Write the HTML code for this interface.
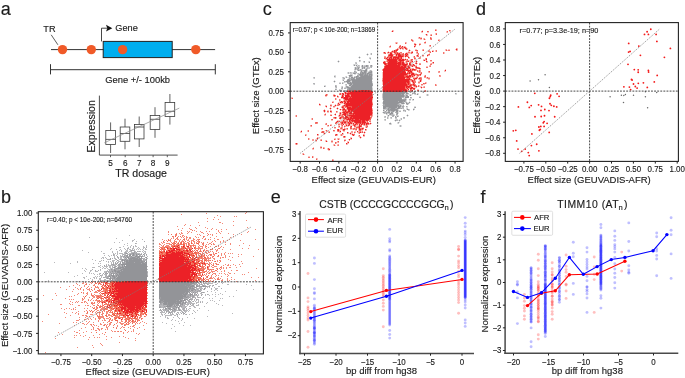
<!DOCTYPE html>
<html><head><meta charset="utf-8"><style>
html,body{margin:0;padding:0;background:#fff;}
body{width:685px;height:378px;overflow:hidden;}
svg{display:block;font-family:"Liberation Sans", sans-serif;will-change:transform;}
text{stroke:#1a1a1a;stroke-width:0.14px;paint-order:stroke;}
</style></head><body>
<svg width="685" height="378" viewBox="0 0 685 378">
<text x="0.70" y="14.60" font-size="18" text-anchor="start" fill="#1a1a1a" >a</text><text x="1.00" y="202.70" font-size="18" text-anchor="start" fill="#1a1a1a" >b</text><text x="262.70" y="14.60" font-size="18" text-anchor="start" fill="#1a1a1a" >c</text><text x="476.00" y="14.60" font-size="18" text-anchor="start" fill="#1a1a1a" >d</text><text x="270.80" y="203.00" font-size="18" text-anchor="start" fill="#1a1a1a" >e</text><text x="480.60" y="203.00" font-size="18" text-anchor="start" fill="#1a1a1a" >f</text><line x1="51.20" y1="34.80" x2="57.90" y2="44.80" stroke="#333" stroke-width="0.8" /><text x="43.30" y="32.30" font-size="9.2" text-anchor="start" fill="#1a1a1a" >TR</text><line x1="51.00" y1="49.60" x2="215.10" y2="49.60" stroke="#333" stroke-width="1" /><rect x="103.2" y="41.4" width="69" height="16.2" fill="#00aeef" stroke="#222" stroke-width="1"/><circle cx="62.5" cy="49.6" r="4.7" fill="#f05a28"/><circle cx="91.3" cy="49.6" r="4.7" fill="#f05a28"/><circle cx="122.6" cy="49.6" r="4.7" fill="#f05a28"/><circle cx="195.8" cy="49.6" r="4.7" fill="#f05a28"/><polyline points="101.5,41.4 101.5,28.2 107.5,28.2" fill="none" stroke="#333" stroke-width="0.9"/><polygon points="106,24.8 112.3,28.2 106,31.6 107.3,28.2" fill="#111"/><text x="115.30" y="31.20" font-size="9.2" text-anchor="start" fill="#1a1a1a" >Gene</text><line x1="50.50" y1="69.70" x2="215.30" y2="69.70" stroke="#333" stroke-width="1" /><line x1="50.50" y1="64.20" x2="50.50" y2="74.40" stroke="#333" stroke-width="1" /><line x1="215.30" y1="64.20" x2="215.30" y2="74.40" stroke="#333" stroke-width="1" /><text x="105.20" y="82.70" font-size="9.4" text-anchor="start" fill="#1a1a1a" >Gene +/- 100kb</text><line x1="99.40" y1="95.60" x2="99.40" y2="155.10" stroke="#3a3a3a" stroke-width="0.9" /><line x1="99.40" y1="155.10" x2="177.60" y2="155.10" stroke="#3a3a3a" stroke-width="0.9" /><line x1="110.60" y1="122.40" x2="110.60" y2="130.40" stroke="#3a3a3a" stroke-width="0.8" /><line x1="110.60" y1="144.60" x2="110.60" y2="153.00" stroke="#3a3a3a" stroke-width="0.8" /><rect x="105.80" y="130.4" width="9.6" height="14.20" fill="none" stroke="#3a3a3a" stroke-width="0.8"/><line x1="105.80" y1="139.40" x2="115.40" y2="139.40" stroke="#3a3a3a" stroke-width="0.8" /><line x1="110.50" y1="155.10" x2="110.50" y2="157.20" stroke="#3a3a3a" stroke-width="0.8" /><line x1="125.00" y1="118.70" x2="125.00" y2="127.00" stroke="#3a3a3a" stroke-width="0.8" /><line x1="125.00" y1="141.30" x2="125.00" y2="149.30" stroke="#3a3a3a" stroke-width="0.8" /><rect x="120.20" y="127.0" width="9.6" height="14.30" fill="none" stroke="#3a3a3a" stroke-width="0.8"/><line x1="120.20" y1="133.50" x2="129.80" y2="133.50" stroke="#3a3a3a" stroke-width="0.8" /><line x1="125.20" y1="155.10" x2="125.20" y2="157.20" stroke="#3a3a3a" stroke-width="0.8" /><line x1="139.20" y1="116.50" x2="139.20" y2="124.40" stroke="#3a3a3a" stroke-width="0.8" /><line x1="139.20" y1="138.90" x2="139.20" y2="147.00" stroke="#3a3a3a" stroke-width="0.8" /><rect x="134.40" y="124.4" width="9.6" height="14.50" fill="none" stroke="#3a3a3a" stroke-width="0.8"/><line x1="134.40" y1="127.00" x2="144.00" y2="127.00" stroke="#3a3a3a" stroke-width="0.8" /><line x1="139.20" y1="155.10" x2="139.20" y2="157.20" stroke="#3a3a3a" stroke-width="0.8" /><line x1="155.00" y1="107.20" x2="155.00" y2="115.50" stroke="#3a3a3a" stroke-width="0.8" /><line x1="155.00" y1="129.40" x2="155.00" y2="137.80" stroke="#3a3a3a" stroke-width="0.8" /><rect x="150.20" y="115.5" width="9.6" height="13.90" fill="none" stroke="#3a3a3a" stroke-width="0.8"/><line x1="150.20" y1="119.30" x2="159.80" y2="119.30" stroke="#3a3a3a" stroke-width="0.8" /><line x1="153.10" y1="155.10" x2="153.10" y2="157.20" stroke="#3a3a3a" stroke-width="0.8" /><line x1="169.90" y1="94.00" x2="169.90" y2="102.40" stroke="#3a3a3a" stroke-width="0.8" /><line x1="169.90" y1="116.50" x2="169.90" y2="124.60" stroke="#3a3a3a" stroke-width="0.8" /><rect x="165.10" y="102.4" width="9.6" height="14.10" fill="none" stroke="#3a3a3a" stroke-width="0.8"/><line x1="165.10" y1="111.30" x2="174.70" y2="111.30" stroke="#3a3a3a" stroke-width="0.8" /><line x1="167.30" y1="155.10" x2="167.30" y2="157.20" stroke="#3a3a3a" stroke-width="0.8" /><text x="110.50" y="166.10" font-size="8.2" text-anchor="middle" fill="#1a1a1a" >5</text><text x="125.20" y="166.10" font-size="8.2" text-anchor="middle" fill="#1a1a1a" >6</text><text x="139.20" y="166.10" font-size="8.2" text-anchor="middle" fill="#1a1a1a" >7</text><text x="153.10" y="166.10" font-size="8.2" text-anchor="middle" fill="#1a1a1a" >8</text><text x="167.30" y="166.10" font-size="8.2" text-anchor="middle" fill="#1a1a1a" >9</text><line x1="104.30" y1="142.80" x2="179.30" y2="108.10" stroke="#8a8a8a" stroke-width="0.7" /><text x="115.20" y="177.40" font-size="10.6" text-anchor="start" fill="#1a1a1a" >TR dosage</text><text transform="translate(94.6,152.5) rotate(-90)" font-size="10.6" fill="#1a1a1a">Expression</text><path d="M0 0m129 235h1v1h-1zm-40 2h1v1h-1zm27 1h1v1h-1zm18 1h1v1h-1zm8 0h1v1h-1zm-20 1h1v1h-1zm10 0h2v1h-2zm0 1h1v1h-1zm4 0h1v1h-1zm-22 1h1v1h-1zm5 0h1v1h-1zm8 1h1v1h-1zm9 0h1v1h-1zm-12 1h1v1h-1zm3 1h1v1h-1zm4 0h1v1h-1zm4 0h1v1h-1zm11 0h1v1h-1zm-23 1h1v1h-1zm7 0h1v1h-1zm5 0h2v1h-2zm8 0h1v1h-1zm3 0h1v1h-1zm-27 1h2v1h-2zm9 0h1v1h-1zm2 0h1v1h-1zm3 0h1v1h-1zm5 0h1v1h-1zm5 0h2v1h-2zm-32 1h1v1h-1zm13 0h1v1h-1zm4 0h1v1h-1zm4 0h2v1h-2zm5 0h1v1h-1zm2 0h1v1h-1zm4 0h1v1h-1zm2 0h1v1h-1zm-35 1h1v1h-1zm10 0h1v1h-1zm5 0h1v1h-1zm2 0h1v1h-1zm2 0h2v1h-2zm3 0h1v1h-1zm2 0h1v1h-1zm2 0h1v1h-1zm2 0h1v1h-1zm2 0h1v1h-1zm2 0h1v1h-1zm3 0h2v1h-2zm-63 1h1v1h-1zm37 0h1v1h-1zm2 0h1v1h-1zm5 0h2v1h-2zm4 0h1v1h-1zm4 0h1v1h-1zm9 0h1v1h-1zm-42 1h1v1h-1zm11 0h1v1h-1zm5 0h1v1h-1zm4 0h1v1h-1zm4 0h3v1h-3zm4 0h3v1h-3zm6 0h1v1h-1zm3 0h1v1h-1zm2 0h1v1h-1zm2 0h1v1h-1zm2 0h2v1h-2zm-56 1h1v1h-1zm24 0h1v1h-1zm5 0h1v1h-1zm7 0h1v1h-1zm2 0h1v1h-1zm2 0h1v1h-1zm3 0h3v1h-3zm4 0h1v1h-1zm8 0h1v1h-1zm2 0h1v1h-1zm-42 1h2v1h-2zm10 0h1v1h-1zm2 0h1v1h-1zm2 0h1v1h-1zm2 0h4v1h-4zm5 0h1v1h-1zm5 0h2v1h-2zm8 0h3v1h-3zm4 0h1v1h-1zm4 0h1v1h-1zm-31 1h1v1h-1zm3 0h1v1h-1zm5 0h1v1h-1zm2 0h2v1h-2zm3 0h2v1h-2zm4 0h1v1h-1zm4 0h1v1h-1zm9 0h1v1h-1zm-40 1h1v1h-1zm4 0h1v1h-1zm3 0h1v1h-1zm3 0h1v1h-1zm2 0h1v1h-1zm4 0h1v1h-1zm2 0h1v1h-1zm13 0h1v1h-1zm5 0h1v1h-1zm2 0h1v1h-1zm4 0h1v1h-1zm-37 1h1v1h-1zm5 0h1v1h-1zm6 0h1v1h-1zm2 0h1v1h-1zm3 0h1v1h-1zm3 0h1v1h-1zm4 0h3v1h-3zm11 0h2v1h-2zm4 0h1v1h-1zm-45 1h2v1h-2zm3 0h1v1h-1zm9 0h1v1h-1zm3 0h1v1h-1zm3 0h2v1h-2zm4 0h1v1h-1zm2 0h1v1h-1zm3 0h1v1h-1zm-28 1h1v1h-1zm2 0h1v1h-1zm3 0h1v1h-1zm8 0h2v1h-2zm6 0h2v1h-2zm4 0h2v1h-2zm19 0h1v1h-1zm3 0h2v1h-2zm-54 1h1v1h-1zm15 0h3v1h-3zm8 0h1v1h-1zm4 0h1v1h-1zm9 0h1v1h-1zm16 0h1v1h-1zm-49 1h1v1h-1zm6 0h1v1h-1zm11 0h3v1h-3zm6 0h1v1h-1zm24 0h1v1h-1zm3 0h1v1h-1zm-68 1h1v1h-1zm22 0h2v1h-2zm7 0h1v1h-1zm2 0h1v1h-1zm2 0h1v1h-1zm2 0h2v1h-2zm4 0h1v1h-1zm2 0h5v1h-5zm-64 1h1v1h-1zm23 0h1v1h-1zm31 0h1v1h-1zm3 0h1v1h-1zm7 0h1v1h-1zm7 0h1v1h-1zm19 0h1v1h-1zm-74 1h1v1h-1zm23 0h1v1h-1zm5 0h1v1h-1zm2 0h1v1h-1zm11 0h1v1h-1zm5 0h1v1h-1zm3 0h1v1h-1zm-13 1h1v1h-1zm2 0h1v1h-1zm6 0h2v1h-2zm-14 1h1v1h-1zm8 0h5v1h-5zm7 0h1v1h-1zm2 0h1v1h-1zm3 0h2v1h-2zm3 0h1v1h-1zm-25 1h2v1h-2zm4 0h1v1h-1zm2 0h4v1h-4zm5 0h2v1h-2zm5 0h1v1h-1zm7 0h1v1h-1zm26 0h1v1h-1zm-55 1h3v1h-3zm8 0h1v1h-1zm3 0h1v1h-1zm3 0h1v1h-1zm3 0h2v1h-2zm3 0h1v1h-1zm3 0h1v1h-1zm2 0h1v1h-1zm-35 1h1v1h-1zm3 0h1v1h-1zm17 0h1v1h-1zm2 0h2v1h-2zm3 0h1v1h-1zm3 0h3v1h-3zm4 0h1v1h-1zm-28 1h1v1h-1zm22 0h3v1h-3zm5 0h1v1h-1zm6 0h1v1h-1zm28 0h1v1h-1zm-63 1h1v1h-1zm6 0h2v1h-2zm10 0h1v1h-1zm7 0h1v1h-1zm3 0h1v1h-1zm-25 1h1v1h-1zm5 0h1v1h-1zm5 0h3v1h-3zm9 0h2v1h-2zm3 0h1v1h-1zm2 0h1v1h-1zm38 0h1v1h-1zm-103 1h1v1h-1zm24 0h1v1h-1zm21 0h1v1h-1zm15 0h2v1h-2zm4 0h2v1h-2zm3 0h1v1h-1zm3 0h1v1h-1zm-32 1h1v1h-1zm7 0h1v1h-1zm2 0h1v1h-1zm2 0h1v1h-1zm6 0h1v1h-1zm11 0h1v1h-1zm37 0h1v1h-1zm-53 1h1v1h-1zm3 0h1v1h-1zm2 0h1v1h-1zm3 0h1v1h-1zm2 0h2v1h-2zm43 0h1v1h-1zm-70 1h1v1h-1zm24 0h2v1h-2zm4 0h1v1h-1zm3 0h1v1h-1zm-34 1h1v1h-1zm12 0h1v1h-1zm9 0h1v1h-1zm2 0h1v1h-1zm2 0h1v1h-1zm2 0h1v1h-1zm5 0h1v1h-1zm5 0h1v1h-1zm6 0h1v1h-1zm-34 1h2v1h-2zm10 0h2v1h-2zm3 0h1v1h-1zm5 0h1v1h-1zm4 0h1v1h-1zm3 0h1v1h-1zm3 0h1v1h-1zm5 0h1v1h-1zm-32 1h1v1h-1zm6 0h1v1h-1zm4 0h1v1h-1zm2 0h1v1h-1zm3 0h1v1h-1zm7 0h1v1h-1zm-18 1h1v1h-1zm4 0h1v1h-1zm7 0h2v1h-2zm5 0h2v1h-2zm5 0h1v1h-1zm4 0h1v1h-1zm-65 1h1v1h-1zm44 0h1v1h-1zm6 0h1v1h-1zm3 0h3v1h-3zm4 0h2v1h-2zm4 0h1v1h-1zm-63 1h1v1h-1zm31 0h1v1h-1zm2 0h1v1h-1zm4 0h1v1h-1zm10 0h1v1h-1zm2 0h1v1h-1zm3 0h2v1h-2zm5 0h1v1h-1zm2 0h2v1h-2zm4 0h1v1h-1zm38 0h1v1h-1zm36 0h2v1h-2zm6 0h1v1h-1zm3 0h1v1h-1zm8 0h2v1h-2zm5 0h1v1h-1zm10 0h1v1h-1zm12 0h1v1h-1zm-33 1h1v1h-1zm9 0h1v1h-1zm2 0h1v1h-1zm3 0h1v1h-1zm6 0h2v1h-2zm7 0h1v1h-1zm2 0h1v1h-1zm-25 1h1v1h-1zm3 0h1v1h-1zm4 0h1v1h-1zm2 0h6v1h-6zm10 0h1v1h-1zm5 0h1v1h-1zm-30 1h2v1h-2zm4 0h1v1h-1zm3 0h2v1h-2zm3 0h1v1h-1zm2 0h1v1h-1zm4 0h1v1h-1zm7 0h2v1h-2zm12 0h2v1h-2zm19 0h1v1h-1zm-52 1h1v1h-1zm4 0h1v1h-1zm6 0h2v1h-2zm5 0h2v1h-2zm3 0h1v1h-1zm39 0h1v1h-1zm-44 1h2v1h-2zm5 0h1v1h-1zm6 0h2v1h-2zm-25 1h1v1h-1zm6 0h3v1h-3zm6 0h1v1h-1zm2 0h1v1h-1zm2 0h1v1h-1zm5 0h1v1h-1zm-26 1h1v1h-1zm6 0h1v1h-1zm3 0h6v1h-6zm8 0h1v1h-1zm10 0h3v1h-3zm-19 1h1v1h-1zm2 0h1v1h-1zm3 0h1v1h-1zm2 0h1v1h-1zm8 0h1v1h-1zm4 0h2v1h-2zm38 0h1v1h-1zm-63 1h1v1h-1zm4 0h1v1h-1zm2 0h2v1h-2zm4 0h2v1h-2zm14 0h1v1h-1zm3 0h1v1h-1zm19 0h1v1h-1zm-45 1h1v1h-1zm2 0h1v1h-1zm2 0h2v1h-2zm3 0h1v1h-1zm13 0h1v1h-1zm14 0h1v1h-1zm-37 1h1v1h-1zm4 0h1v1h-1zm2 0h1v1h-1zm3 0h1v1h-1zm7 0h1v1h-1zm11 0h1v1h-1zm-26 1h1v1h-1zm6 0h1v1h-1zm5 0h2v1h-2zm20 0h1v1h-1zm-25 1h1v1h-1zm3 0h1v1h-1zm3 0h2v1h-2zm4 0h1v1h-1zm3 0h1v1h-1zm4 0h1v1h-1zm3 0h1v1h-1zm3 0h1v1h-1zm4 0h1v1h-1zm-31 1h1v1h-1zm4 0h4v1h-4zm10 0h1v1h-1zm4 0h1v1h-1zm-20 1h1v1h-1zm2 0h1v1h-1zm3 0h1v1h-1zm21 0h1v1h-1zm14 0h1v1h-1zm4 0h1v1h-1zm-43 1h1v1h-1zm4 0h2v1h-2zm3 0h1v1h-1zm2 0h2v1h-2zm4 0h1v1h-1zm-17 1h2v1h-2zm4 0h3v1h-3zm12 0h1v1h-1zm7 0h1v1h-1zm3 0h1v1h-1zm8 0h1v1h-1zm2 0h1v1h-1zm-63 1h1v1h-1zm35 0h1v1h-1zm3 0h2v1h-2zm-38 1h1v1h-1zm20 0h1v1h-1zm8 0h1v1h-1zm2 0h1v1h-1zm2 0h1v1h-1zm3 0h1v1h-1zm2 0h1v1h-1zm2 0h1v1h-1zm12 0h1v1h-1zm2 0h1v1h-1zm7 0h1v1h-1zm-34 1h2v1h-2zm7 0h1v1h-1zm3 0h1v1h-1zm3 0h1v1h-1zm2 0h1v1h-1zm2 0h1v1h-1zm12 0h1v1h-1zm-33 1h1v1h-1zm3 0h1v1h-1zm3 0h5v1h-5zm9 0h3v1h-3zm6 0h1v1h-1zm5 0h1v1h-1zm-45 1h1v1h-1zm25 0h8v1h-8zm9 0h1v1h-1zm10 0h1v1h-1zm10 0h1v1h-1zm-54 1h1v1h-1zm21 0h5v1h-5zm9 0h1v1h-1zm6 0h1v1h-1zm20 0h1v1h-1zm-58 1h3v1h-3zm4 0h3v1h-3zm9 0h1v1h-1zm2 0h1v1h-1zm4 0h1v1h-1zm2 0h1v1h-1zm2 0h1v1h-1zm4 0h1v1h-1zm4 0h3v1h-3zm6 0h2v1h-2zm25 0h1v1h-1zm-61 1h3v1h-3zm15 0h1v1h-1zm6 0h5v1h-5zm7 0h2v1h-2zm4 0h2v1h-2zm11 0h1v1h-1zm-43 1h2v1h-2zm3 0h2v1h-2zm7 0h1v1h-1zm8 0h1v1h-1zm2 0h4v1h-4zm13 0h2v1h-2zm-31 1h1v1h-1zm4 0h1v1h-1zm5 0h1v1h-1zm3 0h1v1h-1zm4 0h1v1h-1zm3 0h1v1h-1zm7 0h2v1h-2zm10 0h1v1h-1zm-37 1h3v1h-3zm5 0h2v1h-2zm6 0h1v1h-1zm3 0h1v1h-1zm4 0h1v1h-1zm2 0h1v1h-1zm2 0h1v1h-1zm2 0h1v1h-1zm2 0h1v1h-1zm-29 1h1v1h-1zm5 0h1v1h-1zm2 0h1v1h-1zm4 0h1v1h-1zm6 0h3v1h-3zm5 0h1v1h-1zm4 0h3v1h-3zm4 0h1v1h-1zm4 0h1v1h-1zm4 0h1v1h-1zm11 0h1v1h-1zm-47 1h2v1h-2zm3 0h1v1h-1zm3 0h1v1h-1zm2 0h1v1h-1zm2 0h1v1h-1zm2 0h1v1h-1zm2 0h1v1h-1zm6 0h2v1h-2zm3 0h3v1h-3zm4 0h1v1h-1zm6 0h1v1h-1zm-33 1h4v1h-4zm5 0h1v1h-1zm2 0h1v1h-1zm4 0h1v1h-1zm2 0h1v1h-1zm4 0h1v1h-1zm2 0h1v1h-1zm15 0h1v1h-1zm-34 1h1v1h-1zm15 0h1v1h-1zm2 0h1v1h-1zm54 0h1v1h-1zm-71 1h2v1h-2zm3 0h1v1h-1zm6 0h4v1h-4zm6 0h1v1h-1zm3 0h1v1h-1zm4 0h1v1h-1zm2 0h1v1h-1zm4 0h1v1h-1zm-27 1h1v1h-1zm3 0h7v1h-7zm9 0h2v1h-2zm3 0h1v1h-1zm-17 1h1v1h-1zm5 0h1v1h-1zm42 0h1v1h-1zm-42 1h1v1h-1zm2 0h1v1h-1zm6 0h1v1h-1zm5 0h1v1h-1zm9 0h1v1h-1zm-20 1h2v1h-2zm15 0h1v1h-1zm12 0h1v1h-1zm-22 1h1v1h-1zm10 0h1v1h-1zm-11 1h1v1h-1zm4 0h1v1h-1zm6 0h1v1h-1zm-3 1h1v1h-1zm-16 1h1v1h-1zm22 0h1v1h-1zm-18 1h1v1h-1zm13 0h1v1h-1zm-7 1h1v1h-1zm11 1h1v1h-1zm7 0h1v1h-1zm-16 1h1v1h-1zm-3 2h1v1h-1zm4 3h1v1h-1z" fill="#939498" fill-opacity="0.65"/><path d="M0 0m144 241h1v1h-1zm-9 2h1v1h-1zm-2 3h1v1h-1zm13 1h1v1h-1zm-19 1h1v1h-1zm-11 1h1v1h-1zm16 1h2v1h-2zm2 1h1v1h-1zm3 0h1v1h-1zm2 0h1v1h-1zm-14 1h1v1h-1zm11 0h1v1h-1zm-11 1h1v1h-1zm2 0h1v1h-1zm4 0h1v1h-1zm3 0h3v1h-3zm10 0h1v1h-1zm-31 1h1v1h-1zm10 0h1v1h-1zm6 0h1v1h-1zm3 0h1v1h-1zm2 0h1v1h-1zm3 0h1v1h-1zm2 0h2v1h-2zm-26 1h1v1h-1zm11 0h2v1h-2zm10 0h1v1h-1zm3 0h1v1h-1zm2 0h1v1h-1zm-18 1h1v1h-1zm2 0h1v1h-1zm7 0h1v1h-1zm10 0h1v1h-1zm-22 1h1v1h-1zm5 0h1v1h-1zm13 0h1v1h-1zm9 0h1v1h-1zm-33 1h1v1h-1zm6 0h1v1h-1zm20 0h1v1h-1zm4 0h1v1h-1zm2 0h1v1h-1zm-34 1h1v1h-1zm6 0h1v1h-1zm4 0h2v1h-2zm3 0h2v1h-2zm3 0h2v1h-2zm19 0h1v1h-1zm-42 1h1v1h-1zm18 0h1v1h-1zm4 0h1v1h-1zm18 0h2v1h-2zm3 0h1v1h-1zm-33 2h1v1h-1zm2 0h1v1h-1zm2 0h1v1h-1zm6 0h1v1h-1zm11 0h1v1h-1zm-21 1h1v1h-1zm4 0h1v1h-1zm5 0h1v1h-1zm19 0h1v1h-1zm-30 1h2v1h-2zm5 0h1v1h-1zm4 0h1v1h-1zm-14 1h1v1h-1zm7 0h2v1h-2zm5 0h1v1h-1zm-6 1h1v1h-1zm4 0h1v1h-1zm2 0h1v1h-1zm2 0h1v1h-1zm3 0h1v1h-1zm-10 1h1v1h-1zm11 0h1v1h-1zm-9 1h1v1h-1zm6 0h1v1h-1zm-29 1h1v1h-1zm8 0h1v1h-1zm12 0h1v1h-1zm3 0h4v1h-4zm5 0h1v1h-1zm-25 1h1v1h-1zm3 0h1v1h-1zm11 0h1v1h-1zm2 0h3v1h-3zm5 0h2v1h-2zm6 0h1v1h-1zm-16 1h1v1h-1zm2 0h1v1h-1zm2 0h2v1h-2zm3 0h1v1h-1zm7 0h1v1h-1zm-14 1h1v1h-1zm6 0h2v1h-2zm4 0h1v1h-1zm31 0h1v1h-1zm-47 1h1v1h-1zm6 0h1v1h-1zm3 0h1v1h-1zm3 0h1v1h-1zm3 0h1v1h-1zm2 0h2v1h-2zm-11 1h1v1h-1zm3 0h3v1h-3zm6 0h2v1h-2zm3 0h1v1h-1zm-12 1h1v1h-1zm4 0h1v1h-1zm4 0h2v1h-2zm33 0h1v1h-1zm-42 1h1v1h-1zm2 0h1v1h-1zm8 0h1v1h-1zm-12 1h2v1h-2zm3 0h2v1h-2zm6 0h1v1h-1zm-12 1h1v1h-1zm8 0h1v1h-1zm3 0h1v1h-1zm4 0h1v1h-1zm-1 1h1v1h-1zm-10 1h1v1h-1zm3 0h2v1h-2zm3 0h1v1h-1zm3 0h2v1h-2zm34 0h1v1h-1zm-45 1h1v1h-1zm8 0h1v1h-1zm49 0h1v1h-1zm22 0h1v1h-1zm4 0h1v1h-1zm3 0h1v1h-1zm5 0h1v1h-1zm8 1h1v1h-1zm-6 1h1v1h-1zm4 0h1v1h-1zm4 0h2v1h-2zm3 0h1v1h-1zm-11 1h1v1h-1zm2 1h1v1h-1zm5 0h1v1h-1zm-8 1h1v1h-1zm4 0h3v1h-3zm4 0h1v1h-1zm-11 1h1v1h-1zm5 0h1v1h-1zm0 1h1v1h-1zm15 0h1v1h-1zm10 0h1v1h-1zm-31 1h1v1h-1zm5 0h1v1h-1zm2 0h1v1h-1zm-4 1h1v1h-1zm5 0h2v1h-2zm-9 1h1v1h-1zm3 0h1v1h-1zm2 0h1v1h-1zm5 0h2v1h-2zm8 0h1v1h-1zm-16 1h1v1h-1zm5 0h1v1h-1zm5 0h2v1h-2zm-9 1h1v1h-1zm2 0h1v1h-1zm3 0h1v1h-1zm-10 1h3v1h-3zm20 0h1v1h-1zm-21 1h4v1h-4zm7 0h2v1h-2zm-7 1h1v1h-1zm4 0h1v1h-1zm2 0h1v1h-1zm5 0h1v1h-1zm-14 1h1v1h-1zm5 0h1v1h-1zm5 0h1v1h-1zm5 0h1v1h-1zm-14 1h2v1h-2zm4 0h1v1h-1zm7 0h1v1h-1zm-14 1h2v1h-2zm10 0h2v1h-2zm5 0h1v1h-1zm-8 1h1v1h-1zm-6 1h1v1h-1zm6 0h1v1h-1zm2 0h1v1h-1zm3 0h1v1h-1zm-30 1h1v1h-1zm23 0h1v1h-1zm14 0h1v1h-1zm-39 1h1v1h-1zm20 0h1v1h-1zm2 0h1v1h-1zm-24 1h3v1h-3zm16 0h1v1h-1zm13 0h1v1h-1zm5 0h1v1h-1zm-34 1h1v1h-1zm4 0h1v1h-1zm19 0h1v1h-1zm2 0h1v1h-1zm12 0h1v1h-1zm-37 1h2v1h-2zm6 0h1v1h-1zm7 0h1v1h-1zm5 0h1v1h-1zm3 0h1v1h-1zm-20 1h1v1h-1zm3 0h1v1h-1zm4 0h4v1h-4zm5 0h4v1h-4zm5 0h1v1h-1zm8 0h1v1h-1zm-9 1h1v1h-1zm7 0h2v1h-2zm3 0h1v1h-1zm-20 1h1v1h-1zm6 0h1v1h-1zm6 0h1v1h-1zm5 0h1v1h-1zm-23 1h2v1h-2zm3 0h1v1h-1zm2 0h1v1h-1zm2 0h1v1h-1zm6 0h3v1h-3zm7 0h1v1h-1zm3 0h2v1h-2zm-15 1h1v1h-1zm4 0h1v1h-1zm2 0h1v1h-1zm-14 1h1v1h-1zm10 0h2v1h-2zm7 0h1v1h-1zm5 0h2v1h-2zm3 0h1v1h-1zm-20 1h1v1h-1zm3 0h1v1h-1zm2 0h1v1h-1zm2 0h1v1h-1zm11 0h1v1h-1zm9 0h1v1h-1zm-6 1h1v1h-1zm-9 2h1v1h-1zm2 2h1v1h-1z" fill="#939498" fill-opacity="0.80"/><path d="M0 0m131 250h1v1h-1zm3 2h1v1h-1zm-2 1h1v1h-1zm9 1h1v1h-1zm2 0h1v1h-1zm3 0h1v1h-1zm-20 1h1v1h-1zm18 0h1v1h-1zm-27 1h1v1h-1zm7 0h1v1h-1zm2 0h2v1h-2zm3 0h1v1h-1zm8 0h1v1h-1zm5 0h1v1h-1zm-12 1h2v1h-2zm5 0h1v1h-1zm4 0h1v1h-1zm-29 1h1v1h-1zm16 0h1v1h-1zm3 0h1v1h-1zm12 0h1v1h-1zm-9 1h1v1h-1zm9 0h1v1h-1zm2 0h1v1h-1zm-26 1h1v1h-1zm6 0h1v1h-1zm5 0h1v1h-1zm-4 1h2v1h-2zm4 0h1v1h-1zm12 0h1v1h-1zm3 0h1v1h-1zm-23 1h1v1h-1zm4 0h1v1h-1zm19 0h1v1h-1zm-28 1h1v1h-1zm5 0h1v1h-1zm3 0h3v1h-3zm22 0h1v1h-1zm-32 1h1v1h-1zm5 0h2v1h-2zm-14 1h1v1h-1zm15 0h1v1h-1zm-4 1h1v1h-1zm4 0h1v1h-1zm0 1h1v1h-1zm-2 1h1v1h-1zm5 0h1v1h-1zm-4 2h2v1h-2zm-4 1h1v1h-1zm2 0h1v1h-1zm-6 1h1v1h-1zm5 0h1v1h-1zm-12 1h1v1h-1zm2 0h1v1h-1zm2 0h1v1h-1zm6 0h2v1h-2zm-13 2h1v1h-1zm9 0h1v1h-1zm3 0h1v1h-1zm5 0h1v1h-1zm2 0h1v1h-1zm-11 1h1v1h-1zm2 0h1v1h-1zm37 0h1v1h-1zm-34 1h1v1h-1zm2 0h1v1h-1zm-6 1h1v1h-1zm3 0h2v1h-2zm3 1h2v1h-2zm-15 1h1v1h-1zm16 0h1v1h-1zm-12 1h1v1h-1zm3 0h2v1h-2zm8 0h1v1h-1zm63 0h1v1h-1zm9 0h1v1h-1zm9 1h3v1h-3zm4 0h1v1h-1zm-11 1h1v1h-1zm5 0h1v1h-1zm2 0h1v1h-1zm-5 1h1v1h-1zm3 0h1v1h-1zm3 0h1v1h-1zm4 0h1v1h-1zm6 0h1v1h-1zm-22 1h1v1h-1zm5 0h2v1h-2zm9 0h1v1h-1zm4 0h1v1h-1zm10 0h1v1h-1zm-26 1h1v1h-1zm2 0h1v1h-1zm7 0h1v1h-1zm5 0h1v1h-1zm3 0h3v1h-3zm5 0h1v1h-1zm-21 1h1v1h-1zm4 0h1v1h-1zm2 0h2v1h-2zm-3 1h1v1h-1zm0 1h3v1h-3zm9 0h1v1h-1zm4 0h1v1h-1zm-16 1h1v1h-1zm7 0h1v1h-1zm-5 1h1v1h-1zm7 0h1v1h-1zm-12 1h1v1h-1zm10 0h1v1h-1zm8 0h1v1h-1zm-19 1h1v1h-1zm6 0h1v1h-1zm-8 1h1v1h-1zm10 0h1v1h-1zm2 0h1v1h-1zm-11 1h1v1h-1zm9 0h1v1h-1zm9 0h1v1h-1zm-14 1h2v1h-2zm6 0h1v1h-1zm-33 1h1v1h-1zm24 0h2v1h-2zm3 0h1v1h-1zm2 0h1v1h-1zm3 0h1v1h-1zm-32 1h1v1h-1zm23 0h1v1h-1zm2 1h1v1h-1zm2 0h1v1h-1zm3 0h1v1h-1zm-27 1h1v1h-1zm13 0h1v1h-1zm6 0h1v1h-1zm3 0h1v1h-1zm-24 1h2v1h-2zm22 0h1v1h-1zm6 0h1v1h-1zm-30 1h1v1h-1zm2 0h2v1h-2zm6 0h1v1h-1zm9 0h1v1h-1zm6 0h1v1h-1zm-22 1h1v1h-1zm7 0h1v1h-1zm7 0h1v1h-1zm10 0h2v1h-2zm-21 1h1v1h-1zm4 0h1v1h-1zm6 0h2v1h-2zm3 0h1v1h-1zm4 0h2v1h-2zm10 0h1v1h-1zm-22 1h1v1h-1zm4 0h1v1h-1zm5 0h2v1h-2zm3 0h1v1h-1zm-16 1h1v1h-1zm7 0h1v1h-1zm2 0h2v1h-2zm8 0h1v1h-1zm-15 2h1v1h-1zm4 0h1v1h-1zm4 0h1v1h-1zm-14 1h1v1h-1zm5 0h1v1h-1zm4 0h2v1h-2zm6 0h1v1h-1zm4 0h1v1h-1zm-11 1h1v1h-1zm4 0h1v1h-1zm7 0h1v1h-1zm-13 1h1v1h-1zm15 2h1v1h-1zm3 0h1v1h-1zm-7 1h1v1h-1z" fill="#939498" fill-opacity="0.90"/><path d="M0 0m126 253h1v1h-1zm7 0h1v1h-1zm-3 1h1v1h-1zm3 0h1v1h-1zm3 0h1v1h-1zm2 0h1v1h-1zm-11 1h1v1h-1zm2 0h2v1h-2zm3 0h2v1h-2zm4 0h1v1h-1zm-5 1h1v1h-1zm4 0h2v1h-2zm3 0h2v1h-2zm3 0h1v1h-1zm-16 1h1v1h-1zm2 0h2v1h-2zm5 0h3v1h-3zm5 0h2v1h-2zm4 0h1v1h-1zm5 0h1v1h-1zm-18 1h1v1h-1zm2 0h8v1h-8zm9 0h2v1h-2zm-17 1h1v1h-1zm3 0h1v1h-1zm4 0h3v1h-3zm4 0h8v1h-8zm13 0h1v1h-1zm-24 1h1v1h-1zm2 0h1v1h-1zm2 0h2v1h-2zm3 0h13v1h-13zm-3 1h2v1h-2zm3 0h11v1h-11zm12 0h2v1h-2zm3 0h1v1h-1zm2 0h1v1h-1zm-24 1h1v1h-1zm4 0h8v1h-8zm9 0h8v1h-8zm10 0h2v1h-2zm-19 1h15v1h-15zm16 0h3v1h-3zm4 0h1v1h-1zm-25 1h26v1h-26zm1 1h1v1h-1zm2 0h1v1h-1zm2 0h21v1h-21zm-4 1h1v1h-1zm2 0h23v1h-23zm-10 1h1v1h-1zm4 0h1v1h-1zm2 0h4v1h-4zm5 0h22v1h-22zm-9 1h1v1h-1zm2 0h3v1h-3zm5 0h24v1h-24zm-12 1h1v1h-1zm3 0h1v1h-1zm7 0h26v1h-26zm-7 1h2v1h-2zm6 0h2v1h-2zm3 0h24v1h-24zm-11 1h1v1h-1zm3 0h1v1h-1zm2 0h3v1h-3zm4 0h26v1h-26zm-4 1h30v1h-30zm-6 1h1v1h-1zm5 0h1v1h-1zm3 0h28v1h-28zm-6 1h1v1h-1zm4 0h1v1h-1zm2 0h28v1h-28zm-8 1h1v1h-1zm2 0h1v1h-1zm3 0h1v1h-1zm2 0h1v1h-1zm2 0h27v1h-27zm-11 1h1v1h-1zm3 0h3v1h-3zm4 0h1v1h-1zm2 0h29v1h-29zm-8 1h1v1h-1zm4 0h1v1h-1zm3 0h30v1h-30zm-10 1h1v1h-1zm3 0h1v1h-1zm4 0h1v1h-1zm2 0h31v1h-31zm-6 1h1v1h-1zm2 0h1v1h-1zm5 0h30v1h-30zm-6 1h2v1h-2zm4 0h1v1h-1zm2 0h30v1h-30zm-26 1h1v1h-1zm21 0h1v1h-1zm2 0h1v1h-1zm2 0h31v1h-31zm44 0h18v1h-18zm19 0h2v1h-2zm3 0h1v1h-1zm-23 1h35v1h-35zm36 0h1v1h-1zm-36 1h30v1h-30zm31 0h4v1h-4zm-31 1h32v1h-32zm0 1h26v1h-26zm27 0h4v1h-4zm6 0h2v1h-2zm4 0h1v1h-1zm-37 1h28v1h-28zm29 0h1v1h-1zm2 0h4v1h-4zm7 0h1v1h-1zm6 0h1v1h-1zm-44 1h29v1h-29zm30 0h2v1h-2zm-30 1h29v1h-29zm30 0h2v1h-2zm3 0h2v1h-2zm12 0h1v1h-1zm-45 1h31v1h-31zm35 0h1v1h-1zm-35 1h29v1h-29zm30 0h1v1h-1zm2 0h2v1h-2zm-32 1h30v1h-30zm0 1h26v1h-26zm27 0h2v1h-2zm3 0h1v1h-1zm4 0h1v1h-1zm-34 1h25v1h-25zm26 0h3v1h-3zm-26 1h23v1h-23zm24 0h4v1h-4zm7 0h2v1h-2zm6 0h1v1h-1zm-37 1h24v1h-24zm25 0h2v1h-2zm6 0h1v1h-1zm-31 1h27v1h-27zm0 1h1v1h-1zm2 0h22v1h-22zm25 0h1v1h-1zm-27 1h1v1h-1zm2 0h22v1h-22zm-1 1h21v1h-21zm24 0h1v1h-1zm2 0h1v1h-1zm3 0h1v1h-1zm-29 1h3v1h-3zm4 0h12v1h-12zm13 0h2v1h-2zm3 0h2v1h-2zm3 0h2v1h-2zm-24 1h2v1h-2zm4 0h19v1h-19zm-3 1h1v1h-1zm4 0h3v1h-3zm4 0h8v1h-8zm9 0h4v1h-4zm6 0h1v1h-1zm2 0h1v1h-1zm-22 1h4v1h-4zm5 0h6v1h-6zm7 0h6v1h-6zm7 0h1v1h-1zm-18 1h3v1h-3zm4 0h5v1h-5zm9 0h2v1h-2zm5 0h1v1h-1zm-15 1h1v1h-1zm2 0h3v1h-3zm5 0h1v1h-1zm2 0h1v1h-1zm-10 1h5v1h-5zm9 0h1v1h-1zm4 0h1v1h-1zm-20 1h1v1h-1zm17 0h1v1h-1zm2 0h1v1h-1zm-13 1h1v1h-1zm3 0h2v1h-2zm5 0h1v1h-1zm5 0h1v1h-1zm-7 1h1v1h-1zm3 0h1v1h-1zm-5 3h1v1h-1z" fill="#939498"/><path d="M0 0m246 212h1v1h-1zm-40 1h1v1h-1zm39 0h1v1h-1zm-64 1h1v1h-1zm36 1h1v1h-1zm3 1h1v1h-1zm14 0h1v1h-1zm2 0h1v1h-1zm-22 1h1v1h-1zm-7 1h1v1h-1zm6 1h1v1h-1zm5 0h1v1h-1zm28 1h1v1h-1zm-39 1h1v1h-1zm26 0h1v1h-1zm-35 1h1v1h-1zm21 0h2v1h-2zm3 1h1v1h-1zm-37 1h1v1h-1zm-1 1h1v1h-1zm6 0h1v1h-1zm9 0h1v1h-1zm34 0h1v1h-1zm-56 1h1v1h-1zm18 1h1v1h-1zm10 0h1v1h-1zm42 0h1v1h-1zm-65 1h1v1h-1zm7 0h1v1h-1zm7 0h1v1h-1zm11 0h1v1h-1zm5 0h1v1h-1zm-34 1h1v1h-1zm12 0h2v1h-2zm21 0h1v1h-1zm5 0h1v1h-1zm5 0h1v1h-1zm5 0h1v1h-1zm29 0h1v1h-1zm-74 1h1v1h-1zm13 0h1v1h-1zm24 0h1v1h-1zm-50 1h1v1h-1zm19 0h1v1h-1zm2 0h1v1h-1zm7 0h1v1h-1zm4 0h1v1h-1zm6 0h1v1h-1zm3 0h1v1h-1zm9 0h1v1h-1zm3 0h1v1h-1zm27 0h1v1h-1zm-80 1h1v1h-1zm13 0h1v1h-1zm7 0h1v1h-1zm3 0h1v1h-1zm10 0h2v1h-2zm18 0h1v1h-1zm28 0h1v1h-1zm-71 1h1v1h-1zm3 0h1v1h-1zm2 0h2v1h-2zm6 0h1v1h-1zm16 0h1v1h-1zm4 0h1v1h-1zm9 0h1v1h-1zm4 0h1v1h-1zm8 0h1v1h-1zm-60 1h1v1h-1zm7 0h1v1h-1zm5 0h1v1h-1zm17 0h1v1h-1zm2 0h1v1h-1zm11 0h1v1h-1zm2 0h1v1h-1zm21 0h1v1h-1zm8 0h1v1h-1zm-66 1h2v1h-2zm7 0h2v1h-2zm18 0h1v1h-1zm7 0h1v1h-1zm5 0h1v1h-1zm-39 1h1v1h-1zm5 0h1v1h-1zm4 0h1v1h-1zm2 0h1v1h-1zm2 0h1v1h-1zm9 0h1v1h-1zm9 0h1v1h-1zm12 0h1v1h-1zm17 0h1v1h-1zm-60 1h1v1h-1zm8 0h1v1h-1zm2 0h1v1h-1zm3 0h2v1h-2zm3 0h2v1h-2zm7 0h1v1h-1zm2 0h1v1h-1zm5 0h1v1h-1zm7 0h1v1h-1zm12 0h1v1h-1zm8 0h1v1h-1zm-59 1h1v1h-1zm2 0h1v1h-1zm3 0h2v1h-2zm8 0h1v1h-1zm2 0h1v1h-1zm3 0h2v1h-2zm4 0h1v1h-1zm9 0h1v1h-1zm3 0h1v1h-1zm9 0h1v1h-1zm-52 1h1v1h-1zm8 0h1v1h-1zm7 0h2v1h-2zm3 0h1v1h-1zm6 0h1v1h-1zm2 0h1v1h-1zm5 0h2v1h-2zm4 0h2v1h-2zm7 0h2v1h-2zm6 0h1v1h-1zm7 0h2v1h-2zm12 0h1v1h-1zm26 0h1v1h-1zm-91 1h1v1h-1zm2 0h1v1h-1zm3 0h2v1h-2zm5 0h1v1h-1zm5 0h1v1h-1zm3 0h1v1h-1zm2 0h1v1h-1zm3 0h2v1h-2zm4 0h3v1h-3zm5 0h1v1h-1zm2 0h1v1h-1zm16 0h1v1h-1zm9 0h1v1h-1zm4 0h1v1h-1zm13 0h1v1h-1zm-70 1h1v1h-1zm4 0h3v1h-3zm5 0h1v1h-1zm2 0h2v1h-2zm10 0h1v1h-1zm2 0h2v1h-2zm4 0h2v1h-2zm15 0h1v1h-1zm3 0h1v1h-1zm5 0h1v1h-1zm3 0h1v1h-1zm-62 1h1v1h-1zm2 0h2v1h-2zm8 0h1v1h-1zm2 0h1v1h-1zm3 0h1v1h-1zm2 0h1v1h-1zm2 0h1v1h-1zm3 0h2v1h-2zm4 0h2v1h-2zm7 0h1v1h-1zm2 0h1v1h-1zm2 0h2v1h-2zm3 0h1v1h-1zm2 0h1v1h-1zm4 0h1v1h-1zm4 0h1v1h-1zm9 0h1v1h-1zm5 0h1v1h-1zm-66 1h1v1h-1zm3 0h1v1h-1zm4 0h4v1h-4zm7 0h1v1h-1zm4 0h1v1h-1zm7 0h3v1h-3zm5 0h1v1h-1zm3 0h1v1h-1zm2 0h1v1h-1zm2 0h1v1h-1zm6 0h1v1h-1zm7 0h2v1h-2zm4 0h1v1h-1zm17 0h1v1h-1zm13 0h1v1h-1zm-84 1h2v1h-2zm5 0h1v1h-1zm5 0h2v1h-2zm5 0h1v1h-1zm2 0h4v1h-4zm6 0h1v1h-1zm4 0h1v1h-1zm3 0h1v1h-1zm4 0h1v1h-1zm5 0h1v1h-1zm4 0h2v1h-2zm4 0h1v1h-1zm2 0h1v1h-1zm5 0h2v1h-2zm12 0h1v1h-1zm5 0h1v1h-1zm-69 1h1v1h-1zm5 0h3v1h-3zm5 0h3v1h-3zm4 0h1v1h-1zm4 0h1v1h-1zm7 0h1v1h-1zm2 0h2v1h-2zm3 0h2v1h-2zm3 0h2v1h-2zm5 0h1v1h-1zm6 0h1v1h-1zm13 0h1v1h-1zm21 0h1v1h-1zm10 0h1v1h-1zm-90 1h1v1h-1zm3 0h2v1h-2zm4 0h4v1h-4zm12 0h2v1h-2zm4 0h1v1h-1zm4 0h1v1h-1zm5 0h1v1h-1zm2 0h1v1h-1zm2 0h1v1h-1zm3 0h1v1h-1zm2 0h3v1h-3zm5 0h1v1h-1zm5 0h1v1h-1zm6 0h1v1h-1zm2 0h1v1h-1zm3 0h1v1h-1zm-61 1h1v1h-1zm2 0h2v1h-2zm3 0h1v1h-1zm3 0h3v1h-3zm8 0h1v1h-1zm5 0h1v1h-1zm4 0h1v1h-1zm2 0h1v1h-1zm2 0h3v1h-3zm9 0h2v1h-2zm4 0h1v1h-1zm3 0h1v1h-1zm3 0h1v1h-1zm12 0h1v1h-1zm3 0h1v1h-1zm-64 1h1v1h-1zm4 0h1v1h-1zm6 0h1v1h-1zm11 0h1v1h-1zm4 0h1v1h-1zm3 0h2v1h-2zm3 0h2v1h-2zm5 0h8v1h-8zm11 0h1v1h-1zm6 0h1v1h-1zm6 0h1v1h-1zm24 0h1v1h-1zm6 0h1v1h-1zm-87 1h1v1h-1zm6 0h3v1h-3zm16 0h2v1h-2zm12 0h1v1h-1zm5 0h1v1h-1zm4 0h1v1h-1zm7 0h2v1h-2zm4 0h1v1h-1zm2 0h1v1h-1zm5 0h1v1h-1zm8 0h1v1h-1zm28 0h1v1h-1zm-99 1h1v1h-1zm2 0h1v1h-1zm2 0h1v1h-1zm3 0h2v1h-2zm16 0h1v1h-1zm22 0h1v1h-1zm3 0h1v1h-1zm9 0h2v1h-2zm-55 1h2v1h-2zm7 0h1v1h-1zm21 0h1v1h-1zm3 0h2v1h-2zm3 0h1v1h-1zm2 0h1v1h-1zm4 0h1v1h-1zm4 0h1v1h-1zm3 0h1v1h-1zm2 0h1v1h-1zm2 0h1v1h-1zm4 0h1v1h-1zm-25 1h1v1h-1zm6 0h1v1h-1zm5 0h1v1h-1zm3 0h2v1h-2zm3 0h2v1h-2zm5 0h1v1h-1zm5 0h1v1h-1zm7 0h1v1h-1zm-65 1h1v1h-1zm3 0h2v1h-2zm20 0h1v1h-1zm6 0h2v1h-2zm8 0h2v1h-2zm5 0h2v1h-2zm4 0h2v1h-2zm7 0h1v1h-1zm8 0h1v1h-1zm3 0h1v1h-1zm4 0h1v1h-1zm2 0h1v1h-1zm2 0h1v1h-1zm-73 1h1v1h-1zm4 0h1v1h-1zm22 0h1v1h-1zm7 0h2v1h-2zm3 0h1v1h-1zm3 0h1v1h-1zm2 0h3v1h-3zm9 0h1v1h-1zm4 0h2v1h-2zm8 0h1v1h-1zm3 0h1v1h-1zm14 0h1v1h-1zm3 0h1v1h-1zm-80 1h1v1h-1zm26 0h1v1h-1zm11 0h2v1h-2zm4 0h2v1h-2zm6 0h1v1h-1zm3 0h1v1h-1zm3 0h1v1h-1zm7 0h1v1h-1zm4 0h1v1h-1zm-66 1h1v1h-1zm26 0h1v1h-1zm6 0h1v1h-1zm2 0h1v1h-1zm6 0h1v1h-1zm3 0h3v1h-3zm5 0h1v1h-1zm5 0h1v1h-1zm5 0h2v1h-2zm8 0h1v1h-1zm4 0h1v1h-1zm9 0h1v1h-1zm15 0h1v1h-1zm-56 1h1v1h-1zm3 0h1v1h-1zm2 0h1v1h-1zm5 0h2v1h-2zm3 0h1v1h-1zm2 0h1v1h-1zm8 0h1v1h-1zm2 0h2v1h-2zm3 0h1v1h-1zm7 0h1v1h-1zm-42 1h1v1h-1zm3 0h1v1h-1zm2 0h1v1h-1zm2 0h1v1h-1zm2 0h2v1h-2zm3 0h1v1h-1zm2 0h1v1h-1zm2 0h5v1h-5zm7 0h2v1h-2zm7 0h1v1h-1zm-60 1h2v1h-2zm35 0h1v1h-1zm4 0h1v1h-1zm6 0h1v1h-1zm3 0h1v1h-1zm6 0h1v1h-1zm14 0h1v1h-1zm-33 1h1v1h-1zm3 0h1v1h-1zm2 0h1v1h-1zm2 0h1v1h-1zm4 0h4v1h-4zm11 0h1v1h-1zm2 0h2v1h-2zm11 0h1v1h-1zm-33 1h1v1h-1zm4 0h1v1h-1zm3 0h1v1h-1zm2 0h1v1h-1zm2 0h1v1h-1zm6 0h1v1h-1zm3 0h1v1h-1zm24 0h1v1h-1zm-57 1h1v1h-1zm11 0h1v1h-1zm5 0h1v1h-1zm2 0h2v1h-2zm7 0h1v1h-1zm2 0h1v1h-1zm8 0h1v1h-1zm-28 1h1v1h-1zm9 0h1v1h-1zm5 0h2v1h-2zm4 0h2v1h-2zm4 0h1v1h-1zm2 0h2v1h-2zm27 0h1v1h-1zm-42 1h1v1h-1zm2 0h2v1h-2zm7 0h1v1h-1zm2 0h1v1h-1zm2 0h1v1h-1zm4 0h1v1h-1zm8 0h1v1h-1zm3 0h1v1h-1zm5 0h1v1h-1zm6 0h1v1h-1zm-39 1h1v1h-1zm12 0h1v1h-1zm11 0h1v1h-1zm4 0h2v1h-2zm3 0h1v1h-1zm5 0h1v1h-1zm-42 1h1v1h-1zm6 0h1v1h-1zm2 0h1v1h-1zm2 0h2v1h-2zm5 0h2v1h-2zm3 0h1v1h-1zm3 0h3v1h-3zm7 0h1v1h-1zm19 0h1v1h-1zm-46 1h1v1h-1zm7 0h1v1h-1zm4 0h1v1h-1zm3 0h1v1h-1zm4 0h2v1h-2zm9 0h1v1h-1zm2 0h1v1h-1zm3 0h1v1h-1zm3 0h2v1h-2zm7 0h1v1h-1zm-45 1h1v1h-1zm6 0h1v1h-1zm5 0h1v1h-1zm2 0h2v1h-2zm4 0h1v1h-1zm8 0h2v1h-2zm3 0h1v1h-1zm2 0h1v1h-1zm2 0h1v1h-1zm3 0h1v1h-1zm30 0h1v1h-1zm-55 1h1v1h-1zm3 0h1v1h-1zm3 0h1v1h-1zm2 0h1v1h-1zm2 0h2v1h-2zm-5 1h1v1h-1zm3 0h1v1h-1zm2 0h1v1h-1zm13 0h1v1h-1zm7 0h1v1h-1zm5 0h2v1h-2zm-45 1h1v1h-1zm4 0h2v1h-2zm3 0h1v1h-1zm4 0h3v1h-3zm4 0h1v1h-1zm2 0h1v1h-1zm3 0h4v1h-4zm6 0h1v1h-1zm4 0h1v1h-1zm3 0h1v1h-1zm-22 1h1v1h-1zm5 0h1v1h-1zm2 0h2v1h-2zm3 0h1v1h-1zm16 0h1v1h-1zm20 0h1v1h-1zm-48 1h1v1h-1zm2 0h1v1h-1zm4 0h1v1h-1zm2 0h1v1h-1zm5 0h3v1h-3zm6 0h1v1h-1zm2 0h1v1h-1zm3 0h1v1h-1zm5 0h2v1h-2zm5 0h1v1h-1zm-36 1h3v1h-3zm8 0h1v1h-1zm9 0h1v1h-1zm10 0h1v1h-1zm2 0h1v1h-1zm15 0h1v1h-1zm2 0h1v1h-1zm-47 1h2v1h-2zm4 0h3v1h-3zm4 0h1v1h-1zm6 0h1v1h-1zm5 0h1v1h-1zm2 0h1v1h-1zm10 0h1v1h-1zm-22 1h1v1h-1zm5 0h1v1h-1zm4 0h1v1h-1zm6 0h1v1h-1zm6 0h1v1h-1zm-24 1h1v1h-1zm3 0h1v1h-1zm4 0h2v1h-2zm3 0h1v1h-1zm5 0h1v1h-1zm13 0h1v1h-1zm20 0h1v1h-1zm7 0h1v1h-1zm-100 1h1v1h-1zm37 0h1v1h-1zm4 0h1v1h-1zm2 0h1v1h-1zm4 0h1v1h-1zm6 0h2v1h-2zm3 0h1v1h-1zm3 0h2v1h-2zm3 0h1v1h-1zm7 0h1v1h-1zm-69 1h1v1h-1zm42 0h3v1h-3zm6 0h3v1h-3zm9 0h1v1h-1zm4 0h1v1h-1zm3 0h1v1h-1zm5 0h1v1h-1zm4 0h1v1h-1zm3 0h1v1h-1zm-42 1h1v1h-1zm5 0h1v1h-1zm5 0h1v1h-1zm8 0h1v1h-1zm3 0h1v1h-1zm8 0h2v1h-2zm6 0h1v1h-1zm2 0h1v1h-1zm26 0h1v1h-1zm-162 1h1v1h-1zm7 0h1v1h-1zm7 0h1v1h-1zm4 0h2v1h-2zm3 0h3v1h-3zm7 0h1v1h-1zm2 0h1v1h-1zm68 0h1v1h-1zm2 0h3v1h-3zm11 0h1v1h-1zm2 0h1v1h-1zm2 0h1v1h-1zm3 0h2v1h-2zm25 0h1v1h-1zm-153 1h1v1h-1zm2 0h1v1h-1zm5 0h1v1h-1zm7 0h1v1h-1zm5 0h3v1h-3zm5 0h1v1h-1zm-31 1h1v1h-1zm6 0h2v1h-2zm4 0h1v1h-1zm5 0h1v1h-1zm9 0h1v1h-1zm3 0h1v1h-1zm11 0h1v1h-1zm-37 1h1v1h-1zm8 0h1v1h-1zm4 0h1v1h-1zm5 0h1v1h-1zm4 0h1v1h-1zm2 0h2v1h-2zm5 0h1v1h-1zm2 0h1v1h-1zm2 0h1v1h-1zm4 0h1v1h-1zm-40 1h1v1h-1zm6 0h1v1h-1zm5 0h1v1h-1zm9 0h2v1h-2zm10 0h2v1h-2zm7 0h1v1h-1zm-41 1h1v1h-1zm15 0h1v1h-1zm4 0h1v1h-1zm9 0h1v1h-1zm5 0h1v1h-1zm3 0h1v1h-1zm4 0h1v1h-1zm-49 1h1v1h-1zm15 0h1v1h-1zm6 0h1v1h-1zm6 0h1v1h-1zm4 0h1v1h-1zm4 0h4v1h-4zm10 0h1v1h-1zm3 0h2v1h-2zm-31 1h1v1h-1zm9 0h1v1h-1zm3 0h1v1h-1zm5 0h1v1h-1zm4 0h1v1h-1zm3 0h1v1h-1zm4 0h1v1h-1zm3 0h1v1h-1zm-42 1h1v1h-1zm7 0h1v1h-1zm5 0h1v1h-1zm2 0h1v1h-1zm3 0h1v1h-1zm4 0h3v1h-3zm12 0h1v1h-1zm4 0h2v1h-2zm4 0h1v1h-1zm2 0h1v1h-1zm2 0h1v1h-1zm36 0h1v1h-1zm-64 1h1v1h-1zm6 0h1v1h-1zm3 0h1v1h-1zm11 0h2v1h-2zm5 0h1v1h-1zm3 0h1v1h-1zm2 0h1v1h-1zm-41 1h1v1h-1zm23 0h2v1h-2zm3 0h2v1h-2zm3 0h1v1h-1zm2 0h2v1h-2zm3 0h1v1h-1zm-23 1h1v1h-1zm4 0h1v1h-1zm7 0h4v1h-4zm10 0h1v1h-1zm43 0h1v1h-1zm-92 1h1v1h-1zm23 0h1v1h-1zm5 0h1v1h-1zm3 0h2v1h-2zm5 0h1v1h-1zm8 0h1v1h-1zm48 0h1v1h-1zm-70 1h1v1h-1zm10 0h1v1h-1zm7 0h1v1h-1zm6 0h1v1h-1zm2 0h1v1h-1zm3 0h1v1h-1zm2 0h1v1h-1zm-64 1h1v1h-1zm13 0h1v1h-1zm18 0h1v1h-1zm12 0h1v1h-1zm5 0h1v1h-1zm2 0h1v1h-1zm2 0h5v1h-5zm6 0h1v1h-1zm46 0h1v1h-1zm-78 1h1v1h-1zm2 0h1v1h-1zm12 0h1v1h-1zm9 0h3v1h-3zm4 0h1v1h-1zm3 0h3v1h-3zm4 0h1v1h-1zm3 0h2v1h-2zm3 0h1v1h-1zm-25 1h1v1h-1zm5 0h1v1h-1zm4 0h2v1h-2zm3 0h3v1h-3zm4 0h2v1h-2zm8 0h1v1h-1zm6 0h1v1h-1zm-49 1h1v1h-1zm19 0h1v1h-1zm8 0h1v1h-1zm8 0h1v1h-1zm3 0h1v1h-1zm3 0h1v1h-1zm41 0h1v1h-1zm-95 1h1v1h-1zm17 0h1v1h-1zm2 0h1v1h-1zm2 0h1v1h-1zm9 0h2v1h-2zm6 0h1v1h-1zm3 0h1v1h-1zm10 0h1v1h-1zm2 0h1v1h-1zm3 0h1v1h-1zm7 0h1v1h-1zm-31 1h1v1h-1zm8 0h1v1h-1zm3 0h1v1h-1zm2 0h4v1h-4zm6 0h2v1h-2zm3 0h1v1h-1zm4 0h1v1h-1zm-38 1h1v1h-1zm6 0h1v1h-1zm2 0h1v1h-1zm6 0h2v1h-2zm13 0h1v1h-1zm2 0h1v1h-1zm2 0h2v1h-2zm4 0h1v1h-1zm2 0h1v1h-1zm3 0h1v1h-1zm-38 1h1v1h-1zm3 0h1v1h-1zm2 0h1v1h-1zm4 0h2v1h-2zm3 0h1v1h-1zm2 0h1v1h-1zm5 0h2v1h-2zm6 0h1v1h-1zm4 0h1v1h-1zm2 0h1v1h-1zm6 0h2v1h-2zm3 0h1v1h-1zm-43 1h1v1h-1zm18 0h1v1h-1zm5 0h3v1h-3zm6 0h1v1h-1zm7 0h1v1h-1zm5 0h3v1h-3zm4 0h1v1h-1zm-54 1h2v1h-2zm10 0h1v1h-1zm2 0h1v1h-1zm20 0h1v1h-1zm5 0h1v1h-1zm5 0h1v1h-1zm3 0h2v1h-2zm4 0h1v1h-1zm3 0h1v1h-1zm4 0h1v1h-1zm30 0h1v1h-1zm-68 1h2v1h-2zm7 0h1v1h-1zm2 0h2v1h-2zm6 0h2v1h-2zm4 0h1v1h-1zm3 0h1v1h-1zm2 0h1v1h-1zm6 0h1v1h-1zm-18 1h1v1h-1zm9 0h1v1h-1zm3 0h1v1h-1zm2 0h3v1h-3zm5 0h1v1h-1zm3 0h2v1h-2zm11 0h1v1h-1zm-48 1h1v1h-1zm17 0h1v1h-1zm2 0h1v1h-1zm2 0h1v1h-1zm6 0h2v1h-2zm4 0h2v1h-2zm5 0h2v1h-2zm3 0h1v1h-1zm3 0h1v1h-1zm-56 1h1v1h-1zm5 0h1v1h-1zm3 0h1v1h-1zm4 0h1v1h-1zm11 0h1v1h-1zm3 0h1v1h-1zm7 0h1v1h-1zm2 0h2v1h-2zm5 0h7v1h-7zm8 0h2v1h-2zm3 0h1v1h-1zm3 0h1v1h-1zm5 0h1v1h-1zm25 0h1v1h-1zm-81 1h1v1h-1zm7 0h1v1h-1zm2 0h1v1h-1zm2 0h1v1h-1zm21 0h1v1h-1zm4 0h3v1h-3zm5 0h1v1h-1zm2 0h1v1h-1zm3 0h2v1h-2zm32 0h1v1h-1zm-56 1h1v1h-1zm3 0h1v1h-1zm5 0h1v1h-1zm3 0h2v1h-2zm6 0h2v1h-2zm7 0h1v1h-1zm4 0h1v1h-1zm3 0h1v1h-1zm12 0h1v1h-1zm14 0h1v1h-1zm2 0h1v1h-1zm-67 1h1v1h-1zm6 0h1v1h-1zm3 0h1v1h-1zm5 0h2v1h-2zm4 0h1v1h-1zm8 0h1v1h-1zm2 0h3v1h-3zm6 0h1v1h-1zm2 0h1v1h-1zm3 0h2v1h-2zm-53 1h1v1h-1zm8 0h1v1h-1zm4 0h1v1h-1zm19 0h1v1h-1zm2 0h2v1h-2zm3 0h1v1h-1zm2 0h1v1h-1zm4 0h2v1h-2zm3 0h3v1h-3zm10 0h1v1h-1zm2 0h2v1h-2zm13 0h1v1h-1zm6 0h1v1h-1zm2 0h1v1h-1zm-76 1h1v1h-1zm9 0h1v1h-1zm3 0h1v1h-1zm8 0h2v1h-2zm10 0h1v1h-1zm3 0h1v1h-1zm3 0h2v1h-2zm4 0h2v1h-2zm6 0h1v1h-1zm2 0h1v1h-1zm2 0h1v1h-1zm2 0h1v1h-1zm5 0h2v1h-2zm6 0h2v1h-2zm4 0h1v1h-1zm4 0h1v1h-1zm3 0h1v1h-1zm2 0h2v1h-2zm-94 1h1v1h-1zm30 0h1v1h-1zm12 0h3v1h-3zm6 0h1v1h-1zm3 0h1v1h-1zm2 0h2v1h-2zm5 0h1v1h-1zm2 0h2v1h-2zm8 0h5v1h-5zm7 0h1v1h-1zm4 0h1v1h-1zm6 0h2v1h-2zm8 0h2v1h-2zm-71 1h1v1h-1zm12 0h2v1h-2zm3 0h2v1h-2zm14 0h1v1h-1zm3 0h1v1h-1zm6 0h4v1h-4zm8 0h2v1h-2zm4 0h1v1h-1zm5 0h1v1h-1zm4 0h2v1h-2zm5 0h2v1h-2zm5 0h1v1h-1zm2 0h1v1h-1zm5 0h1v1h-1zm-60 1h2v1h-2zm11 0h1v1h-1zm3 0h4v1h-4zm7 0h1v1h-1zm4 0h1v1h-1zm4 0h5v1h-5zm15 0h1v1h-1zm4 0h1v1h-1zm2 0h1v1h-1zm4 0h2v1h-2zm5 0h1v1h-1zm-80 1h1v1h-1zm14 0h1v1h-1zm6 0h1v1h-1zm8 0h1v1h-1zm6 0h5v1h-5zm16 0h1v1h-1zm2 0h1v1h-1zm2 0h2v1h-2zm4 0h2v1h-2zm7 0h1v1h-1zm10 0h1v1h-1zm-53 1h1v1h-1zm3 0h1v1h-1zm5 0h1v1h-1zm3 0h1v1h-1zm2 0h1v1h-1zm3 0h2v1h-2zm3 0h3v1h-3zm8 0h1v1h-1zm4 0h1v1h-1zm2 0h1v1h-1zm5 0h1v1h-1zm2 0h2v1h-2zm5 0h1v1h-1zm5 0h1v1h-1zm2 0h1v1h-1zm3 0h1v1h-1zm-63 1h1v1h-1zm5 0h2v1h-2zm4 0h1v1h-1zm3 0h1v1h-1zm4 0h1v1h-1zm4 0h1v1h-1zm5 0h1v1h-1zm5 0h2v1h-2zm3 0h1v1h-1zm2 0h2v1h-2zm8 0h1v1h-1zm2 0h1v1h-1zm2 0h1v1h-1zm3 0h1v1h-1zm2 0h2v1h-2zm4 0h4v1h-4zm6 0h1v1h-1zm-65 1h3v1h-3zm22 0h1v1h-1zm4 0h1v1h-1zm2 0h2v1h-2zm7 0h2v1h-2zm10 0h1v1h-1zm4 0h1v1h-1zm3 0h2v1h-2zm7 0h1v1h-1zm3 0h1v1h-1zm-96 1h1v1h-1zm44 0h1v1h-1zm3 0h1v1h-1zm9 0h1v1h-1zm10 0h2v1h-2zm9 0h1v1h-1zm4 0h2v1h-2zm7 0h1v1h-1zm3 0h1v1h-1zm2 0h2v1h-2zm9 0h1v1h-1zm-69 1h1v1h-1zm3 0h1v1h-1zm12 0h1v1h-1zm5 0h1v1h-1zm10 0h1v1h-1zm4 0h1v1h-1zm3 0h1v1h-1zm7 0h1v1h-1zm2 0h2v1h-2zm5 0h2v1h-2zm3 0h1v1h-1zm3 0h1v1h-1zm2 0h3v1h-3zm8 0h1v1h-1zm4 0h1v1h-1zm-85 1h1v1h-1zm23 0h2v1h-2zm5 0h1v1h-1zm13 0h1v1h-1zm9 0h2v1h-2zm7 0h1v1h-1zm4 0h4v1h-4zm8 0h2v1h-2zm7 0h1v1h-1zm2 0h1v1h-1zm2 0h1v1h-1zm7 0h1v1h-1zm-62 1h1v1h-1zm2 0h1v1h-1zm4 0h2v1h-2zm10 0h2v1h-2zm4 0h2v1h-2zm3 0h1v1h-1zm2 0h2v1h-2zm12 0h2v1h-2zm3 0h4v1h-4zm11 0h1v1h-1zm-61 1h1v1h-1zm17 0h1v1h-1zm3 0h1v1h-1zm2 0h1v1h-1zm7 0h1v1h-1zm3 0h1v1h-1zm3 0h1v1h-1zm4 0h1v1h-1zm4 0h1v1h-1zm8 0h1v1h-1zm8 0h2v1h-2zm10 0h1v1h-1zm-51 1h1v1h-1zm6 0h1v1h-1zm8 0h1v1h-1zm2 0h1v1h-1zm9 0h1v1h-1zm5 0h1v1h-1zm8 0h1v1h-1zm2 0h2v1h-2zm-47 1h1v1h-1zm21 0h2v1h-2zm10 0h1v1h-1zm5 0h1v1h-1zm2 0h2v1h-2zm5 0h1v1h-1zm6 0h1v1h-1zm5 0h1v1h-1zm-58 1h1v1h-1zm12 0h1v1h-1zm4 0h2v1h-2zm4 0h2v1h-2zm6 0h1v1h-1zm13 0h1v1h-1zm10 0h1v1h-1zm7 0h1v1h-1zm-46 1h1v1h-1zm2 0h1v1h-1zm5 0h2v1h-2zm3 0h1v1h-1zm4 0h1v1h-1zm2 0h1v1h-1zm17 0h1v1h-1zm9 0h1v1h-1zm11 0h1v1h-1zm-65 1h1v1h-1zm16 0h2v1h-2zm4 0h1v1h-1zm12 0h1v1h-1zm22 0h1v1h-1zm-59 1h1v1h-1zm12 0h1v1h-1zm26 0h1v1h-1zm2 0h2v1h-2zm3 0h1v1h-1zm3 0h2v1h-2zm8 0h1v1h-1zm3 0h1v1h-1zm2 0h1v1h-1zm-75 1h1v1h-1zm18 0h2v1h-2zm7 0h1v1h-1zm8 0h1v1h-1zm32 0h1v1h-1zm4 0h1v1h-1zm-48 1h1v1h-1zm23 0h1v1h-1zm21 0h1v1h-1zm13 0h1v1h-1zm3 0h1v1h-1zm-77 1h1v1h-1zm37 0h1v1h-1zm5 0h1v1h-1zm34 0h1v1h-1zm-64 1h1v1h-1zm2 0h1v1h-1zm4 0h1v1h-1zm5 0h1v1h-1zm8 0h1v1h-1zm-10 1h1v1h-1zm23 0h1v1h-1zm13 0h1v1h-1zm4 0h1v1h-1zm-49 1h1v1h-1zm15 0h1v1h-1zm5 0h1v1h-1zm3 0h1v1h-1zm2 0h1v1h-1zm12 0h1v1h-1zm14 0h1v1h-1zm-70 1h1v1h-1zm73 0h1v1h-1zm7 0h1v1h-1zm-47 1h1v1h-1zm18 0h1v1h-1zm29 1h1v1h-1zm-16 2h1v1h-1zm-19 1h1v1h-1zm1 1h1v1h-1zm-9 1h1v1h-1zm10 0h1v1h-1zm-25 2h1v1h-1zm16 0h1v1h-1zm-48 5h1v1h-1z" fill="#ee4a30" fill-opacity="0.65"/><path d="M0 0m192 230h1v1h-1zm-21 4h1v1h-1zm5 0h1v1h-1zm32 0h1v1h-1zm-36 2h1v1h-1zm8 0h1v1h-1zm23 0h1v1h-1zm-26 1h1v1h-1zm-9 2h1v1h-1zm7 0h1v1h-1zm8 0h2v1h-2zm16 0h1v1h-1zm9 0h1v1h-1zm-40 1h1v1h-1zm-5 1h1v1h-1zm4 0h1v1h-1zm16 0h1v1h-1zm2 0h1v1h-1zm4 0h1v1h-1zm10 0h1v1h-1zm-25 1h1v1h-1zm17 0h1v1h-1zm-17 1h2v1h-2zm6 0h2v1h-2zm3 0h1v1h-1zm5 0h1v1h-1zm10 0h1v1h-1zm5 0h1v1h-1zm-32 1h1v1h-1zm2 0h1v1h-1zm7 0h2v1h-2zm4 0h1v1h-1zm4 0h1v1h-1zm23 0h1v1h-1zm-48 1h1v1h-1zm11 0h1v1h-1zm2 0h2v1h-2zm7 0h1v1h-1zm7 0h1v1h-1zm3 0h1v1h-1zm10 0h1v1h-1zm-38 1h1v1h-1zm6 0h2v1h-2zm4 0h1v1h-1zm15 0h1v1h-1zm16 0h1v1h-1zm9 0h1v1h-1zm-54 1h1v1h-1zm12 0h1v1h-1zm2 0h1v1h-1zm2 0h1v1h-1zm2 0h1v1h-1zm3 0h1v1h-1zm6 0h1v1h-1zm7 0h1v1h-1zm-34 1h1v1h-1zm3 0h1v1h-1zm4 0h1v1h-1zm4 0h1v1h-1zm5 0h3v1h-3zm5 0h1v1h-1zm4 0h1v1h-1zm3 0h1v1h-1zm30 0h1v1h-1zm-57 1h4v1h-4zm19 0h2v1h-2zm6 0h1v1h-1zm4 0h1v1h-1zm7 0h1v1h-1zm12 0h1v1h-1zm-46 1h1v1h-1zm6 0h1v1h-1zm8 0h1v1h-1zm3 0h1v1h-1zm4 0h1v1h-1zm3 0h2v1h-2zm4 0h1v1h-1zm2 0h1v1h-1zm2 0h2v1h-2zm4 0h1v1h-1zm3 0h1v1h-1zm3 0h1v1h-1zm-47 1h1v1h-1zm4 0h1v1h-1zm4 0h1v1h-1zm7 0h2v1h-2zm3 0h1v1h-1zm6 0h1v1h-1zm2 0h2v1h-2zm3 0h1v1h-1zm11 0h2v1h-2zm4 0h1v1h-1zm-44 1h1v1h-1zm4 0h3v1h-3zm12 0h1v1h-1zm11 0h3v1h-3zm4 0h1v1h-1zm2 0h1v1h-1zm2 0h1v1h-1zm2 0h1v1h-1zm-35 1h1v1h-1zm4 0h1v1h-1zm4 0h1v1h-1zm22 0h1v1h-1zm2 0h4v1h-4zm6 0h2v1h-2zm16 0h2v1h-2zm-55 1h3v1h-3zm5 0h1v1h-1zm25 0h1v1h-1zm14 0h1v1h-1zm6 0h2v1h-2zm-27 1h1v1h-1zm7 0h1v1h-1zm4 0h1v1h-1zm2 0h1v1h-1zm8 0h1v1h-1zm2 0h1v1h-1zm4 0h1v1h-1zm-49 1h1v1h-1zm4 0h1v1h-1zm23 0h1v1h-1zm4 0h1v1h-1zm2 0h1v1h-1zm6 0h1v1h-1zm13 0h1v1h-1zm-52 1h2v1h-2zm27 0h1v1h-1zm10 0h2v1h-2zm3 0h1v1h-1zm-42 1h1v1h-1zm32 0h1v1h-1zm10 0h1v1h-1zm2 0h1v1h-1zm2 0h1v1h-1zm-15 1h2v1h-2zm3 0h1v1h-1zm9 0h1v1h-1zm2 0h1v1h-1zm2 0h1v1h-1zm-47 1h1v1h-1zm33 0h2v1h-2zm4 0h2v1h-2zm3 0h1v1h-1zm2 0h1v1h-1zm3 0h1v1h-1zm6 0h1v1h-1zm2 0h1v1h-1zm-52 1h2v1h-2zm31 0h1v1h-1zm3 0h1v1h-1zm2 0h1v1h-1zm3 0h1v1h-1zm21 0h1v1h-1zm-61 1h1v1h-1zm39 0h1v1h-1zm3 0h1v1h-1zm3 0h1v1h-1zm-12 1h2v1h-2zm5 0h1v1h-1zm4 0h1v1h-1zm2 0h1v1h-1zm4 0h1v1h-1zm-19 1h1v1h-1zm3 0h1v1h-1zm2 0h1v1h-1zm4 0h1v1h-1zm2 0h1v1h-1zm5 0h1v1h-1zm12 0h1v1h-1zm2 0h1v1h-1zm-21 1h2v1h-2zm5 0h1v1h-1zm7 0h1v1h-1zm4 0h1v1h-1zm-11 1h1v1h-1zm5 0h1v1h-1zm-11 1h1v1h-1zm2 0h1v1h-1zm4 0h2v1h-2zm18 0h1v1h-1zm-22 1h1v1h-1zm2 0h2v1h-2zm3 0h1v1h-1zm4 0h1v1h-1zm-17 1h1v1h-1zm6 0h1v1h-1zm3 0h2v1h-2zm3 0h2v1h-2zm6 0h1v1h-1zm2 0h1v1h-1zm3 0h1v1h-1zm4 0h1v1h-1zm3 0h1v1h-1zm-23 1h1v1h-1zm3 0h1v1h-1zm2 0h1v1h-1zm13 0h2v1h-2zm-22 1h1v1h-1zm4 0h1v1h-1zm8 0h1v1h-1zm-8 1h1v1h-1zm4 0h1v1h-1zm2 0h1v1h-1zm-13 1h2v1h-2zm5 0h1v1h-1zm14 0h1v1h-1zm-5 1h1v1h-1zm8 0h1v1h-1zm-13 1h2v1h-2zm9 0h1v1h-1zm-12 1h1v1h-1zm-1 1h3v1h-3zm5 0h1v1h-1zm7 0h1v1h-1zm-16 1h2v1h-2zm5 0h3v1h-3zm13 0h2v1h-2zm-21 1h1v1h-1zm7 0h2v1h-2zm8 0h2v1h-2zm14 0h2v1h-2zm-23 1h2v1h-2zm4 0h2v1h-2zm3 0h1v1h-1zm2 0h1v1h-1zm2 0h1v1h-1zm3 0h1v1h-1zm-95 1h1v1h-1zm5 0h1v1h-1zm70 0h1v1h-1zm2 0h1v1h-1zm7 0h1v1h-1zm2 0h1v1h-1zm4 0h1v1h-1zm4 0h1v1h-1zm-115 1h1v1h-1zm3 0h1v1h-1zm4 0h1v1h-1zm6 0h1v1h-1zm8 0h1v1h-1zm2 0h1v1h-1zm32 0h1v1h-1zm-52 1h2v1h-2zm3 0h1v1h-1zm9 0h5v1h-5zm-21 1h1v1h-1zm20 0h1v1h-1zm4 0h1v1h-1zm-8 1h1v1h-1zm6 0h2v1h-2zm39 0h1v1h-1zm-52 1h1v1h-1zm6 0h1v1h-1zm3 0h1v1h-1zm7 0h1v1h-1zm-5 1h1v1h-1zm6 0h2v1h-2zm35 0h1v1h-1zm-67 1h1v1h-1zm22 0h1v1h-1zm4 0h1v1h-1zm5 0h1v1h-1zm2 0h1v1h-1zm-22 1h1v1h-1zm3 0h1v1h-1zm11 0h1v1h-1zm-8 1h4v1h-4zm8 0h3v1h-3zm-15 1h1v1h-1zm17 0h1v1h-1zm4 0h1v1h-1zm-30 1h1v1h-1zm19 0h1v1h-1zm6 0h2v1h-2zm6 0h1v1h-1zm3 0h1v1h-1zm-14 1h1v1h-1zm3 0h2v1h-2zm3 0h4v1h-4zm7 0h1v1h-1zm-23 1h1v1h-1zm13 0h1v1h-1zm7 0h1v1h-1zm2 0h1v1h-1zm-21 1h1v1h-1zm8 0h1v1h-1zm4 0h1v1h-1zm5 0h1v1h-1zm-12 1h1v1h-1zm11 0h1v1h-1zm-3 1h2v1h-2zm4 0h2v1h-2zm3 0h2v1h-2zm-30 1h1v1h-1zm16 0h1v1h-1zm4 0h1v1h-1zm3 0h1v1h-1zm7 0h1v1h-1zm-16 1h1v1h-1zm11 0h1v1h-1zm2 0h2v1h-2zm-21 1h1v1h-1zm17 0h1v1h-1zm4 0h3v1h-3zm8 0h1v1h-1zm-19 1h1v1h-1zm2 0h1v1h-1zm3 0h2v1h-2zm11 0h1v1h-1zm33 0h1v1h-1zm-53 1h1v1h-1zm5 0h1v1h-1zm6 0h1v1h-1zm-14 1h1v1h-1zm11 0h1v1h-1zm4 0h1v1h-1zm2 0h1v1h-1zm5 0h1v1h-1zm4 0h1v1h-1zm30 0h1v1h-1zm-40 1h2v1h-2zm7 0h2v1h-2zm30 0h1v1h-1zm-46 1h1v1h-1zm5 0h1v1h-1zm4 0h1v1h-1zm5 0h2v1h-2zm6 0h1v1h-1zm2 0h1v1h-1zm23 0h1v1h-1zm-47 1h1v1h-1zm4 0h2v1h-2zm11 0h1v1h-1zm6 0h1v1h-1zm25 0h1v1h-1zm-45 1h1v1h-1zm2 0h2v1h-2zm5 0h1v1h-1zm5 0h1v1h-1zm6 0h2v1h-2zm4 0h1v1h-1zm7 0h1v1h-1zm15 0h1v1h-1zm2 0h1v1h-1zm-25 1h2v1h-2zm9 0h1v1h-1zm8 0h1v1h-1zm6 0h1v1h-1zm-46 1h1v1h-1zm9 0h1v1h-1zm2 0h1v1h-1zm6 0h2v1h-2zm3 0h3v1h-3zm5 0h1v1h-1zm3 0h1v1h-1zm-32 1h1v1h-1zm9 0h1v1h-1zm11 0h1v1h-1zm28 0h3v1h-3zm5 0h1v1h-1zm-42 1h1v1h-1zm8 0h1v1h-1zm6 0h1v1h-1zm4 0h2v1h-2zm5 0h1v1h-1zm13 0h1v1h-1zm6 0h1v1h-1zm-52 1h1v1h-1zm7 0h1v1h-1zm15 0h1v1h-1zm19 0h1v1h-1zm5 0h1v1h-1zm3 0h1v1h-1zm4 0h2v1h-2zm-32 1h1v1h-1zm2 0h1v1h-1zm6 0h2v1h-2zm5 0h1v1h-1zm2 0h1v1h-1zm3 0h1v1h-1zm10 0h1v1h-1zm3 0h1v1h-1zm-31 1h1v1h-1zm8 0h2v1h-2zm3 0h1v1h-1zm2 0h1v1h-1zm6 0h1v1h-1zm11 0h1v1h-1zm2 0h1v1h-1zm-48 1h1v1h-1zm8 0h2v1h-2zm8 0h1v1h-1zm2 0h1v1h-1zm4 0h1v1h-1zm2 0h2v1h-2zm10 0h1v1h-1zm7 0h1v1h-1zm2 0h1v1h-1zm-51 1h1v1h-1zm9 0h2v1h-2zm8 0h1v1h-1zm6 0h1v1h-1zm11 0h2v1h-2zm5 0h1v1h-1zm5 0h1v1h-1zm4 0h1v1h-1zm7 0h1v1h-1zm-46 1h1v1h-1zm11 0h1v1h-1zm5 0h1v1h-1zm2 0h1v1h-1zm5 0h2v1h-2zm4 0h1v1h-1zm2 0h3v1h-3zm5 0h1v1h-1zm7 0h1v1h-1zm-40 1h1v1h-1zm11 0h1v1h-1zm6 0h1v1h-1zm14 0h1v1h-1zm3 0h1v1h-1zm2 0h2v1h-2zm6 0h1v1h-1zm-16 1h1v1h-1zm2 0h1v1h-1zm-18 1h1v1h-1zm6 0h1v1h-1zm2 0h1v1h-1zm9 0h1v1h-1zm4 0h1v1h-1zm3 0h1v1h-1zm4 0h1v1h-1zm2 0h1v1h-1zm-14 1h2v1h-2zm4 0h1v1h-1zm8 0h1v1h-1zm-26 1h1v1h-1zm17 0h1v1h-1zm8 0h1v1h-1zm-4 1h1v1h-1zm-39 1h1v1h-1zm21 0h1v1h-1zm14 0h1v1h-1zm-24 1h1v1h-1zm20 0h1v1h-1zm-31 2h1v1h-1zm20 0h1v1h-1zm3 1h1v1h-1zm9 2h1v1h-1zm-7 1h1v1h-1zm-22 1h1v1h-1zm9 0h1v1h-1z" fill="#ee4a30" fill-opacity="0.80"/><path d="M0 0m175 236h1v1h-1zm6 6h1v1h-1zm-9 1h1v1h-1zm6 0h1v1h-1zm13 0h1v1h-1zm6 0h1v1h-1zm-14 1h1v1h-1zm1 1h1v1h-1zm-11 1h1v1h-1zm3 0h1v1h-1zm5 0h1v1h-1zm3 0h1v1h-1zm-20 1h1v1h-1zm2 0h2v1h-2zm6 0h1v1h-1zm11 0h2v1h-2zm11 0h1v1h-1zm-32 1h1v1h-1zm19 0h1v1h-1zm2 0h1v1h-1zm11 0h1v1h-1zm-34 1h1v1h-1zm10 0h3v1h-3zm10 0h1v1h-1zm6 0h1v1h-1zm4 0h1v1h-1zm-15 1h3v1h-3zm5 0h1v1h-1zm4 0h1v1h-1zm-24 1h1v1h-1zm13 0h1v1h-1zm6 0h2v1h-2zm5 0h1v1h-1zm6 0h1v1h-1zm-30 1h1v1h-1zm2 0h1v1h-1zm9 0h1v1h-1zm12 0h1v1h-1zm2 0h1v1h-1zm4 0h1v1h-1zm6 0h1v1h-1zm3 0h1v1h-1zm-39 1h1v1h-1zm3 0h1v1h-1zm6 0h1v1h-1zm2 0h1v1h-1zm22 0h1v1h-1zm-28 1h1v1h-1zm17 0h1v1h-1zm3 0h1v1h-1zm2 0h2v1h-2zm5 0h1v1h-1zm5 0h1v1h-1zm-37 1h1v1h-1zm5 0h1v1h-1zm21 0h1v1h-1zm6 0h2v1h-2zm10 0h1v1h-1zm17 0h1v1h-1zm-39 1h1v1h-1zm5 0h1v1h-1zm2 0h2v1h-2zm10 0h1v1h-1zm5 0h1v1h-1zm-15 1h1v1h-1zm3 0h1v1h-1zm3 0h2v1h-2zm3 0h1v1h-1zm9 0h2v1h-2zm-19 1h1v1h-1zm2 0h1v1h-1zm5 0h1v1h-1zm6 0h1v1h-1zm-9 1h1v1h-1zm5 0h1v1h-1zm3 0h2v1h-2zm-13 1h1v1h-1zm2 0h1v1h-1zm2 0h4v1h-4zm17 0h1v1h-1zm-15 1h1v1h-1zm12 0h1v1h-1zm13 0h1v1h-1zm-30 1h1v1h-1zm4 0h1v1h-1zm2 0h2v1h-2zm3 0h1v1h-1zm2 0h2v1h-2zm0 1h1v1h-1zm2 0h1v1h-1zm-6 1h1v1h-1zm3 0h2v1h-2zm10 0h1v1h-1zm3 0h1v1h-1zm-18 1h1v1h-1zm5 0h1v1h-1zm10 0h1v1h-1zm-46 1h1v1h-1zm28 0h1v1h-1zm5 0h1v1h-1zm4 0h2v1h-2zm1 1h1v1h-1zm-1 1h1v1h-1zm3 0h1v1h-1zm-6 1h1v1h-1zm4 0h1v1h-1zm-2 1h1v1h-1zm3 0h1v1h-1zm3 0h1v1h-1zm2 0h1v1h-1zm-9 2h1v1h-1zm5 0h2v1h-2zm5 0h1v1h-1zm-7 1h3v1h-3zm-7 1h1v1h-1zm0 1h1v1h-1zm5 0h1v1h-1zm-3 1h2v1h-2zm3 0h1v1h-1zm2 0h1v1h-1zm10 0h1v1h-1zm-16 1h2v1h-2zm3 0h1v1h-1zm4 0h2v1h-2zm-4 1h1v1h-1zm6 0h1v1h-1zm-7 1h2v1h-2zm6 0h1v1h-1zm-77 2h1v1h-1zm2 0h1v1h-1zm2 0h1v1h-1zm70 0h1v1h-1zm-95 1h1v1h-1zm9 0h3v1h-3zm-11 1h1v1h-1zm7 0h1v1h-1zm41 0h1v1h-1zm-36 1h1v1h-1zm-4 1h1v1h-1zm4 0h1v1h-1zm2 0h1v1h-1zm-7 1h1v1h-1zm8 0h1v1h-1zm-12 1h2v1h-2zm8 0h2v1h-2zm4 0h1v1h-1zm-11 1h2v1h-2zm4 0h1v1h-1zm3 0h1v1h-1zm-4 1h1v1h-1zm8 0h1v1h-1zm3 0h1v1h-1zm-5 1h1v1h-1zm3 0h1v1h-1zm-13 1h1v1h-1zm3 0h1v1h-1zm4 0h1v1h-1zm1 1h1v1h-1zm4 0h1v1h-1zm2 0h2v1h-2zm-14 1h1v1h-1zm4 0h1v1h-1zm9 1h1v1h-1zm-10 1h1v1h-1zm6 0h1v1h-1zm4 0h2v1h-2zm-30 1h1v1h-1zm13 0h1v1h-1zm4 0h1v1h-1zm9 0h1v1h-1zm-12 1h1v1h-1zm-2 1h1v1h-1zm4 0h1v1h-1zm7 0h2v1h-2zm3 0h1v1h-1zm2 0h1v1h-1zm6 0h1v1h-1zm-11 1h1v1h-1zm3 0h1v1h-1zm8 0h1v1h-1zm2 0h1v1h-1zm-22 1h1v1h-1zm16 0h2v1h-2zm-9 1h1v1h-1zm2 0h1v1h-1zm7 0h1v1h-1zm-7 1h1v1h-1zm7 0h3v1h-3zm29 0h1v1h-1zm-25 1h1v1h-1zm2 0h1v1h-1zm-17 1h1v1h-1zm7 0h1v1h-1zm2 0h1v1h-1zm5 0h1v1h-1zm-7 1h1v1h-1zm4 0h1v1h-1zm2 0h1v1h-1zm2 0h1v1h-1zm3 0h1v1h-1zm24 0h1v1h-1zm-36 1h1v1h-1zm4 0h3v1h-3zm6 0h2v1h-2zm15 0h1v1h-1zm-25 1h1v1h-1zm34 0h3v1h-3zm-51 1h1v1h-1zm18 0h1v1h-1zm2 0h2v1h-2zm4 0h1v1h-1zm9 0h1v1h-1zm17 0h2v1h-2zm-25 1h2v1h-2zm8 0h1v1h-1zm12 0h1v1h-1zm3 0h1v1h-1zm2 0h1v1h-1zm2 0h2v1h-2zm-37 1h2v1h-2zm8 0h1v1h-1zm4 0h1v1h-1zm2 0h1v1h-1zm12 0h1v1h-1zm-44 1h1v1h-1zm25 0h1v1h-1zm7 0h1v1h-1zm10 0h1v1h-1zm3 0h1v1h-1zm4 0h3v1h-3zm-52 1h1v1h-1zm25 0h1v1h-1zm5 0h1v1h-1zm3 0h1v1h-1zm4 0h1v1h-1zm4 0h1v1h-1zm8 0h1v1h-1zm8 0h1v1h-1zm-10 1h1v1h-1zm2 0h1v1h-1zm9 0h1v1h-1zm-33 1h1v1h-1zm2 0h1v1h-1zm16 0h1v1h-1zm5 0h1v1h-1zm2 0h2v1h-2zm3 0h1v1h-1zm6 0h1v1h-1zm-32 1h1v1h-1zm10 0h1v1h-1zm9 0h1v1h-1zm-8 1h1v1h-1zm2 0h1v1h-1zm-9 1h1v1h-1zm16 0h2v1h-2zm3 0h1v1h-1zm-22 1h1v1h-1zm7 0h1v1h-1zm4 0h1v1h-1zm3 0h1v1h-1zm2 0h1v1h-1zm3 0h1v1h-1zm-6 1h1v1h-1zm-12 1h1v1h-1zm16 0h1v1h-1zm0 1h1v1h-1zm3 0h1v1h-1zm-9 2h1v1h-1z" fill="#ee4a30" fill-opacity="0.90"/><path d="M0 0m178 245h1v1h-1zm-4 1h1v1h-1zm3 0h1v1h-1zm6 0h1v1h-1zm4 0h2v1h-2zm-9 1h1v1h-1zm-11 1h1v1h-1zm3 0h2v1h-2zm3 0h4v1h-4zm12 0h1v1h-1zm7 0h1v1h-1zm-19 1h2v1h-2zm3 0h4v1h-4zm13 0h1v1h-1zm-21 1h2v1h-2zm3 0h4v1h-4zm8 0h1v1h-1zm4 0h1v1h-1zm3 0h2v1h-2zm4 0h1v1h-1zm-26 1h1v1h-1zm2 0h1v1h-1zm3 0h4v1h-4zm7 0h1v1h-1zm2 0h1v1h-1zm3 0h2v1h-2zm6 0h1v1h-1zm4 0h1v1h-1zm-30 1h1v1h-1zm5 0h5v1h-5zm6 0h3v1h-3zm4 0h7v1h-7zm8 0h1v1h-1zm-18 1h2v1h-2zm5 0h12v1h-12zm13 0h5v1h-5zm-18 1h15v1h-15zm16 0h2v1h-2zm6 0h2v1h-2zm-28 1h1v1h-1zm2 0h2v1h-2zm3 0h18v1h-18zm19 0h1v1h-1zm2 0h1v1h-1zm3 0h1v1h-1zm4 0h1v1h-1zm-33 1h1v1h-1zm2 0h3v1h-3zm4 0h13v1h-13zm14 0h4v1h-4zm9 0h1v1h-1zm-30 1h2v1h-2zm5 0h22v1h-22zm23 0h1v1h-1zm3 0h1v1h-1zm6 0h1v1h-1zm-36 1h25v1h-25zm26 0h1v1h-1zm2 0h1v1h-1zm6 0h1v1h-1zm-35 1h1v1h-1zm3 0h27v1h-27zm30 0h1v1h-1zm4 0h1v1h-1zm-36 1h24v1h-24zm25 0h1v1h-1zm2 0h1v1h-1zm7 0h1v1h-1zm-35 1h1v1h-1zm3 0h28v1h-28zm30 0h2v1h-2zm6 0h1v1h-1zm-38 1h24v1h-24zm26 0h3v1h-3zm4 0h1v1h-1zm3 0h1v1h-1zm-34 1h32v1h-32zm35 0h2v1h-2zm5 0h1v1h-1zm3 0h1v1h-1zm2 0h1v1h-1zm-45 1h29v1h-29zm30 0h2v1h-2zm5 0h1v1h-1zm-35 1h31v1h-31zm32 0h4v1h-4zm8 0h1v1h-1zm-39 1h27v1h-27zm28 0h4v1h-4zm6 0h2v1h-2zm6 0h1v1h-1zm-41 1h35v1h-35zm36 0h1v1h-1zm12 0h1v1h-1zm-48 1h32v1h-32zm33 0h4v1h-4zm-33 1h31v1h-31zm32 0h2v1h-2zm3 0h2v1h-2zm4 0h1v1h-1zm-39 1h36v1h-36zm37 0h1v1h-1zm3 0h1v1h-1zm-40 1h32v1h-32zm33 0h1v1h-1zm7 0h1v1h-1zm-40 1h35v1h-35zm36 0h1v1h-1zm-36 1h31v1h-31zm33 0h3v1h-3zm4 0h1v1h-1zm-37 1h31v1h-31zm32 0h6v1h-6zm11 0h1v1h-1zm-43 1h31v1h-31zm32 0h2v1h-2zm3 0h1v1h-1zm2 0h1v1h-1zm-37 1h33v1h-33zm35 0h1v1h-1zm7 0h1v1h-1zm-42 1h32v1h-32zm34 0h1v1h-1zm-34 1h32v1h-32zm34 0h1v1h-1zm10 0h1v1h-1zm-44 1h29v1h-29zm30 0h4v1h-4zm9 0h1v1h-1zm-39 1h33v1h-33zm34 0h1v1h-1zm3 0h1v1h-1zm-71 1h1v1h-1zm2 0h20v1h-20zm32 0h29v1h-29zm30 0h1v1h-1zm3 0h1v1h-1zm-86 1h1v1h-1zm8 0h1v1h-1zm2 0h31v1h-31zm-11 1h1v1h-1zm7 0h2v1h-2zm3 0h32v1h-32zm-12 1h1v1h-1zm9 0h1v1h-1zm2 0h33v1h-33zm-9 1h1v1h-1zm7 0h1v1h-1zm2 0h33v1h-33zm-6 1h1v1h-1zm2 0h1v1h-1zm2 0h2v1h-2zm3 0h32v1h-32zm-8 1h1v1h-1zm8 0h32v1h-32zm-6 1h1v1h-1zm3 0h1v1h-1zm2 0h33v1h-33zm-13 1h1v1h-1zm9 0h1v1h-1zm2 0h2v1h-2zm3 0h2v1h-2zm3 0h29v1h-29zm-9 1h2v1h-2zm5 0h1v1h-1zm2 0h31v1h-31zm-6 1h1v1h-1zm2 0h35v1h-35zm-7 1h1v1h-1zm3 0h2v1h-2zm3 0h1v1h-1zm2 0h1v1h-1zm5 0h29v1h-29zm-15 1h1v1h-1zm8 0h3v1h-3zm4 0h32v1h-32zm-7 1h1v1h-1zm2 0h1v1h-1zm4 0h1v1h-1zm2 0h31v1h-31zm-9 1h1v1h-1zm3 0h1v1h-1zm2 0h3v1h-3zm5 0h30v1h-30zm-5 1h35v1h-35zm-8 1h1v1h-1zm3 0h1v1h-1zm8 0h32v1h-32zm-1 1h5v1h-5zm6 0h27v1h-27zm-6 1h5v1h-5zm6 0h1v1h-1zm2 0h25v1h-25zm-16 1h2v1h-2zm6 0h3v1h-3zm6 0h29v1h-29zm-9 1h1v1h-1zm2 0h1v1h-1zm2 0h1v1h-1zm3 0h31v1h-31zm-14 1h1v1h-1zm2 0h1v1h-1zm7 0h1v1h-1zm2 0h2v1h-2zm5 0h26v1h-26zm27 0h2v1h-2zm-30 1h2v1h-2zm3 0h1v1h-1zm2 0h1v1h-1zm2 0h25v1h-25zm-12 1h1v1h-1zm7 0h1v1h-1zm2 0h25v1h-25zm26 0h1v1h-1zm-36 1h1v1h-1zm5 0h1v1h-1zm2 0h1v1h-1zm5 0h1v1h-1zm2 0h20v1h-20zm21 0h2v1h-2zm-37 1h1v1h-1zm12 0h1v1h-1zm3 0h1v1h-1zm2 0h11v1h-11zm12 0h6v1h-6zm7 0h1v1h-1zm2 0h2v1h-2zm-37 1h1v1h-1zm10 0h1v1h-1zm2 0h6v1h-6zm7 0h14v1h-14zm15 0h1v1h-1zm-26 1h1v1h-1zm5 0h5v1h-5zm7 0h7v1h-7zm8 0h5v1h-5zm6 0h1v1h-1zm-21 1h2v1h-2zm3 0h2v1h-2zm3 0h11v1h-11zm12 0h2v1h-2zm5 0h1v1h-1zm-29 1h1v1h-1zm3 0h2v1h-2zm3 0h1v1h-1zm3 0h5v1h-5zm6 0h4v1h-4zm5 0h4v1h-4zm7 0h1v1h-1zm4 0h1v1h-1zm-27 1h1v1h-1zm4 0h2v1h-2zm3 0h6v1h-6zm7 0h2v1h-2zm3 0h2v1h-2zm6 0h2v1h-2zm4 0h1v1h-1zm-23 1h1v1h-1zm2 0h3v1h-3zm4 0h4v1h-4zm6 0h1v1h-1zm2 0h1v1h-1zm-20 1h1v1h-1zm2 0h2v1h-2zm6 0h1v1h-1zm2 0h1v1h-1zm5 0h1v1h-1zm3 0h1v1h-1zm-10 1h1v1h-1zm4 0h1v1h-1zm2 0h1v1h-1zm5 0h1v1h-1zm-13 1h1v1h-1zm3 0h3v1h-3zm6 0h1v1h-1zm4 0h1v1h-1zm-5 1h2v1h-2zm4 0h1v1h-1zm-16 2h1v1h-1zm2 1h1v1h-1z" fill="#ec2127"/><line x1="153.20" y1="211.70" x2="153.20" y2="353.90" stroke="#333" stroke-width="0.9" stroke-dasharray="1.9,1.2"/><line x1="38.30" y1="281.80" x2="263.40" y2="281.80" stroke="#333" stroke-width="0.9" stroke-dasharray="1.9,1.2"/><line x1="54.80" y1="336.84" x2="251.60" y2="226.76" stroke="#7a7a7a" stroke-width="0.75" stroke-dasharray="1.3,1.1"/><rect x="38.3" y="211.7" width="225.10" height="142.20" fill="none" stroke="#222" stroke-width="1.1"/><line x1="36.10" y1="213.00" x2="38.30" y2="213.00" stroke="#222" stroke-width="1" /><text transform="translate(32.40,216.10) scale(0.91,1)" font-size="8.7" text-anchor="end" fill="#1a1a1a">1.00</text><line x1="36.10" y1="230.20" x2="38.30" y2="230.20" stroke="#222" stroke-width="1" /><text transform="translate(32.40,233.30) scale(0.91,1)" font-size="8.7" text-anchor="end" fill="#1a1a1a">0.75</text><line x1="36.10" y1="247.40" x2="38.30" y2="247.40" stroke="#222" stroke-width="1" /><text transform="translate(32.40,250.50) scale(0.91,1)" font-size="8.7" text-anchor="end" fill="#1a1a1a">0.50</text><line x1="36.10" y1="264.60" x2="38.30" y2="264.60" stroke="#222" stroke-width="1" /><text transform="translate(32.40,267.70) scale(0.91,1)" font-size="8.7" text-anchor="end" fill="#1a1a1a">0.25</text><line x1="36.10" y1="281.80" x2="38.30" y2="281.80" stroke="#222" stroke-width="1" /><text transform="translate(32.40,284.90) scale(0.91,1)" font-size="8.7" text-anchor="end" fill="#1a1a1a">0.00</text><line x1="36.10" y1="299.00" x2="38.30" y2="299.00" stroke="#222" stroke-width="1" /><text transform="translate(32.40,302.10) scale(0.91,1)" font-size="8.7" text-anchor="end" fill="#1a1a1a">−0.25</text><line x1="36.10" y1="316.20" x2="38.30" y2="316.20" stroke="#222" stroke-width="1" /><text transform="translate(32.40,319.30) scale(0.91,1)" font-size="8.7" text-anchor="end" fill="#1a1a1a">−0.50</text><line x1="36.10" y1="333.40" x2="38.30" y2="333.40" stroke="#222" stroke-width="1" /><text transform="translate(32.40,336.50) scale(0.91,1)" font-size="8.7" text-anchor="end" fill="#1a1a1a">−0.75</text><line x1="36.10" y1="350.60" x2="38.30" y2="350.60" stroke="#222" stroke-width="1" /><text transform="translate(32.40,353.70) scale(0.91,1)" font-size="8.7" text-anchor="end" fill="#1a1a1a">−1.00</text><line x1="60.95" y1="353.90" x2="60.95" y2="356.10" stroke="#222" stroke-width="1" /><text transform="translate(60.95,364.60) scale(0.91,1)" font-size="8.7" text-anchor="middle" fill="#1a1a1a">−0.75</text><line x1="91.70" y1="353.90" x2="91.70" y2="356.10" stroke="#222" stroke-width="1" /><text transform="translate(91.70,364.60) scale(0.91,1)" font-size="8.7" text-anchor="middle" fill="#1a1a1a">−0.50</text><line x1="122.45" y1="353.90" x2="122.45" y2="356.10" stroke="#222" stroke-width="1" /><text transform="translate(122.45,364.60) scale(0.91,1)" font-size="8.7" text-anchor="middle" fill="#1a1a1a">−0.25</text><line x1="153.20" y1="353.90" x2="153.20" y2="356.10" stroke="#222" stroke-width="1" /><text transform="translate(153.20,364.60) scale(0.91,1)" font-size="8.7" text-anchor="middle" fill="#1a1a1a">0.00</text><line x1="183.95" y1="353.90" x2="183.95" y2="356.10" stroke="#222" stroke-width="1" /><text transform="translate(183.95,364.60) scale(0.91,1)" font-size="8.7" text-anchor="middle" fill="#1a1a1a">0.25</text><line x1="214.70" y1="353.90" x2="214.70" y2="356.10" stroke="#222" stroke-width="1" /><text transform="translate(214.70,364.60) scale(0.91,1)" font-size="8.7" text-anchor="middle" fill="#1a1a1a">0.50</text><line x1="245.45" y1="353.90" x2="245.45" y2="356.10" stroke="#222" stroke-width="1" /><text transform="translate(245.45,364.60) scale(0.91,1)" font-size="8.7" text-anchor="middle" fill="#1a1a1a">0.75</text><text transform="translate(47.0,222.0) scale(0.96,1)" font-size="6.7" fill="#1a1a1a">r=0.40; p &lt; 10e-200; n=64760</text><text x="85.60" y="374.90" font-size="9.5" text-anchor="start" fill="#1a1a1a" >Effect size (GEUVADIS-EUR)</text><text transform="translate(7.9,347.1) rotate(-90)" font-size="9.5" fill="#1a1a1a">Effect size (GEUVADIS-AFR)</text><path d="M0 0m367 53h1v1h-1zm3 0h1v1h-1zm-4 1h1v1h-1zm2 0h1v1h-1zm2 0h1v1h-1zm-3 1h1v1h-1zm-8 1h1v1h-1zm-1 1h1v1h-1zm2 0h1v1h-1zm9 0h2v1h-2zm-10 1h1v1h-1zm11 1h1v1h-1zm-32 1h1v1h-1zm-1 1h1v1h-1zm2 0h1v1h-1zm21 0h1v1h-1zm8 0h1v1h-1zm-30 1h1v1h-1zm25 0h1v1h-1zm5 0h1v1h-1zm-15 2h1v1h-1zm2 0h3v1h-3zm-2 1h1v1h-1zm2 0h1v1h-1zm2 0h1v1h-1zm4 0h1v1h-1zm2 0h1v1h-1zm9 0h1v1h-1zm-16 1h1v1h-1zm16 0h1v1h-1zm-18 1h1v1h-1zm7 0h1v1h-1zm4 0h2v1h-2zm-11 1h1v1h-1zm5 0h1v1h-1zm2 0h1v1h-1zm4 0h1v1h-1zm-3 1h1v1h-1zm5 0h1v1h-1zm-13 1h2v1h-2zm13 0h1v1h-1zm2 0h1v1h-1zm-13 1h1v1h-1zm11 0h2v1h-2zm5 0h1v1h-1zm-25 1h1v1h-1zm2 0h1v1h-1zm3 0h1v1h-1zm15 0h1v1h-1zm5 0h1v1h-1zm-25 1h1v1h-1zm2 0h1v1h-1zm3 0h1v1h-1zm4 0h1v1h-1zm3 0h1v1h-1zm13 0h1v1h-1zm-20 1h1v1h-1zm2 0h2v1h-2zm3 0h1v1h-1zm-23 1h2v1h-2zm14 0h1v1h-1zm-3 1h1v1h-1zm14 0h1v1h-1zm13 0h1v1h-1zm-38 1h2v1h-2zm10 0h2v1h-2zm3 0h2v1h-2zm3 0h1v1h-1zm22 0h1v1h-1zm-59 1h1v1h-1zm29 0h1v1h-1zm6 0h1v1h-1zm7 0h1v1h-1zm-13 1h1v1h-1zm2 0h1v1h-1zm28 0h1v1h-1zm-38 1h1v1h-1zm8 0h1v1h-1zm4 0h1v1h-1zm-13 1h1v1h-1zm2 0h1v1h-1zm16 0h1v1h-1zm21 0h1v1h-1zm-38 1h1v1h-1zm5 0h2v1h-2zm4 0h1v1h-1zm2 0h2v1h-2zm27 0h1v1h-1zm-29 1h1v1h-1zm-30 1h1v1h-1zm35 0h1v1h-1zm-24 1h2v1h-2zm21 0h1v1h-1zm-4 1h1v1h-1zm4 0h1v1h-1zm4 0h1v1h-1zm23 0h1v1h-1zm-28 1h1v1h-1zm28 0h1v1h-1zm-37 1h2v1h-2zm11 0h1v1h-1zm-6 1h3v1h-3zm3 1h1v1h-1zm3 0h1v1h-1zm2 0h1v1h-1zm24 0h1v1h-1zm22 0h2v1h-2zm9 0h2v1h-2zm7 0h1v1h-1zm-67 1h1v1h-1zm3 0h1v1h-1zm2 0h1v1h-1zm2 0h1v1h-1zm32 0h1v1h-1zm24 0h1v1h-1zm5 0h1v1h-1zm2 0h1v1h-1zm2 0h1v1h-1zm7 0h1v1h-1zm-13 1h1v1h-1zm2 0h2v1h-2zm4 0h1v1h-1zm7 0h1v1h-1zm-40 1h1v1h-1zm23 0h1v1h-1zm13 0h1v1h-1zm-14 1h1v1h-1zm4 0h2v1h-2zm3 0h2v1h-2zm3 0h1v1h-1zm2 0h1v1h-1zm2 0h1v1h-1zm8 0h1v1h-1zm2 0h1v1h-1zm27 0h2v1h-2zm-46 1h1v1h-1zm2 0h1v1h-1zm15 0h1v1h-1zm2 0h1v1h-1zm-9 1h2v1h-2zm-15 1h1v1h-1zm-22 1h1v1h-1zm21 0h1v1h-1zm3 0h1v1h-1zm4 0h2v1h-2zm-28 1h1v1h-1zm24 1h1v1h-1zm3 0h2v1h-2zm3 0h2v1h-2zm-6 1h1v1h-1zm3 0h1v1h-1zm-27 1h1v1h-1zm22 0h1v1h-1zm3 0h2v1h-2zm3 0h1v1h-1zm-28 1h1v1h-1zm18 0h1v1h-1zm9 0h1v1h-1zm-8 1h3v1h-3zm7 0h1v1h-1zm-26 1h1v1h-1zm20 0h1v1h-1zm2 1h1v1h-1zm10 0h2v1h-2zm-13 1h1v1h-1zm5 0h2v1h-2zm0 1h1v1h-1zm7 0h2v1h-2zm-15 1h1v1h-1zm5 0h2v1h-2zm3 0h1v1h-1zm-7 1h2v1h-2zm10 0h1v1h-1zm4 0h1v1h-1zm-30 1h1v1h-1zm4 0h1v1h-1zm8 0h1v1h-1zm3 0h1v1h-1zm5 0h2v1h-2zm-21 1h1v1h-1zm8 0h1v1h-1zm3 0h1v1h-1zm5 0h1v1h-1zm-15 1h1v1h-1zm10 0h1v1h-1zm5 0h1v1h-1zm-11 1h1v1h-1zm7 0h1v1h-1zm13 0h1v1h-1zm-20 1h1v1h-1zm2 0h2v1h-2zm9 0h1v1h-1zm8 0h1v1h-1zm2 0h1v1h-1zm-21 1h1v1h-1zm9 0h1v1h-1zm11 0h1v1h-1zm-19 1h1v1h-1zm0 1h1v1h-1zm2 0h1v1h-1zm10 0h1v1h-1zm-5 1h1v1h-1zm4 0h2v1h-2zm-15 1h1v1h-1zm10 0h1v1h-1zm4 0h1v1h-1zm2 0h1v1h-1zm-5 1h1v1h-1zm4 0h1v1h-1zm-9 1h1v1h-1zm7 0h1v1h-1zm2 0h1v1h-1zm-8 1h1v1h-1zm6 0h1v1h-1zm-8 1h1v1h-1zm2 0h1v1h-1zm8 1h1v1h-1zm2 0h1v1h-1zm-2 1h1v1h-1zm2 0h1v1h-1z" fill="#939498" fill-opacity="0.30"/><path d="M0 0m369 58h1v1h-1zm-9 2h1v1h-1zm-1 1h1v1h-1zm4 0h1v1h-1zm6 0h1v1h-1zm-14 1h2v1h-2zm9 0h1v1h-1zm-9 1h1v1h-1zm-1 1h1v1h-1zm5 1h1v1h-1zm5 0h2v1h-2zm4 0h1v1h-1zm-10 1h2v1h-2zm3 0h1v1h-1zm2 0h1v1h-1zm5 0h1v1h-1zm-12 1h1v1h-1zm12 0h3v1h-3zm-5 1h1v1h-1zm5 0h2v1h-2zm-14 1h1v1h-1zm2 0h1v1h-1zm3 0h1v1h-1zm2 0h1v1h-1zm-4 1h1v1h-1zm14 0h1v1h-1zm-11 1h1v1h-1zm2 0h2v1h-2zm-11 1h1v1h-1zm2 0h1v1h-1zm-3 1h2v1h-2zm7 0h1v1h-1zm-7 1h2v1h-2zm22 0h1v1h-1zm-20 1h1v1h-1zm20 0h1v1h-1zm-37 1h1v1h-1zm11 0h1v1h-1zm6 0h1v1h-1zm2 0h2v1h-2zm-41 1h1v1h-1zm29 0h1v1h-1zm11 0h1v1h-1zm-39 1h1v1h-1zm58 0h1v1h-1zm-29 1h1v1h-1zm7 2h1v1h-1zm-8 1h1v1h-1zm2 0h1v1h-1zm-30 2h1v1h-1zm31 0h1v1h-1zm-9 1h1v1h-1zm10 0h1v1h-1zm-21 1h1v1h-1zm17 0h1v1h-1zm6 0h1v1h-1zm2 0h1v1h-1zm-15 1h1v1h-1zm6 0h1v1h-1zm4 0h1v1h-1zm27 1h1v1h-1zm-33 1h1v1h-1zm33 0h1v1h-1zm11 1h1v1h-1zm10 0h1v1h-1zm9 0h1v1h-1zm-62 1h2v1h-2zm13 0h1v1h-1zm56 0h1v1h-1zm14 0h1v1h-1zm-16 1h1v1h-1zm6 0h1v1h-1zm4 1h1v1h-1zm39 0h1v1h-1zm-74 1h1v1h-1zm23 0h1v1h-1zm2 0h1v1h-1zm3 0h1v1h-1zm5 0h1v1h-1zm-33 1h1v1h-1zm23 0h1v1h-1zm-23 1h1v1h-1zm0 1h1v1h-1zm22 1h1v1h-1zm2 1h1v1h-1zm6 0h1v1h-1zm-7 3h1v1h-1zm-6 1h1v1h-1zm1 1h1v1h-1zm6 0h1v1h-1zm-5 1h1v1h-1zm0 1h1v1h-1zm6 0h1v1h-1zm-10 1h1v1h-1zm5 1h1v1h-1zm5 0h1v1h-1zm-24 1h4v1h-4zm26 0h1v1h-1zm5 0h1v1h-1zm-30 1h1v1h-1zm3 0h1v1h-1zm11 0h1v1h-1zm10 0h1v1h-1zm-24 1h1v1h-1zm2 0h1v1h-1zm4 0h1v1h-1zm4 0h1v1h-1zm-9 2h1v1h-1zm2 0h2v1h-2zm-1 1h1v1h-1zm7 0h1v1h-1zm-2 1h1v1h-1zm3 0h1v1h-1zm2 0h2v1h-2zm-12 1h1v1h-1zm4 0h1v1h-1zm10 0h1v1h-1zm-14 1h2v1h-2zm6 0h1v1h-1zm1 1h1v1h-1zm4 0h2v1h-2zm8 0h2v1h-2zm-19 1h1v1h-1zm12 0h2v1h-2zm-11 1h1v1h-1zm13 3h1v1h-1zm-8 1h1v1h-1z" fill="#939498" fill-opacity="0.50"/><path d="M0 0m371 53h1v1h-1zm0 1h1v1h-1zm-15 9h1v1h-1zm2 2h1v1h-1zm12 0h1v1h-1zm-13 1h1v1h-1zm7 0h2v1h-2zm6 0h1v1h-1zm-13 1h1v1h-1zm2 0h1v1h-1zm4 0h1v1h-1zm4 0h1v1h-1zm4 0h1v1h-1zm-15 1h2v1h-2zm10 0h2v1h-2zm-8 1h1v1h-1zm7 0h1v1h-1zm-6 1h2v1h-2zm3 0h1v1h-1zm8 0h1v1h-1zm-15 1h1v1h-1zm14 0h1v1h-1zm-21 1h1v1h-1zm2 0h1v1h-1zm4 0h2v1h-2zm12 0h1v1h-1zm-18 1h1v1h-1zm10 0h1v1h-1zm8 0h1v1h-1zm-8 1h1v1h-1zm10 0h1v1h-1zm-10 1h2v1h-2zm-7 1h1v1h-1zm-37 1h1v1h-1zm29 0h1v1h-1zm6 0h1v1h-1zm6 0h1v1h-1zm-12 1h1v1h-1zm7 0h1v1h-1zm-3 1h1v1h-1zm3 0h1v1h-1zm1 1h1v1h-1zm-6 1h1v1h-1zm4 1h1v1h-1zm2 0h1v1h-1zm-38 1h2v1h-2zm26 0h2v1h-2zm8 0h1v1h-1zm25 0h1v1h-1zm-26 1h1v1h-1zm3 0h1v1h-1zm3 0h1v1h-1zm-17 1h1v1h-1zm16 0h1v1h-1zm-15 1h1v1h-1zm0 1h1v1h-1zm10 0h1v1h-1zm-5 1h2v1h-2zm3 0h2v1h-2zm3 0h1v1h-1zm-11 1h1v1h-1zm8 1h2v1h-2zm42 0h1v1h-1zm10 0h1v1h-1zm4 0h2v1h-2zm-53 1h1v1h-1zm61 2h1v1h-1zm5 0h1v1h-1zm-7 1h1v1h-1zm21 0h1v1h-1zm-23 1h1v1h-1zm23 0h1v1h-1zm-23 1h2v1h-2zm-2 1h2v1h-2zm9 0h1v1h-1zm8 0h2v1h-2zm-14 1h1v1h-1zm4 1h2v1h-2zm-26 1h1v1h-1zm15 1h1v1h-1zm7 0h1v1h-1zm-1 2h1v1h-1zm-6 1h2v1h-2zm1 1h1v1h-1zm4 0h1v1h-1zm-17 2h2v1h-2zm14 0h1v1h-1zm2 0h2v1h-2zm12 0h1v1h-1zm-28 1h2v1h-2zm10 0h1v1h-1zm4 0h1v1h-1zm3 0h1v1h-1zm1 2h2v1h-2zm-13 1h1v1h-1zm8 0h2v1h-2zm6 0h1v1h-1zm-20 1h2v1h-2zm10 0h1v1h-1zm-11 1h1v1h-1zm5 0h1v1h-1zm7 0h1v1h-1zm-7 1h1v1h-1zm2 0h2v1h-2zm6 0h1v1h-1zm-5 1h1v1h-1zm-7 1h1v1h-1zm7 0h2v1h-2zm-5 1h1v1h-1zm4 0h1v1h-1zm5 0h1v1h-1zm7 0h2v1h-2zm-16 1h1v1h-1zm14 0h1v1h-1zm-16 1h1v1h-1zm16 0h1v1h-1zm-5 1h2v1h-2zm4 5h1v1h-1zm0 1h1v1h-1z" fill="#939498" fill-opacity="0.70"/><path d="M0 0m370 58h1v1h-1zm-11 2h1v1h-1zm5 1h1v1h-1zm3 4h1v1h-1zm0 1h1v1h-1zm4 0h1v1h-1zm-16 1h1v1h-1zm3 0h1v1h-1zm4 0h1v1h-1zm2 1h1v1h-1zm-9 1h1v1h-1zm2 0h1v1h-1zm3 0h1v1h-1zm1 1h1v1h-1zm2 0h2v1h-2zm-9 1h1v1h-1zm12 0h1v1h-1zm4 0h1v1h-1zm-14 1h1v1h-1zm4 0h2v1h-2zm3 0h1v1h-1zm5 0h1v1h-1zm-15 1h1v1h-1zm2 0h1v1h-1zm6 0h1v1h-1zm3 0h1v1h-1zm5 0h3v1h-3zm-6 1h2v1h-2zm3 0h1v1h-1zm-9 1h1v1h-1zm6 0h1v1h-1zm5 0h1v1h-1zm2 0h1v1h-1zm-36 1h1v1h-1zm15 0h2v1h-2zm9 0h1v1h-1zm2 0h1v1h-1zm-14 1h1v1h-1zm11 0h2v1h-2zm-13 1h1v1h-1zm5 0h1v1h-1zm2 0h2v1h-2zm3 0h1v1h-1zm-5 1h1v1h-1zm6 0h1v1h-1zm-12 1h1v1h-1zm7 0h1v1h-1zm-6 1h1v1h-1zm4 1h1v1h-1zm-6 1h1v1h-1zm10 0h1v1h-1zm20 1h1v1h-1zm0 1h1v1h-1zm-37 1h1v1h-1zm11 0h2v1h-2zm-4 1h1v1h-1zm7 0h2v1h-2zm-1 1h1v1h-1zm-13 1h1v1h-1zm12 0h2v1h-2zm-8 1h1v1h-1zm8 0h1v1h-1zm2 0h1v1h-1zm35 0h2v1h-2zm3 0h1v1h-1zm5 0h1v1h-1zm6 0h2v1h-2zm-54 1h2v1h-2zm10 0h1v1h-1zm49 0h1v1h-1zm2 0h1v1h-1zm9 0h1v1h-1zm-4 1h1v1h-1zm13 0h1v1h-1zm-19 1h1v1h-1zm8 0h1v1h-1zm2 0h2v1h-2zm41 0h1v1h-1zm-54 1h1v1h-1zm6 1h1v1h-1zm-1 1h1v1h-1zm-5 1h1v1h-1zm9 0h1v1h-1zm-8 2h3v1h-3zm3 1h1v1h-1zm-2 1h1v1h-1zm-1 1h2v1h-2zm4 0h1v1h-1zm-8 1h1v1h-1zm3 0h1v1h-1zm6 0h2v1h-2zm-24 1h2v1h-2zm14 0h1v1h-1zm10 0h1v1h-1zm-24 1h2v1h-2zm14 1h1v1h-1zm5 0h2v1h-2zm4 0h1v1h-1zm-18 1h1v1h-1zm27 0h1v1h-1zm-30 1h1v1h-1zm4 0h2v1h-2zm6 0h1v1h-1zm4 0h1v1h-1zm2 0h1v1h-1zm-14 1h1v1h-1zm2 0h1v1h-1zm8 0h1v1h-1zm11 0h1v1h-1zm-18 1h1v1h-1zm5 0h1v1h-1zm8 0h1v1h-1zm-18 1h1v1h-1zm3 0h2v1h-2zm4 0h1v1h-1zm-8 1h1v1h-1zm3 0h1v1h-1zm5 0h1v1h-1zm4 0h2v1h-2zm0 2h1v1h-1zm-3 1h1v1h-1zm2 1h1v1h-1zm0 1h1v1h-1zm3 5h1v1h-1zm-9 1h1v1h-1z" fill="#939498" fill-opacity="0.85"/><path d="M0 0m367 54h1v1h-1zm-8 3h1v1h-1zm-21 4h1v1h-1zm31 1h1v1h-1zm-15 3h1v1h-1zm2 0h1v1h-1zm6 0h1v1h-1zm4 0h1v1h-1zm5 0h1v1h-1zm-9 1h1v1h-1zm4 0h1v1h-1zm-2 1h1v1h-1zm-9 1h1v1h-1zm3 0h1v1h-1zm4 0h1v1h-1zm4 1h1v1h-1zm-8 1h1v1h-1zm7 0h2v1h-2zm-4 1h1v1h-1zm3 0h2v1h-2zm7 0h1v1h-1zm-9 1h1v1h-1zm2 0h2v1h-2zm5 0h3v1h-3zm-15 1h1v1h-1zm6 0h1v1h-1zm2 0h2v1h-2zm3 0h1v1h-1zm2 0h2v1h-2zm-8 1h4v1h-4zm6 0h1v1h-1zm2 0h1v1h-1zm2 0h3v1h-3zm-20 1h3v1h-3zm11 0h3v1h-3zm4 0h4v1h-4zm5 0h1v1h-1zm2 0h1v1h-1zm-15 1h2v1h-2zm5 0h11v1h-11zm-10 1h2v1h-2zm3 0h1v1h-1zm2 0h1v1h-1zm3 0h13v1h-13zm-6 1h1v1h-1zm3 0h16v1h-16zm-8 1h1v1h-1zm3 0h4v1h-4zm5 0h16v1h-16zm-9 1h3v1h-3zm5 0h20v1h-20zm-18 1h1v1h-1zm12 0h4v1h-4zm6 0h20v1h-20zm-5 1h1v1h-1zm3 0h1v1h-1zm2 0h20v1h-20zm-4 1h4v1h-4zm5 0h19v1h-19zm-3 1h2v1h-2zm3 0h19v1h-19zm-4 1h2v1h-2zm3 0h20v1h-20zm-28 1h1v1h-1zm27 0h21v1h-21zm-4 1h2v1h-2zm4 0h21v1h-21zm-2 1h23v1h-23zm0 1h23v1h-23zm-9 1h2v1h-2zm10 0h22v1h-22zm38 0h4v1h-4zm9 0h1v1h-1zm-42 1h17v1h-17zm28 0h20v1h-20zm21 0h1v1h-1zm6 0h1v1h-1zm-27 1h24v1h-24zm31 0h1v1h-1zm-31 1h21v1h-21zm23 0h2v1h-2zm-23 1h18v1h-18zm19 0h2v1h-2zm15 0h1v1h-1zm-34 1h21v1h-21zm23 0h1v1h-1zm4 0h1v1h-1zm-27 1h21v1h-21zm24 0h2v1h-2zm-24 1h18v1h-18zm22 0h4v1h-4zm-22 1h19v1h-19zm0 1h19v1h-19zm22 0h1v1h-1zm8 0h1v1h-1zm-29 1h21v1h-21zm-1 1h15v1h-15zm16 0h4v1h-4zm5 0h1v1h-1zm-21 1h19v1h-19zm26 0h1v1h-1zm-26 1h15v1h-15zm19 0h2v1h-2zm4 0h1v1h-1zm-21 1h12v1h-12zm0 1h14v1h-14zm15 0h1v1h-1zm-17 1h14v1h-14zm15 0h3v1h-3zm-15 1h3v1h-3zm6 0h8v1h-8zm9 0h2v1h-2zm-15 1h2v1h-2zm5 0h1v1h-1zm3 0h4v1h-4zm6 0h2v1h-2zm-9 1h1v1h-1zm2 0h7v1h-7zm17 0h1v1h-1zm6 0h1v1h-1zm-30 1h1v1h-1zm3 0h1v1h-1zm2 0h2v1h-2zm3 0h4v1h-4zm5 0h2v1h-2zm-3 1h1v1h-1zm3 0h2v1h-2zm-13 1h1v1h-1zm5 0h2v1h-2zm3 0h1v1h-1zm-5 1h1v1h-1zm4 0h3v1h-3zm7 0h1v1h-1zm-7 1h1v1h-1zm-2 1h1v1h-1zm19 0h1v1h-1zm-10 1h1v1h-1zm-2 4h1v1h-1zm4 0h1v1h-1zm-9 3h1v1h-1z" fill="#939498"/><path d="M0 0m436 29h1v1h-1zm-43 1h1v1h-1zm29 0h1v1h-1zm-31 1h1v1h-1zm2 0h1v1h-1zm53 0h1v1h-1zm3 0h2v1h-2zm-28 1h2v1h-2zm6 0h2v1h-2zm19 0h1v1h-1zm-11 1h1v1h-1zm-10 1h1v1h-1zm2 0h1v1h-1zm3 0h1v1h-1zm5 0h1v1h-1zm-8 1h1v1h-1zm-9 2h1v1h-1zm2 0h2v1h-2zm11 0h1v1h-1zm-13 1h1v1h-1zm5 0h1v1h-1zm-11 1h1v1h-1zm8 0h2v1h-2zm3 0h1v1h-1zm2 0h1v1h-1zm13 0h2v1h-2zm-25 1h1v1h-1zm0 1h1v1h-1zm12 0h1v1h-1zm-30 1h1v1h-1zm2 0h1v1h-1zm9 0h1v1h-1zm-11 1h1v1h-1zm2 0h1v1h-1zm9 0h1v1h-1zm9 0h1v1h-1zm4 0h2v1h-2zm5 0h2v1h-2zm-8 1h1v1h-1zm-26 1h1v1h-1zm9 0h1v1h-1zm15 0h1v1h-1zm5 0h1v1h-1zm-18 1h1v1h-1zm2 0h1v1h-1zm2 0h1v1h-1zm24 0h1v1h-1zm-40 1h2v1h-2zm9 0h1v1h-1zm8 0h1v1h-1zm8 0h1v1h-1zm-16 1h1v1h-1zm6 0h1v1h-1zm3 0h1v1h-1zm50 0h1v1h-1zm-62 1h1v1h-1zm5 0h1v1h-1zm2 0h2v1h-2zm3 0h1v1h-1zm2 0h1v1h-1zm2 0h1v1h-1zm6 0h2v1h-2zm7 0h1v1h-1zm23 0h1v1h-1zm3 0h2v1h-2zm7 0h1v1h-1zm-63 1h2v1h-2zm16 0h1v1h-1zm2 0h1v1h-1zm22 0h2v1h-2zm3 0h1v1h-1zm10 0h1v1h-1zm2 0h1v1h-1zm10 0h1v1h-1zm-69 1h1v1h-1zm20 0h2v1h-2zm3 0h1v1h-1zm5 0h1v1h-1zm19 0h1v1h-1zm-37 1h2v1h-2zm8 0h2v1h-2zm4 0h1v1h-1zm19 0h1v1h-1zm15 0h1v1h-1zm-61 1h1v1h-1zm4 0h3v1h-3zm5 0h1v1h-1zm16 0h3v1h-3zm4 0h1v1h-1zm4 0h1v1h-1zm13 0h1v1h-1zm15 0h1v1h-1zm-40 1h1v1h-1zm4 0h1v1h-1zm9 0h1v1h-1zm10 0h1v1h-1zm-34 1h1v1h-1zm2 0h1v1h-1zm9 0h1v1h-1zm4 0h1v1h-1zm21 0h1v1h-1zm-42 1h1v1h-1zm17 0h1v1h-1zm9 0h1v1h-1zm3 0h1v1h-1zm6 0h2v1h-2zm5 0h1v1h-1zm-41 1h1v1h-1zm16 0h2v1h-2zm3 0h1v1h-1zm8 0h1v1h-1zm2 0h1v1h-1zm-13 1h2v1h-2zm3 0h1v1h-1zm3 0h2v1h-2zm-23 1h1v1h-1zm25 0h1v1h-1zm4 0h2v1h-2zm9 0h2v1h-2zm-37 1h1v1h-1zm19 0h1v1h-1zm4 0h1v1h-1zm7 0h1v1h-1zm9 0h1v1h-1zm-42 1h1v1h-1zm22 0h1v1h-1zm4 0h1v1h-1zm6 0h1v1h-1zm2 0h1v1h-1zm13 0h2v1h-2zm-26 1h2v1h-2zm3 0h1v1h-1zm5 0h1v1h-1zm3 0h1v1h-1zm11 0h2v1h-2zm-21 1h1v1h-1zm12 0h1v1h-1zm13 0h1v1h-1zm2 0h1v1h-1zm-21 1h1v1h-1zm3 0h1v1h-1zm2 0h1v1h-1zm-32 1h1v1h-1zm31 0h2v1h-2zm14 0h1v1h-1zm-19 1h1v1h-1zm3 0h2v1h-2zm13 0h2v1h-2zm-19 1h1v1h-1zm3 0h1v1h-1zm1 1h1v1h-1zm4 0h1v1h-1zm-6 1h1v1h-1zm10 0h2v1h-2zm26 0h1v1h-1zm-29 1h1v1h-1zm2 0h1v1h-1zm26 0h1v1h-1zm-32 1h1v1h-1zm32 0h2v1h-2zm-62 1h1v1h-1zm31 0h1v1h-1zm5 0h1v1h-1zm10 0h1v1h-1zm-46 1h1v1h-1zm33 0h2v1h-2zm-33 1h1v1h-1zm26 0h1v1h-1zm2 0h1v1h-1zm11 0h1v1h-1zm-39 1h1v1h-1zm33 0h2v1h-2zm9 0h1v1h-1zm-42 1h1v1h-1zm32 0h1v1h-1zm2 0h1v1h-1zm2 0h1v1h-1zm-36 1h1v1h-1zm29 0h2v1h-2zm3 0h2v1h-2zm12 0h1v1h-1zm2 0h2v1h-2zm-23 1h1v1h-1zm5 0h1v1h-1zm7 0h1v1h-1zm9 0h1v1h-1zm-14 1h2v1h-2zm4 0h1v1h-1zm2 0h1v1h-1zm10 0h2v1h-2zm-13 1h1v1h-1zm4 0h1v1h-1zm-9 1h1v1h-1zm8 0h1v1h-1zm3 0h1v1h-1zm-39 1h1v1h-1zm28 0h1v1h-1zm16 0h1v1h-1zm-44 1h1v1h-1zm30 0h1v1h-1zm6 0h2v1h-2zm8 0h1v1h-1zm-44 1h1v1h-1zm41 0h2v1h-2zm13 0h1v1h-1zm-17 1h1v1h-1zm2 0h2v1h-2zm-8 1h1v1h-1zm4 0h1v1h-1zm2 0h3v1h-3zm4 0h1v1h-1zm-10 1h3v1h-3zm7 0h1v1h-1zm2 0h1v1h-1zm-40 1h1v1h-1zm33 0h1v1h-1zm6 0h1v1h-1zm-9 1h1v1h-1zm5 0h2v1h-2zm-67 1h4v1h-4zm6 0h2v1h-2zm15 0h1v1h-1zm37 0h1v1h-1zm16 0h1v1h-1zm-42 1h1v1h-1zm20 0h2v1h-2zm8 0h3v1h-3zm-69 2h1v1h-1zm3 0h1v1h-1zm-19 1h1v1h-1zm8 0h2v1h-2zm8 0h1v1h-1zm3 0h1v1h-1zm-17 1h1v1h-1zm10 0h1v1h-1zm4 0h1v1h-1zm3 0h1v1h-1zm-19 1h2v1h-2zm8 0h1v1h-1zm2 0h1v1h-1zm-44 1h2v1h-2zm46 0h2v1h-2zm-1 1h1v1h-1zm5 0h2v1h-2zm-5 1h1v1h-1zm4 0h1v1h-1zm3 0h1v1h-1zm-3 1h1v1h-1zm3 0h1v1h-1zm29 0h1v1h-1zm-40 1h2v1h-2zm7 0h1v1h-1zm33 0h1v1h-1zm-34 1h2v1h-2zm5 0h1v1h-1zm-24 1h1v1h-1zm18 0h1v1h-1zm2 0h5v1h-5zm-9 1h2v1h-2zm5 0h1v1h-1zm5 0h1v1h-1zm-21 1h2v1h-2zm6 0h2v1h-2zm9 0h1v1h-1zm2 0h1v1h-1zm3 0h1v1h-1zm3 0h1v1h-1zm-12 1h2v1h-2zm5 0h1v1h-1zm6 0h1v1h-1zm31 0h1v1h-1zm-46 1h1v1h-1zm4 0h1v1h-1zm3 0h2v1h-2zm4 0h1v1h-1zm7 0h1v1h-1zm-15 1h1v1h-1zm2 0h1v1h-1zm5 0h1v1h-1zm2 0h1v1h-1zm8 0h1v1h-1zm26 0h1v1h-1zm-48 1h1v1h-1zm6 0h1v1h-1zm7 0h1v1h-1zm2 0h1v1h-1zm2 0h1v1h-1zm-16 1h1v1h-1zm2 0h2v1h-2zm4 0h1v1h-1zm9 0h1v1h-1zm7 0h1v1h-1zm-24 1h1v1h-1zm2 0h1v1h-1zm17 0h1v1h-1zm-18 1h1v1h-1zm3 0h2v1h-2zm3 0h1v1h-1zm7 0h1v1h-1zm2 0h1v1h-1zm2 0h1v1h-1zm11 0h1v1h-1zm-27 1h1v1h-1zm10 0h1v1h-1zm6 0h2v1h-2zm-11 1h2v1h-2zm11 0h1v1h-1zm-46 1h1v1h-1zm29 0h2v1h-2zm11 0h1v1h-1zm3 0h1v1h-1zm5 0h1v1h-1zm-48 1h1v1h-1zm43 0h1v1h-1zm2 0h1v1h-1zm30 0h1v1h-1zm2 0h1v1h-1zm-61 2h1v1h-1zm22 0h1v1h-1zm3 0h1v1h-1zm6 0h1v1h-1zm29 0h1v1h-1zm-60 1h1v1h-1zm29 0h1v1h-1zm-9 1h2v1h-2zm6 0h3v1h-3zm5 0h1v1h-1zm3 0h1v1h-1zm3 0h1v1h-1zm-8 1h1v1h-1zm8 0h1v1h-1zm5 1h1v1h-1zm17 0h1v1h-1zm-45 1h1v1h-1zm13 0h3v1h-3zm16 0h1v1h-1zm17 0h1v1h-1zm-41 1h2v1h-2zm10 0h1v1h-1zm7 0h1v1h-1zm3 0h3v1h-3zm8 0h1v1h-1zm11 0h2v1h-2zm-31 1h2v1h-2zm6 0h2v1h-2zm6 0h3v1h-3zm6 0h3v1h-3zm7 0h1v1h-1zm2 0h1v1h-1zm-55 1h1v1h-1zm17 0h2v1h-2zm14 0h1v1h-1zm5 0h3v1h-3zm10 0h1v1h-1zm9 0h1v1h-1zm-27 1h3v1h-3zm6 0h1v1h-1zm10 0h2v1h-2zm6 0h4v1h-4zm5 0h1v1h-1zm2 0h1v1h-1zm-33 1h2v1h-2zm11 0h1v1h-1zm7 0h1v1h-1zm5 0h1v1h-1zm-36 1h2v1h-2zm18 0h3v1h-3zm7 0h1v1h-1zm4 0h3v1h-3zm8 0h1v1h-1zm5 0h1v1h-1zm-62 1h1v1h-1zm6 0h1v1h-1zm18 0h1v1h-1zm2 0h1v1h-1zm13 0h1v1h-1zm2 0h1v1h-1zm13 0h2v1h-2zm3 0h1v1h-1zm3 0h2v1h-2zm5 0h1v1h-1zm-66 1h1v1h-1zm7 0h1v1h-1zm14 0h1v1h-1zm3 0h1v1h-1zm3 0h2v1h-2zm6 0h2v1h-2zm10 0h2v1h-2zm11 0h2v1h-2zm4 0h1v1h-1zm3 0h1v1h-1zm3 0h1v1h-1zm-64 1h2v1h-2zm24 0h1v1h-1zm15 0h2v1h-2zm11 0h1v1h-1zm7 0h1v1h-1zm6 0h1v1h-1zm2 0h1v1h-1zm-42 1h1v1h-1zm2 0h1v1h-1zm18 0h1v1h-1zm5 0h2v1h-2zm3 0h2v1h-2zm3 0h1v1h-1zm4 0h1v1h-1zm6 0h1v1h-1zm-58 1h1v1h-1zm18 0h1v1h-1zm16 0h1v1h-1zm3 0h1v1h-1zm7 0h2v1h-2zm14 0h1v1h-1zm-58 1h1v1h-1zm12 0h1v1h-1zm19 0h1v1h-1zm3 0h1v1h-1zm2 0h1v1h-1zm12 0h1v1h-1zm4 0h1v1h-1zm0 1h1v1h-1zm2 0h1v1h-1zm3 0h2v1h-2zm-45 1h1v1h-1zm27 0h1v1h-1zm5 0h2v1h-2zm9 0h1v1h-1zm2 0h1v1h-1zm-52 1h1v1h-1zm7 0h1v1h-1zm2 0h1v1h-1zm16 0h2v1h-2zm3 0h1v1h-1zm2 0h1v1h-1zm21 0h1v1h-1zm-51 1h1v1h-1zm6 0h2v1h-2zm5 0h1v1h-1zm17 0h1v1h-1zm2 0h1v1h-1zm5 0h2v1h-2zm4 0h1v1h-1zm2 0h2v1h-2zm-25 1h1v1h-1zm6 0h2v1h-2zm-15 1h1v1h-1zm9 0h1v1h-1zm2 0h1v1h-1zm17 0h1v1h-1zm3 0h2v1h-2zm-16 1h2v1h-2zm6 0h1v1h-1zm-1 1h1v1h-1zm12 0h1v1h-1zm-53 1h1v1h-1zm2 0h1v1h-1zm36 0h1v1h-1zm4 0h1v1h-1zm10 0h1v1h-1zm-14 1h1v1h-1zm2 0h1v1h-1zm-15 1h2v1h-2zm-7 1h1v1h-1zm11 0h1v1h-1zm-4 1h2v1h-2zm7 0h1v1h-1zm2 0h1v1h-1zm-17 1h2v1h-2zm15 0h1v1h-1zm1 1h2v1h-2zm-26 3h1v1h-1zm0 1h1v1h-1zm2 0h1v1h-1zm4 2h2v1h-2zm5 0h1v1h-1zm0 1h1v1h-1zm4 1h1v1h-1zm0 1h1v1h-1zm16 0h1v1h-1z" fill="#f03a30" fill-opacity="0.30"/><path d="M0 0m435 29h1v1h-1zm-43 1h1v1h-1zm44 0h1v1h-1zm14 0h1v1h-1zm-29 1h1v1h-1zm26 1h1v1h-1zm-16 2h1v1h-1zm-5 1h1v1h-1zm4 0h1v1h-1zm-11 3h1v1h-1zm5 0h1v1h-1zm6 1h1v1h-1zm9 1h1v1h-1zm-27 1h1v1h-1zm-16 1h1v1h-1zm9 0h1v1h-1zm9 1h1v1h-1zm15 2h1v1h-1zm-40 1h1v1h-1zm15 0h1v1h-1zm11 0h1v1h-1zm15 0h1v1h-1zm-30 1h1v1h-1zm3 0h1v1h-1zm-6 1h1v1h-1zm2 0h1v1h-1zm2 0h1v1h-1zm2 0h1v1h-1zm53 0h1v1h-1zm-58 1h1v1h-1zm25 0h1v1h-1zm23 0h1v1h-1zm11 0h1v1h-1zm-35 1h1v1h-1zm6 0h2v1h-2zm28 0h1v1h-1zm-65 1h1v1h-1zm21 0h1v1h-1zm5 0h1v1h-1zm13 0h1v1h-1zm3 0h1v1h-1zm-50 1h1v1h-1zm2 0h1v1h-1zm2 0h1v1h-1zm2 0h1v1h-1zm3 0h2v1h-2zm24 0h1v1h-1zm-22 1h1v1h-1zm6 0h3v1h-3zm17 0h1v1h-1zm-29 1h1v1h-1zm5 0h3v1h-3zm4 1h1v1h-1zm19 0h1v1h-1zm2 0h1v1h-1zm10 0h1v1h-1zm-44 1h2v1h-2zm24 0h1v1h-1zm-16 1h1v1h-1zm17 0h1v1h-1zm10 0h2v1h-2zm-31 1h1v1h-1zm32 0h1v1h-1zm5 0h1v1h-1zm-39 1h1v1h-1zm20 0h1v1h-1zm19 0h1v1h-1zm-28 1h1v1h-1zm9 0h1v1h-1zm2 0h1v1h-1zm2 0h1v1h-1zm2 0h1v1h-1zm11 0h1v1h-1zm3 0h1v1h-1zm-41 1h2v1h-2zm13 0h1v1h-1zm12 0h1v1h-1zm17 0h1v1h-1zm-40 1h1v1h-1zm22 0h1v1h-1zm2 0h1v1h-1zm21 0h1v1h-1zm-13 1h2v1h-2zm12 0h1v1h-1zm2 0h1v1h-1zm-21 1h1v1h-1zm-5 1h1v1h-1zm2 0h1v1h-1zm21 0h1v1h-1zm-19 1h1v1h-1zm18 0h1v1h-1zm-10 1h1v1h-1zm-36 1h1v1h-1zm22 0h1v1h-1zm5 0h1v1h-1zm2 0h2v1h-2zm-30 1h1v1h-1zm29 0h1v1h-1zm5 0h1v1h-1zm-34 1h1v1h-1zm31 0h1v1h-1zm7 0h1v1h-1zm-13 1h1v1h-1zm11 0h1v1h-1zm2 0h1v1h-1zm8 0h1v1h-1zm10 0h1v1h-1zm-18 1h1v1h-1zm9 0h1v1h-1zm9 0h2v1h-2zm-24 1h1v1h-1zm6 0h1v1h-1zm-11 1h1v1h-1zm9 0h1v1h-1zm-10 1h1v1h-1zm11 0h1v1h-1zm21 0h1v1h-1zm-29 1h1v1h-1zm2 0h1v1h-1zm4 0h1v1h-1zm22 0h2v1h-2zm-26 1h1v1h-1zm6 0h1v1h-1zm2 0h1v1h-1zm3 0h2v1h-2zm-42 1h1v1h-1zm36 0h1v1h-1zm9 0h1v1h-1zm-45 1h1v1h-1zm33 0h1v1h-1zm4 0h1v1h-1zm-9 1h1v1h-1zm11 0h1v1h-1zm-39 1h1v1h-1zm29 0h1v1h-1zm8 0h1v1h-1zm-7 1h1v1h-1zm13 0h1v1h-1zm-15 1h1v1h-1zm5 1h1v1h-1zm-7 1h1v1h-1zm4 0h1v1h-1zm4 0h1v1h-1zm20 0h1v1h-1zm-54 1h1v1h-1zm42 0h1v1h-1zm-42 1h1v1h-1zm34 0h1v1h-1zm7 0h1v1h-1zm-15 1h2v1h-2zm-26 1h1v1h-1zm25 0h1v1h-1zm-60 1h1v1h-1zm2 0h1v1h-1zm33 0h1v1h-1zm23 1h1v1h-1zm19 0h1v1h-1zm-78 1h2v1h-2zm-7 1h1v1h-1zm33 0h1v1h-1zm-45 1h1v1h-1zm19 0h1v1h-1zm4 1h1v1h-1zm-12 1h1v1h-1zm3 0h1v1h-1zm-50 2h1v1h-1zm81 1h1v1h-1zm-32 2h1v1h-1zm-7 1h1v1h-1zm13 0h1v1h-1zm26 0h1v1h-1zm-52 2h1v1h-1zm17 0h1v1h-1zm7 0h1v1h-1zm28 1h1v1h-1zm-47 1h1v1h-1zm19 0h1v1h-1zm-3 1h1v1h-1zm5 0h1v1h-1zm-4 1h1v1h-1zm4 1h1v1h-1zm26 0h1v1h-1zm-49 1h1v1h-1zm7 0h1v1h-1zm7 1h1v1h-1zm35 0h1v1h-1zm-41 1h1v1h-1zm5 0h1v1h-1zm3 1h1v1h-1zm9 0h1v1h-1zm-24 1h1v1h-1zm10 0h1v1h-1zm5 0h1v1h-1zm9 0h1v1h-1zm24 0h1v1h-1zm-31 1h1v1h-1zm5 0h1v1h-1zm26 0h1v1h-1zm-33 1h1v1h-1zm9 0h1v1h-1zm-15 1h1v1h-1zm3 0h1v1h-1zm3 0h1v1h-1zm-5 1h1v1h-1zm7 0h1v1h-1zm2 1h1v1h-1zm2 0h1v1h-1zm-1 1h1v1h-1zm2 0h1v1h-1zm23 0h2v1h-2zm-33 1h1v1h-1zm5 0h1v1h-1zm25 0h1v1h-1zm-31 1h1v1h-1zm2 0h1v1h-1zm9 0h1v1h-1zm6 0h1v1h-1zm14 0h1v1h-1zm2 0h1v1h-1zm-51 1h1v1h-1zm19 0h1v1h-1zm7 0h1v1h-1zm3 0h2v1h-2zm6 0h1v1h-1zm17 0h1v1h-1zm-44 1h1v1h-1zm17 0h1v1h-1zm3 0h1v1h-1zm15 0h1v1h-1zm5 0h1v1h-1zm-55 1h1v1h-1zm17 0h1v1h-1zm4 0h1v1h-1zm10 0h1v1h-1zm6 0h1v1h-1zm17 0h1v1h-1zm3 0h1v1h-1zm-56 1h1v1h-1zm27 0h1v1h-1zm4 0h1v1h-1zm3 0h1v1h-1zm12 0h1v1h-1zm-15 1h1v1h-1zm-21 1h1v1h-1zm21 0h1v1h-1zm2 0h1v1h-1zm2 0h1v1h-1zm9 0h1v1h-1zm3 0h1v1h-1zm-16 1h1v1h-1zm3 0h1v1h-1zm2 0h1v1h-1zm7 0h1v1h-1zm12 0h1v1h-1zm-27 1h1v1h-1zm26 0h1v1h-1zm-39 1h1v1h-1zm3 0h1v1h-1zm8 0h1v1h-1zm2 0h1v1h-1zm12 0h2v1h-2zm8 0h1v1h-1zm-31 1h1v1h-1zm20 0h1v1h-1zm3 0h2v1h-2zm4 0h1v1h-1zm3 0h1v1h-1zm3 0h1v1h-1zm-14 1h1v1h-1zm-42 1h1v1h-1zm13 0h1v1h-1zm19 0h1v1h-1zm5 0h1v1h-1zm21 0h1v1h-1zm-46 1h1v1h-1zm35 0h1v1h-1zm-7 1h1v1h-1zm14 0h1v1h-1zm-42 1h1v1h-1zm26 0h1v1h-1zm-5 1h1v1h-1zm12 0h1v1h-1zm-38 1h2v1h-2zm9 0h1v1h-1zm14 0h1v1h-1zm-23 1h2v1h-2zm3 0h1v1h-1zm5 0h1v1h-1zm6 0h1v1h-1zm23 0h1v1h-1zm-12 1h1v1h-1zm-1 1h1v1h-1zm2 0h1v1h-1zm9 0h1v1h-1zm-52 1h1v1h-1zm2 0h1v1h-1zm50 0h1v1h-1zm-13 1h1v1h-1zm4 0h1v1h-1zm8 0h1v1h-1zm-9 1h1v1h-1zm-14 2h1v1h-1zm-11 1h1v1h-1zm12 0h1v1h-1zm-21 5h1v1h-1zm13 5h1v1h-1zm16 1h1v1h-1zm1 1h1v1h-1z" fill="#f03a30" fill-opacity="0.50"/><path d="M0 0m428 31h1v1h-1zm8 2h1v1h-1zm-6 4h1v1h-1zm-10 1h1v1h-1zm11 0h1v1h-1zm-20 1h1v1h-1zm20 0h1v1h-1zm-20 1h1v1h-1zm13 2h1v1h-1zm-4 2h1v1h-1zm-20 1h1v1h-1zm15 0h1v1h-1zm-13 2h1v1h-1zm-6 2h1v1h-1zm19 1h1v1h-1zm21 0h1v1h-1zm12 0h2v1h-2zm-55 1h1v1h-1zm35 0h2v1h-2zm8 0h1v1h-1zm-40 1h1v1h-1zm4 0h2v1h-2zm8 0h2v1h-2zm35 0h1v1h-1zm-59 1h1v1h-1zm12 0h1v1h-1zm9 0h1v1h-1zm2 0h1v1h-1zm4 0h1v1h-1zm7 0h1v1h-1zm25 0h1v1h-1zm-42 1h1v1h-1zm17 0h1v1h-1zm10 0h1v1h-1zm-21 1h1v1h-1zm15 0h2v1h-2zm-33 1h1v1h-1zm4 0h1v1h-1zm4 0h1v1h-1zm9 0h1v1h-1zm11 0h2v1h-2zm-33 1h2v1h-2zm4 0h1v1h-1zm26 0h1v1h-1zm-29 1h1v1h-1zm2 0h1v1h-1zm5 0h1v1h-1zm23 0h1v1h-1zm4 0h1v1h-1zm-15 1h1v1h-1zm0 1h1v1h-1zm3 0h1v1h-1zm23 0h2v1h-2zm-19 1h1v1h-1zm-26 1h1v1h-1zm21 0h1v1h-1zm10 0h1v1h-1zm-33 1h1v1h-1zm23 0h1v1h-1zm9 0h1v1h-1zm-28 1h1v1h-1zm32 0h2v1h-2zm11 0h2v1h-2zm-29 1h1v1h-1zm7 0h1v1h-1zm3 0h2v1h-2zm-5 1h2v1h-2zm3 0h1v1h-1zm6 0h1v1h-1zm15 0h1v1h-1zm-24 1h1v1h-1zm9 0h1v1h-1zm3 0h1v1h-1zm8 0h2v1h-2zm-10 1h2v1h-2zm4 0h1v1h-1zm-12 1h1v1h-1zm3 1h1v1h-1zm4 0h1v1h-1zm2 0h1v1h-1zm-12 1h1v1h-1zm34 0h1v1h-1zm-32 1h2v1h-2zm5 0h1v1h-1zm7 0h1v1h-1zm2 0h1v1h-1zm-11 1h1v1h-1zm-3 1h1v1h-1zm8 0h1v1h-1zm4 0h1v1h-1zm-6 1h1v1h-1zm7 0h1v1h-1zm5 0h1v1h-1zm14 0h1v1h-1zm-15 1h1v1h-1zm-14 1h1v1h-1zm6 0h1v1h-1zm4 0h1v1h-1zm-14 1h1v1h-1zm15 0h1v1h-1zm7 0h2v1h-2zm-8 1h2v1h-2zm-38 1h1v1h-1zm27 0h1v1h-1zm2 0h1v1h-1zm2 0h1v1h-1zm1 1h2v1h-2zm0 1h2v1h-2zm4 0h2v1h-2zm6 1h1v1h-1zm-15 1h1v1h-1zm3 0h1v1h-1zm9 0h2v1h-2zm14 0h1v1h-1zm-17 1h1v1h-1zm17 0h1v1h-1zm-24 1h1v1h-1zm3 0h2v1h-2zm-9 1h1v1h-1zm5 0h1v1h-1zm14 0h1v1h-1zm-19 1h2v1h-2zm6 1h1v1h-1zm2 0h1v1h-1zm-65 1h1v1h-1zm22 0h1v1h-1zm37 0h1v1h-1zm4 0h1v1h-1zm6 0h1v1h-1zm8 0h1v1h-1zm-75 1h1v1h-1zm3 0h1v1h-1zm51 0h1v1h-1zm3 0h1v1h-1zm18 0h1v1h-1zm-81 1h1v1h-1zm-5 2h1v1h-1zm6 0h1v1h-1zm27 0h1v1h-1zm-39 1h1v1h-1zm2 0h1v1h-1zm8 0h1v1h-1zm29 0h1v1h-1zm-38 1h1v1h-1zm1 2h1v1h-1zm37 0h1v1h-1zm-37 1h1v1h-1zm4 0h1v1h-1zm5 0h1v1h-1zm-5 1h1v1h-1zm6 0h1v1h-1zm2 0h1v1h-1zm-5 1h2v1h-2zm4 0h1v1h-1zm26 2h1v1h-1zm-34 1h1v1h-1zm-7 1h1v1h-1zm6 0h2v1h-2zm6 0h1v1h-1zm-10 1h2v1h-2zm12 1h1v1h-1zm-3 2h1v1h-1zm3 0h1v1h-1zm2 0h1v1h-1zm-5 1h1v1h-1zm2 0h1v1h-1zm2 0h1v1h-1zm26 0h1v1h-1zm-44 1h1v1h-1zm12 1h1v1h-1zm32 0h1v1h-1zm0 1h1v1h-1zm-32 1h1v1h-1zm6 0h1v1h-1zm3 0h1v1h-1zm-53 1h1v1h-1zm34 0h1v1h-1zm10 0h1v1h-1zm2 0h1v1h-1zm5 0h1v1h-1zm-51 1h1v1h-1zm45 0h1v1h-1zm2 0h1v1h-1zm6 0h1v1h-1zm22 0h1v1h-1zm-29 1h1v1h-1zm2 0h1v1h-1zm5 0h1v1h-1zm22 0h1v1h-1zm-59 1h1v1h-1zm31 0h1v1h-1zm4 0h1v1h-1zm-35 1h1v1h-1zm19 0h1v1h-1zm13 0h1v1h-1zm10 0h1v1h-1zm-7 1h1v1h-1zm-9 1h1v1h-1zm4 0h1v1h-1zm4 0h2v1h-2zm5 0h1v1h-1zm14 0h1v1h-1zm4 0h2v1h-2zm-54 1h1v1h-1zm2 0h1v1h-1zm23 0h1v1h-1zm3 0h1v1h-1zm4 0h1v1h-1zm2 0h1v1h-1zm-34 1h2v1h-2zm11 0h1v1h-1zm18 0h2v1h-2zm11 0h1v1h-1zm3 0h1v1h-1zm3 0h1v1h-1zm4 0h1v1h-1zm-39 1h1v1h-1zm12 0h2v1h-2zm3 0h1v1h-1zm5 0h1v1h-1zm2 0h1v1h-1zm6 0h1v1h-1zm2 0h1v1h-1zm7 0h1v1h-1zm4 0h2v1h-2zm-18 1h1v1h-1zm4 0h1v1h-1zm2 0h1v1h-1zm11 0h1v1h-1zm-16 1h1v1h-1zm5 0h1v1h-1zm3 0h1v1h-1zm8 0h1v1h-1zm-32 1h2v1h-2zm7 0h1v1h-1zm10 0h1v1h-1zm-11 1h1v1h-1zm13 0h1v1h-1zm3 0h1v1h-1zm4 0h2v1h-2zm-7 1h1v1h-1zm2 0h1v1h-1zm6 0h1v1h-1zm-53 1h1v1h-1zm26 0h1v1h-1zm10 0h1v1h-1zm-36 1h1v1h-1zm30 0h1v1h-1zm22 0h1v1h-1zm2 0h1v1h-1zm-41 1h1v1h-1zm38 1h1v1h-1zm-24 1h1v1h-1zm6 0h1v1h-1zm13 0h1v1h-1zm-18 1h1v1h-1zm5 0h1v1h-1zm23 0h1v1h-1zm-21 1h1v1h-1zm1 1h1v1h-1zm-36 1h1v1h-1zm0 1h1v1h-1zm37 1h1v1h-1zm-14 1h2v1h-2zm4 2h1v1h-1zm-39 1h1v1h-1zm42 1h1v1h-1zm-18 2h1v1h-1zm-8 9h1v1h-1zm-4 1h2v1h-2z" fill="#f03a30" fill-opacity="0.70"/><path d="M0 0m435 30h1v1h-1zm14 0h1v1h-1zm-22 1h1v1h-1zm20 0h1v1h-1zm-11 3h1v1h-1zm-5 1h1v1h-1zm-12 2h1v1h-1zm2 1h1v1h-1zm9 0h1v1h-1zm-6 1h1v1h-1zm-12 1h1v1h-1zm26 0h1v1h-1zm-13 2h1v1h-1zm-29 1h1v1h-1zm9 0h1v1h-1zm9 1h1v1h-1zm5 0h1v1h-1zm11 1h1v1h-1zm-40 1h1v1h-1zm9 0h2v1h-2zm0 1h1v1h-1zm2 0h1v1h-1zm4 0h1v1h-1zm-3 1h1v1h-1zm4 0h1v1h-1zm0 1h1v1h-1zm-11 1h1v1h-1zm2 0h1v1h-1zm19 0h2v1h-2zm7 0h1v1h-1zm23 0h1v1h-1zm-51 1h2v1h-2zm-5 1h2v1h-2zm5 0h1v1h-1zm2 0h1v1h-1zm14 0h1v1h-1zm6 0h1v1h-1zm13 0h1v1h-1zm-45 1h1v1h-1zm10 0h1v1h-1zm3 0h1v1h-1zm5 0h1v1h-1zm-14 1h1v1h-1zm3 0h1v1h-1zm5 0h1v1h-1zm3 0h1v1h-1zm2 0h2v1h-2zm4 0h1v1h-1zm23 0h1v1h-1zm-41 1h1v1h-1zm13 0h3v1h-3zm4 0h1v1h-1zm-17 1h1v1h-1zm2 0h1v1h-1zm2 0h1v1h-1zm2 0h3v1h-3zm9 0h1v1h-1zm4 0h1v1h-1zm7 0h1v1h-1zm-25 1h1v1h-1zm10 0h2v1h-2zm-15 1h1v1h-1zm6 0h1v1h-1zm4 0h1v1h-1zm2 0h1v1h-1zm3 0h2v1h-2zm15 0h1v1h-1zm12 0h1v1h-1zm-29 1h2v1h-2zm4 0h1v1h-1zm6 0h1v1h-1zm4 0h2v1h-2zm-24 1h1v1h-1zm11 0h1v1h-1zm13 0h1v1h-1zm-27 1h1v1h-1zm3 0h2v1h-2zm10 0h1v1h-1zm2 0h1v1h-1zm2 0h3v1h-3zm5 0h2v1h-2zm-9 1h1v1h-1zm4 0h1v1h-1zm9 0h1v1h-1zm-24 1h2v1h-2zm15 0h1v1h-1zm3 0h1v1h-1zm3 0h1v1h-1zm3 0h1v1h-1zm-26 1h1v1h-1zm2 0h1v1h-1zm11 0h1v1h-1zm4 0h1v1h-1zm6 0h1v1h-1zm-22 1h1v1h-1zm15 0h1v1h-1zm2 0h1v1h-1zm4 0h1v1h-1zm4 0h1v1h-1zm3 0h1v1h-1zm-29 1h1v1h-1zm16 0h1v1h-1zm3 0h1v1h-1zm13 0h1v1h-1zm-32 1h1v1h-1zm33 0h1v1h-1zm-9 1h2v1h-2zm10 0h1v1h-1zm-12 1h1v1h-1zm9 0h1v1h-1zm-10 1h1v1h-1zm7 0h1v1h-1zm2 0h1v1h-1zm5 0h1v1h-1zm-10 1h1v1h-1zm8 0h1v1h-1zm2 0h1v1h-1zm10 0h1v1h-1zm-19 1h1v1h-1zm-4 1h1v1h-1zm2 0h1v1h-1zm3 0h1v1h-1zm10 0h1v1h-1zm-7 1h1v1h-1zm2 0h2v1h-2zm-12 1h4v1h-4zm7 0h2v1h-2zm6 0h2v1h-2zm-13 1h2v1h-2zm21 0h1v1h-1zm-20 1h2v1h-2zm4 0h1v1h-1zm8 0h1v1h-1zm10 0h1v1h-1zm-20 1h2v1h-2zm6 0h2v1h-2zm7 0h1v1h-1zm-10 1h2v1h-2zm4 1h1v1h-1zm-5 1h1v1h-1zm4 0h1v1h-1zm-7 1h1v1h-1zm3 0h1v1h-1zm-3 1h2v1h-2zm3 0h1v1h-1zm4 0h2v1h-2zm10 0h1v1h-1zm2 0h1v1h-1zm-18 1h1v1h-1zm3 0h2v1h-2zm4 0h1v1h-1zm-7 1h1v1h-1zm2 0h1v1h-1zm2 0h1v1h-1zm2 0h1v1h-1zm2 0h1v1h-1zm-10 1h1v1h-1zm5 0h1v1h-1zm8 0h1v1h-1zm-11 1h1v1h-1zm2 0h1v1h-1zm3 1h1v1h-1zm-6 1h1v1h-1zm4 0h1v1h-1zm4 0h1v1h-1zm-60 1h2v1h-2zm4 0h3v1h-3zm6 0h1v1h-1zm3 0h1v1h-1zm2 0h1v1h-1zm33 0h1v1h-1zm8 0h1v1h-1zm8 0h1v1h-1zm-67 1h1v1h-1zm21 0h1v1h-1zm12 0h1v1h-1zm-36 1h2v1h-2zm-8 1h1v1h-1zm3 0h1v1h-1zm3 0h1v1h-1zm-20 1h1v1h-1zm14 0h1v1h-1zm2 0h1v1h-1zm7 0h2v1h-2zm-24 1h2v1h-2zm24 0h1v1h-1zm-6 1h1v1h-1zm7 0h1v1h-1zm22 0h1v1h-1zm-29 1h1v1h-1zm5 0h2v1h-2zm3 0h1v1h-1zm-59 1h1v1h-1zm51 0h1v1h-1zm5 0h1v1h-1zm-4 2h1v1h-1zm2 0h1v1h-1zm-1 1h1v1h-1zm-13 1h1v1h-1zm9 0h1v1h-1zm3 0h1v1h-1zm5 0h1v1h-1zm-4 1h1v1h-1zm0 1h1v1h-1zm27 0h1v1h-1zm-42 1h1v1h-1zm15 0h1v1h-1zm-3 1h2v1h-2zm3 0h1v1h-1zm3 0h4v1h-4zm-5 1h1v1h-1zm8 0h1v1h-1zm-8 1h2v1h-2zm0 2h1v1h-1zm7 0h1v1h-1zm-23 1h1v1h-1zm4 0h1v1h-1zm5 0h1v1h-1zm7 0h2v1h-2zm3 0h2v1h-2zm4 0h1v1h-1zm2 0h1v1h-1zm-10 1h1v1h-1zm3 0h1v1h-1zm3 0h2v1h-2zm5 0h1v1h-1zm-10 1h1v1h-1zm3 0h2v1h-2zm6 0h1v1h-1zm-27 1h1v1h-1zm17 0h1v1h-1zm5 0h1v1h-1zm3 0h3v1h-3zm4 0h1v1h-1zm-23 1h1v1h-1zm13 0h1v1h-1zm4 0h1v1h-1zm22 0h2v1h-2zm-28 1h1v1h-1zm5 0h1v1h-1zm3 0h1v1h-1zm-16 1h1v1h-1zm7 0h1v1h-1zm2 0h1v1h-1zm5 0h1v1h-1zm4 0h1v1h-1zm18 0h1v1h-1zm-35 1h1v1h-1zm4 0h1v1h-1zm5 0h1v1h-1zm2 0h1v1h-1zm3 0h1v1h-1zm21 0h1v1h-1zm-38 1h1v1h-1zm14 0h1v1h-1zm5 0h1v1h-1zm2 0h1v1h-1zm6 0h1v1h-1zm10 0h2v1h-2zm-19 1h1v1h-1zm11 0h1v1h-1zm4 0h1v1h-1zm3 0h1v1h-1zm-29 1h1v1h-1zm4 0h3v1h-3zm7 0h1v1h-1zm3 0h1v1h-1zm8 0h1v1h-1zm6 0h1v1h-1zm-51 1h1v1h-1zm25 0h1v1h-1zm10 0h1v1h-1zm3 0h1v1h-1zm7 0h1v1h-1zm6 0h1v1h-1zm-32 1h1v1h-1zm6 0h1v1h-1zm7 0h1v1h-1zm2 0h1v1h-1zm7 0h1v1h-1zm2 0h1v1h-1zm4 0h1v1h-1zm-10 1h1v1h-1zm4 0h1v1h-1zm5 0h1v1h-1zm-51 1h1v1h-1zm17 0h1v1h-1zm2 0h1v1h-1zm12 0h1v1h-1zm18 0h2v1h-2zm-21 1h1v1h-1zm5 0h1v1h-1zm10 0h1v1h-1zm7 0h1v1h-1zm6 0h1v1h-1zm-17 1h1v1h-1zm6 0h3v1h-3zm10 0h1v1h-1zm-44 1h1v1h-1zm19 0h1v1h-1zm6 0h1v1h-1zm3 0h2v1h-2zm4 0h1v1h-1zm9 0h1v1h-1zm-26 1h1v1h-1zm19 0h1v1h-1zm6 0h1v1h-1zm-36 1h1v1h-1zm7 0h1v1h-1zm4 0h1v1h-1zm6 0h1v1h-1zm16 0h2v1h-2zm-37 1h2v1h-2zm0 1h2v1h-2zm7 0h1v1h-1zm25 0h1v1h-1zm5 0h1v1h-1zm3 0h1v1h-1zm-9 2h1v1h-1zm-48 1h1v1h-1zm30 0h1v1h-1zm24 0h1v1h-1zm-25 4h1v1h-1zm4 0h1v1h-1zm-22 1h1v1h-1zm5 0h1v1h-1zm23 0h1v1h-1zm-6 1h1v1h-1zm-3 1h1v1h-1zm-1 3h1v1h-1zm-13 2h1v1h-1zm-8 1h1v1h-1zm10 0h1v1h-1zm5 0h1v1h-1zm0 1h1v1h-1zm-25 5h1v1h-1zm9 3h1v1h-1zm4 2h1v1h-1zm16 1h1v1h-1z" fill="#f03a30" fill-opacity="0.85"/><path d="M0 0m392 31h1v1h-1zm30 0h1v1h-1zm4 3h1v1h-1zm-11 10h1v1h-1zm-13 2h1v1h-1zm12 0h1v1h-1zm-10 1h1v1h-1zm-4 1h1v1h-1zm5 0h1v1h-1zm-8 1h1v1h-1zm59 0h1v1h-1zm-62 1h1v1h-1zm2 0h1v1h-1zm13 0h1v1h-1zm-17 1h1v1h-1zm2 0h1v1h-1zm38 0h1v1h-1zm-48 1h1v1h-1zm4 0h1v1h-1zm6 0h1v1h-1zm18 0h1v1h-1zm-22 1h2v1h-2zm7 0h1v1h-1zm2 0h1v1h-1zm7 0h1v1h-1zm-16 1h2v1h-2zm6 0h1v1h-1zm2 0h2v1h-2zm7 0h1v1h-1zm2 0h1v1h-1zm-18 1h4v1h-4zm7 0h1v1h-1zm2 0h3v1h-3zm8 0h1v1h-1zm11 0h1v1h-1zm10 0h1v1h-1zm-36 1h1v1h-1zm7 0h5v1h-5zm7 0h1v1h-1zm-18 1h1v1h-1zm3 0h2v1h-2zm3 0h6v1h-6zm8 0h1v1h-1zm7 0h1v1h-1zm-22 1h1v1h-1zm3 0h1v1h-1zm2 0h1v1h-1zm2 0h1v1h-1zm2 0h1v1h-1zm2 0h2v1h-2zm4 0h1v1h-1zm-14 1h10v1h-10zm12 0h2v1h-2zm3 0h2v1h-2zm3 0h1v1h-1zm21 0h1v1h-1zm-38 1h9v1h-9zm11 0h5v1h-5zm25 0h1v1h-1zm-35 1h8v1h-8zm11 0h1v1h-1zm8 0h1v1h-1zm4 0h1v1h-1zm4 0h1v1h-1zm10 0h1v1h-1zm-43 1h2v1h-2zm5 0h9v1h-9zm10 0h3v1h-3zm4 0h2v1h-2zm31 0h1v1h-1zm-49 1h2v1h-2zm4 0h13v1h-13zm14 0h2v1h-2zm7 0h1v1h-1zm7 0h1v1h-1zm-31 1h1v1h-1zm3 0h9v1h-9zm10 0h3v1h-3zm4 0h5v1h-5zm7 0h2v1h-2zm4 0h1v1h-1zm-27 1h14v1h-14zm17 0h3v1h-3zm11 0h1v1h-1zm-29 1h15v1h-15zm16 0h2v1h-2zm3 0h2v1h-2zm4 0h1v1h-1zm4 0h1v1h-1zm-27 1h21v1h-21zm23 0h2v1h-2zm8 0h1v1h-1zm-32 1h21v1h-21zm22 0h2v1h-2zm13 0h1v1h-1zm-36 1h23v1h-23zm24 0h1v1h-1zm3 0h1v1h-1zm2 0h3v1h-3zm-29 1h22v1h-22zm23 0h5v1h-5zm39 0h1v1h-1zm-62 1h22v1h-22zm25 0h1v1h-1zm2 0h2v1h-2zm-27 1h23v1h-23zm26 0h1v1h-1zm2 0h1v1h-1zm-28 1h23v1h-23zm24 0h1v1h-1zm2 0h1v1h-1zm3 0h2v1h-2zm-29 1h24v1h-24zm28 0h3v1h-3zm9 0h1v1h-1zm-37 1h21v1h-21zm26 0h2v1h-2zm5 0h1v1h-1zm-31 1h21v1h-21zm23 0h5v1h-5zm6 0h1v1h-1zm-29 1h22v1h-22zm24 0h2v1h-2zm-24 1h22v1h-22zm26 0h1v1h-1zm6 0h2v1h-2zm4 0h1v1h-1zm-36 1h27v1h-27zm31 0h1v1h-1zm-31 1h26v1h-26zm29 0h1v1h-1zm8 0h1v1h-1zm-37 1h26v1h-26zm29 0h1v1h-1zm8 0h1v1h-1zm-37 1h23v1h-23zm24 0h2v1h-2zm6 0h1v1h-1zm-30 1h23v1h-23zm25 0h1v1h-1zm-25 1h24v1h-24zm25 0h1v1h-1zm5 0h1v1h-1zm-30 1h24v1h-24zm27 0h1v1h-1zm4 0h1v1h-1zm-31 1h22v1h-22zm23 0h4v1h-4zm10 0h1v1h-1zm-33 1h22v1h-22zm23 0h1v1h-1zm2 0h1v1h-1zm3 0h2v1h-2zm10 0h1v1h-1zm-38 1h22v1h-22zm24 0h1v1h-1zm3 0h2v1h-2zm3 0h2v1h-2zm-30 1h23v1h-23zm25 0h1v1h-1zm-47 1h3v1h-3zm4 0h2v1h-2zm3 0h1v1h-1zm15 0h19v1h-19zm20 0h4v1h-4zm9 0h1v1h-1zm-65 1h3v1h-3zm5 0h1v1h-1zm2 0h18v1h-18zm29 0h1v1h-1zm2 0h17v1h-17zm21 0h1v1h-1zm-61 1h1v1h-1zm5 0h23v1h-23zm-8 1h1v1h-1zm3 0h1v1h-1zm2 0h25v1h-25zm-4 1h1v1h-1zm4 0h2v1h-2zm4 0h21v1h-21zm-17 1h1v1h-1zm8 0h1v1h-1zm3 0h4v1h-4zm6 0h21v1h-21zm-14 1h1v1h-1zm5 0h1v1h-1zm3 0h5v1h-5zm6 0h21v1h-21zm-10 1h2v1h-2zm3 0h4v1h-4zm6 0h1v1h-1zm2 0h21v1h-21zm-8 1h4v1h-4zm5 0h23v1h-23zm-4 1h27v1h-27zm3 1h24v1h-24zm-7 1h1v1h-1zm3 0h1v1h-1zm3 0h25v1h-25zm-7 1h1v1h-1zm2 0h1v1h-1zm3 0h1v1h-1zm2 0h2v1h-2zm3 0h22v1h-22zm-12 1h1v1h-1zm6 0h1v1h-1zm2 0h26v1h-26zm-27 1h1v1h-1zm20 0h1v1h-1zm7 0h26v1h-26zm-11 1h1v1h-1zm9 0h1v1h-1zm2 0h26v1h-26zm-20 1h1v1h-1zm20 0h2v1h-2zm6 0h20v1h-20zm-10 1h1v1h-1zm5 0h4v1h-4zm5 0h20v1h-20zm-22 1h1v1h-1zm7 0h1v1h-1zm10 0h25v1h-25zm-7 1h1v1h-1zm3 0h2v1h-2zm5 0h24v1h-24zm-24 1h1v1h-1zm21 0h1v1h-1zm3 0h2v1h-2zm3 0h21v1h-21zm-27 1h1v1h-1zm6 0h1v1h-1zm15 0h1v1h-1zm3 0h2v1h-2zm3 0h1v1h-1zm2 0h19v1h-19zm-10 1h2v1h-2zm3 0h2v1h-2zm4 0h2v1h-2zm4 0h18v1h-18zm-14 1h1v1h-1zm4 0h2v1h-2zm5 0h3v1h-3zm4 0h19v1h-19zm-18 1h1v1h-1zm8 0h3v1h-3zm10 0h1v1h-1zm2 0h17v1h-17zm-16 1h1v1h-1zm6 0h1v1h-1zm4 0h21v1h-21zm-4 1h2v1h-2zm6 0h19v1h-19zm-16 1h1v1h-1zm5 0h1v1h-1zm5 0h3v1h-3zm5 0h2v1h-2zm3 0h17v1h-17zm-13 1h1v1h-1zm5 0h1v1h-1zm3 0h1v1h-1zm2 0h20v1h-20zm-3 1h4v1h-4zm5 0h1v1h-1zm3 0h4v1h-4zm5 0h9v1h-9zm-17 1h1v1h-1zm6 0h1v1h-1zm2 0h10v1h-10zm11 0h3v1h-3zm4 0h2v1h-2zm-29 1h1v1h-1zm12 0h1v1h-1zm3 0h1v1h-1zm2 0h7v1h-7zm8 0h3v1h-3zm-26 1h1v1h-1zm6 0h1v1h-1zm2 0h2v1h-2zm4 0h1v1h-1zm2 0h1v1h-1zm5 0h6v1h-6zm7 0h4v1h-4zm-20 1h1v1h-1zm7 0h1v1h-1zm2 0h1v1h-1zm2 0h1v1h-1zm3 0h1v1h-1zm4 0h1v1h-1zm2 0h1v1h-1zm2 0h1v1h-1zm2 0h3v1h-3zm4 0h1v1h-1zm-27 1h1v1h-1zm6 0h1v1h-1zm6 0h1v1h-1zm4 0h1v1h-1zm2 0h1v1h-1zm3 0h1v1h-1zm2 0h1v1h-1zm-20 1h1v1h-1zm2 0h1v1h-1zm6 0h1v1h-1zm5 0h1v1h-1zm-8 1h1v1h-1zm8 0h2v1h-2zm0 1h1v1h-1zm0 1h1v1h-1zm3 0h1v1h-1zm-24 1h1v1h-1zm5 0h2v1h-2zm16 0h2v1h-2zm6 0h1v1h-1zm-27 1h1v1h-1zm-37 1h1v1h-1zm39 0h1v1h-1zm17 0h1v1h-1zm-10 1h1v1h-1zm13 0h1v1h-1zm4 0h1v1h-1zm-40 1h1v1h-1zm18 0h1v1h-1zm8 0h1v1h-1zm-33 1h1v1h-1zm19 0h1v1h-1zm16 0h1v1h-1zm1 1h1v1h-1zm10 0h1v1h-1zm-19 1h1v1h-1zm16 1h1v1h-1zm-43 1h1v1h-1zm34 0h1v1h-1zm-2 1h1v1h-1zm-23 2h1v1h-1zm22 1h1v1h-1zm-52 1h1v1h-1zm50 0h1v1h-1zm-17 6h1v1h-1z" fill="#ec2127"/><line x1="377.60" y1="22.60" x2="377.60" y2="161.40" stroke="#333" stroke-width="0.9" stroke-dasharray="1.9,1.2"/><line x1="290.20" y1="91.20" x2="463.10" y2="91.20" stroke="#333" stroke-width="0.9" stroke-dasharray="1.9,1.2"/><line x1="300.16" y1="153.36" x2="455.04" y2="29.04" stroke="#7a7a7a" stroke-width="0.75" stroke-dasharray="1.3,1.1"/><rect x="290.2" y="22.6" width="172.90" height="138.80" fill="none" stroke="#222" stroke-width="1.1"/><line x1="288.00" y1="32.92" x2="290.20" y2="32.92" stroke="#222" stroke-width="1" /><text transform="translate(283.80,36.02) scale(0.91,1)" font-size="8.7" text-anchor="end" fill="#1a1a1a">0.75</text><line x1="288.00" y1="52.35" x2="290.20" y2="52.35" stroke="#222" stroke-width="1" /><text transform="translate(283.80,55.45) scale(0.91,1)" font-size="8.7" text-anchor="end" fill="#1a1a1a">0.50</text><line x1="288.00" y1="71.78" x2="290.20" y2="71.78" stroke="#222" stroke-width="1" /><text transform="translate(283.80,74.88) scale(0.91,1)" font-size="8.7" text-anchor="end" fill="#1a1a1a">0.25</text><line x1="288.00" y1="91.20" x2="290.20" y2="91.20" stroke="#222" stroke-width="1" /><text transform="translate(283.80,94.30) scale(0.91,1)" font-size="8.7" text-anchor="end" fill="#1a1a1a">0.00</text><line x1="288.00" y1="110.62" x2="290.20" y2="110.62" stroke="#222" stroke-width="1" /><text transform="translate(283.80,113.72) scale(0.91,1)" font-size="8.7" text-anchor="end" fill="#1a1a1a">−0.25</text><line x1="288.00" y1="130.05" x2="290.20" y2="130.05" stroke="#222" stroke-width="1" /><text transform="translate(283.80,133.15) scale(0.91,1)" font-size="8.7" text-anchor="end" fill="#1a1a1a">−0.50</text><line x1="288.00" y1="149.48" x2="290.20" y2="149.48" stroke="#222" stroke-width="1" /><text transform="translate(283.80,152.58) scale(0.91,1)" font-size="8.7" text-anchor="end" fill="#1a1a1a">−0.75</text><line x1="300.16" y1="161.40" x2="300.16" y2="163.60" stroke="#222" stroke-width="1" /><text transform="translate(300.16,172.40) scale(0.91,1)" font-size="8.7" text-anchor="middle" fill="#1a1a1a">−0.8</text><line x1="319.52" y1="161.40" x2="319.52" y2="163.60" stroke="#222" stroke-width="1" /><text transform="translate(319.52,172.40) scale(0.91,1)" font-size="8.7" text-anchor="middle" fill="#1a1a1a">−0.6</text><line x1="338.88" y1="161.40" x2="338.88" y2="163.60" stroke="#222" stroke-width="1" /><text transform="translate(338.88,172.40) scale(0.91,1)" font-size="8.7" text-anchor="middle" fill="#1a1a1a">−0.4</text><line x1="358.24" y1="161.40" x2="358.24" y2="163.60" stroke="#222" stroke-width="1" /><text transform="translate(358.24,172.40) scale(0.91,1)" font-size="8.7" text-anchor="middle" fill="#1a1a1a">−0.2</text><line x1="377.60" y1="161.40" x2="377.60" y2="163.60" stroke="#222" stroke-width="1" /><text transform="translate(377.60,172.40) scale(0.91,1)" font-size="8.7" text-anchor="middle" fill="#1a1a1a">0.0</text><line x1="396.96" y1="161.40" x2="396.96" y2="163.60" stroke="#222" stroke-width="1" /><text transform="translate(396.96,172.40) scale(0.91,1)" font-size="8.7" text-anchor="middle" fill="#1a1a1a">0.2</text><line x1="416.32" y1="161.40" x2="416.32" y2="163.60" stroke="#222" stroke-width="1" /><text transform="translate(416.32,172.40) scale(0.91,1)" font-size="8.7" text-anchor="middle" fill="#1a1a1a">0.4</text><line x1="435.68" y1="161.40" x2="435.68" y2="163.60" stroke="#222" stroke-width="1" /><text transform="translate(435.68,172.40) scale(0.91,1)" font-size="8.7" text-anchor="middle" fill="#1a1a1a">0.6</text><line x1="455.04" y1="161.40" x2="455.04" y2="163.60" stroke="#222" stroke-width="1" /><text transform="translate(455.04,172.40) scale(0.91,1)" font-size="8.7" text-anchor="middle" fill="#1a1a1a">0.8</text><text transform="translate(292.7,32.4) scale(0.93,1)" font-size="6.7" fill="#1a1a1a">r=0.57; p &lt; 10e-200; n=13869</text><text x="311.60" y="182.90" font-size="9.5" text-anchor="start" fill="#1a1a1a" >Effect size (GEUVADIS-EUR)</text><text transform="translate(258.6,134.2) rotate(-90)" font-size="9.5" fill="#1a1a1a">Effect size (GTEx)</text><path d="M530.1 80.9h0M538.5 79.8h0M545.1 74.8h0M549.4 87.4h0M610.1 96.8h0M621.4 95.3h0M623.8 95.5h0M625.4 94.6h0M633.5 95.3h0M645.4 91.8h0M645.4 96.8h0M656.7 92.4h0M623.5 102.6h0M647.6 107.8h0" stroke="#6a6a6a" stroke-width="1.5" stroke-linecap="round"/><path d="M534.8 93.3h0M550.7 95.2h0M550.3 96.5h0M549.4 98.2h0M557.1 93.8h0M559.1 96.3h0M527.4 102.2h0M518.4 106.9h0M531.2 105.6h0M529.3 107.4h0M538.6 104.8h0M541.5 106.4h0M550.0 103.7h0M551.3 105.3h0M553.9 106.2h0M556.7 106.9h0M541.0 110.4h0M544.8 109.5h0M549.0 110.6h0M535.0 116.7h0M541.2 116.5h0M544.5 115.7h0M554.7 116.7h0M544.1 121.6h0M543.3 122.7h0M547.1 123.3h0M538.9 127.0h0M540.8 126.4h0M544.1 126.4h0M539.4 130.2h0M540.3 129.4h0M549.2 132.4h0M513.3 130.8h0M515.8 130.3h0M531.9 133.9h0M516.7 140.9h0M536.7 144.2h0M531.4 145.6h0M518.0 149.1h0M521.7 151.3h0M525.2 149.1h0M538.9 150.8h0M528.3 152.6h0M529.2 155.6h0M650.8 29.2h0M647.1 31.7h0M644.5 34.4h0M648.4 34.4h0M656.1 34.4h0M656.9 41.4h0M628.7 43.4h0M638.8 46.1h0M670.4 48.4h0M628.6 52.1h0M630.1 51.4h0M640.4 55.3h0M664.4 57.3h0M628.0 64.3h0M634.3 69.6h0M638.2 69.8h0M638.2 72.2h0M648.4 70.5h0M648.6 72.1h0M657.2 75.4h0M631.5 79.5h0M632.1 80.0h0M633.5 84.0h0M638.3 83.3h0M643.4 82.8h0M654.3 81.9h0M623.9 86.8h0M629.4 87.1h0M635.3 86.5h0M637.1 88.1h0M630.6 89.6h0M647.3 87.4h0" stroke="#f41a1a" stroke-width="1.85" stroke-linecap="round"/><line x1="589.60" y1="22.60" x2="589.60" y2="161.40" stroke="#333" stroke-width="0.9" stroke-dasharray="1.9,1.2"/><line x1="505.30" y1="91.10" x2="678.40" y2="91.10" stroke="#333" stroke-width="0.9" stroke-dasharray="1.9,1.2"/><line x1="519.52" y1="153.30" x2="659.68" y2="28.90" stroke="#7a7a7a" stroke-width="0.75" stroke-dasharray="1.3,1.1"/><rect x="505.3" y="22.6" width="173.10" height="138.80" fill="none" stroke="#222" stroke-width="1.1"/><line x1="503.10" y1="28.90" x2="505.30" y2="28.90" stroke="#222" stroke-width="1" /><text transform="translate(500.50,32.00) scale(0.91,1)" font-size="8.7" text-anchor="end" fill="#1a1a1a">0.8</text><line x1="503.10" y1="44.45" x2="505.30" y2="44.45" stroke="#222" stroke-width="1" /><text transform="translate(500.50,47.55) scale(0.91,1)" font-size="8.7" text-anchor="end" fill="#1a1a1a">0.6</text><line x1="503.10" y1="60.00" x2="505.30" y2="60.00" stroke="#222" stroke-width="1" /><text transform="translate(500.50,63.10) scale(0.91,1)" font-size="8.7" text-anchor="end" fill="#1a1a1a">0.4</text><line x1="503.10" y1="75.55" x2="505.30" y2="75.55" stroke="#222" stroke-width="1" /><text transform="translate(500.50,78.65) scale(0.91,1)" font-size="8.7" text-anchor="end" fill="#1a1a1a">0.2</text><line x1="503.10" y1="91.10" x2="505.30" y2="91.10" stroke="#222" stroke-width="1" /><text transform="translate(500.50,94.20) scale(0.91,1)" font-size="8.7" text-anchor="end" fill="#1a1a1a">0.0</text><line x1="503.10" y1="106.65" x2="505.30" y2="106.65" stroke="#222" stroke-width="1" /><text transform="translate(500.50,109.75) scale(0.91,1)" font-size="8.7" text-anchor="end" fill="#1a1a1a">−0.2</text><line x1="503.10" y1="122.20" x2="505.30" y2="122.20" stroke="#222" stroke-width="1" /><text transform="translate(500.50,125.30) scale(0.91,1)" font-size="8.7" text-anchor="end" fill="#1a1a1a">−0.4</text><line x1="503.10" y1="137.75" x2="505.30" y2="137.75" stroke="#222" stroke-width="1" /><text transform="translate(500.50,140.85) scale(0.91,1)" font-size="8.7" text-anchor="end" fill="#1a1a1a">−0.6</text><line x1="503.10" y1="153.30" x2="505.30" y2="153.30" stroke="#222" stroke-width="1" /><text transform="translate(500.50,156.40) scale(0.91,1)" font-size="8.7" text-anchor="end" fill="#1a1a1a">−0.8</text><line x1="523.90" y1="161.40" x2="523.90" y2="163.60" stroke="#222" stroke-width="1" /><text transform="translate(523.90,172.40) scale(0.91,1)" font-size="8.7" text-anchor="middle" fill="#1a1a1a">−0.75</text><line x1="545.80" y1="161.40" x2="545.80" y2="163.60" stroke="#222" stroke-width="1" /><text transform="translate(545.80,172.40) scale(0.91,1)" font-size="8.7" text-anchor="middle" fill="#1a1a1a">−0.50</text><line x1="567.70" y1="161.40" x2="567.70" y2="163.60" stroke="#222" stroke-width="1" /><text transform="translate(567.70,172.40) scale(0.91,1)" font-size="8.7" text-anchor="middle" fill="#1a1a1a">−0.25</text><line x1="589.60" y1="161.40" x2="589.60" y2="163.60" stroke="#222" stroke-width="1" /><text transform="translate(589.60,172.40) scale(0.91,1)" font-size="8.7" text-anchor="middle" fill="#1a1a1a">0.00</text><line x1="611.50" y1="161.40" x2="611.50" y2="163.60" stroke="#222" stroke-width="1" /><text transform="translate(611.50,172.40) scale(0.91,1)" font-size="8.7" text-anchor="middle" fill="#1a1a1a">0.25</text><line x1="633.40" y1="161.40" x2="633.40" y2="163.60" stroke="#222" stroke-width="1" /><text transform="translate(633.40,172.40) scale(0.91,1)" font-size="8.7" text-anchor="middle" fill="#1a1a1a">0.50</text><line x1="655.30" y1="161.40" x2="655.30" y2="163.60" stroke="#222" stroke-width="1" /><text transform="translate(655.30,172.40) scale(0.91,1)" font-size="8.7" text-anchor="middle" fill="#1a1a1a">0.75</text><line x1="677.20" y1="161.40" x2="677.20" y2="163.60" stroke="#222" stroke-width="1" /><text transform="translate(677.20,172.40) scale(0.91,1)" font-size="8.7" text-anchor="middle" fill="#1a1a1a">1.00</text><text transform="translate(519.6,32.8) scale(0.99,1)" font-size="7.4" fill="#1a1a1a">r=0.77; p=3.3e-19; n=90</text><text x="527.60" y="183.20" font-size="9.5" text-anchor="start" fill="#1a1a1a" >Effect size (GEUVADIS-AFR)</text><text transform="translate(480.1,133.8) rotate(-90)" font-size="9.5" fill="#1a1a1a">Effect size (GTEx)</text><g fill="#ff0000" fill-opacity="0.25"><circle cx="308.0" cy="273.5" r="1.45"/><circle cx="308.0" cy="297.9" r="1.45"/><circle cx="308.0" cy="301.6" r="1.45"/><circle cx="308.0" cy="307.0" r="1.45"/><circle cx="308.0" cy="308.5" r="1.45"/><circle cx="308.0" cy="310.5" r="1.45"/><circle cx="308.0" cy="313.0" r="1.45"/><circle cx="308.0" cy="315.5" r="1.45"/><circle cx="308.0" cy="318.0" r="1.45"/><circle cx="308.0" cy="320.0" r="1.45"/><circle cx="308.0" cy="331.5" r="1.45"/><circle cx="308.0" cy="347.2" r="1.45"/><circle cx="383.3" cy="268.8" r="1.45"/><circle cx="383.3" cy="275.6" r="1.45"/><circle cx="383.3" cy="277.2" r="1.45"/><circle cx="383.3" cy="278.8" r="1.45"/><circle cx="383.3" cy="280.4" r="1.45"/><circle cx="383.3" cy="282.0" r="1.45"/><circle cx="383.3" cy="283.6" r="1.45"/><circle cx="383.3" cy="285.2" r="1.45"/><circle cx="383.3" cy="286.8" r="1.45"/><circle cx="383.3" cy="288.4" r="1.45"/><circle cx="383.3" cy="290.0" r="1.45"/><circle cx="383.3" cy="291.6" r="1.45"/><circle cx="383.3" cy="293.2" r="1.45"/><circle cx="383.3" cy="294.8" r="1.45"/><circle cx="383.3" cy="296.4" r="1.45"/><circle cx="383.3" cy="300.0" r="1.45"/><circle cx="383.3" cy="303.2" r="1.45"/><circle cx="383.3" cy="306.4" r="1.45"/><circle cx="383.3" cy="310.1" r="1.45"/><circle cx="383.3" cy="326.7" r="1.45"/><circle cx="458.6" cy="246.5" r="1.45"/><circle cx="458.6" cy="249.3" r="1.45"/><circle cx="458.6" cy="249.8" r="1.45"/><circle cx="458.6" cy="256.1" r="1.45"/><circle cx="458.6" cy="260.9" r="1.45"/><circle cx="458.6" cy="263.0" r="1.45"/><circle cx="458.6" cy="265.6" r="1.45"/><circle cx="458.6" cy="267.7" r="1.45"/><circle cx="458.6" cy="271.4" r="1.45"/><circle cx="458.6" cy="274.6" r="1.45"/><circle cx="458.6" cy="276.7" r="1.45"/><circle cx="458.6" cy="281.0" r="1.45"/><circle cx="458.6" cy="283.1" r="1.45"/><circle cx="458.6" cy="285.0" r="1.45"/><circle cx="458.6" cy="287.5" r="1.45"/><circle cx="458.6" cy="290.0" r="1.45"/><circle cx="458.6" cy="292.5" r="1.45"/><circle cx="458.6" cy="295.0" r="1.45"/><circle cx="458.6" cy="297.5" r="1.45"/><circle cx="458.6" cy="300.0" r="1.45"/><circle cx="458.6" cy="302.6" r="1.45"/><circle cx="458.6" cy="313.2" r="1.45"/></g><g fill="#0000ff" fill-opacity="0.25"><circle cx="314.4" cy="258.0" r="1.45"/><circle cx="314.4" cy="263.4" r="1.45"/><circle cx="314.4" cy="279.6" r="1.45"/><circle cx="314.4" cy="288.7" r="1.45"/><circle cx="314.4" cy="292.6" r="1.45"/><circle cx="314.4" cy="293.6" r="1.45"/><circle cx="314.4" cy="298.9" r="1.45"/><circle cx="314.4" cy="305.2" r="1.45"/><circle cx="314.4" cy="307.0" r="1.45"/><circle cx="314.4" cy="308.2" r="1.45"/><circle cx="314.4" cy="309.4" r="1.45"/><circle cx="314.4" cy="310.6" r="1.45"/><circle cx="314.4" cy="311.8" r="1.45"/><circle cx="314.4" cy="313.0" r="1.45"/><circle cx="314.4" cy="314.2" r="1.45"/><circle cx="314.4" cy="315.4" r="1.45"/><circle cx="314.4" cy="316.6" r="1.45"/><circle cx="314.4" cy="317.8" r="1.45"/><circle cx="314.4" cy="319.0" r="1.45"/><circle cx="314.4" cy="320.2" r="1.45"/><circle cx="314.4" cy="321.4" r="1.45"/><circle cx="314.4" cy="322.6" r="1.45"/><circle cx="314.4" cy="323.8" r="1.45"/><circle cx="314.4" cy="325.0" r="1.45"/><circle cx="314.4" cy="326.2" r="1.45"/><circle cx="314.4" cy="327.4" r="1.45"/><circle cx="314.4" cy="328.6" r="1.45"/><circle cx="314.4" cy="329.8" r="1.45"/><circle cx="314.4" cy="331.0" r="1.45"/><circle cx="314.4" cy="332.2" r="1.45"/><circle cx="314.4" cy="333.4" r="1.45"/><circle cx="314.4" cy="334.6" r="1.45"/><circle cx="314.4" cy="335.8" r="1.45"/><circle cx="314.4" cy="337.0" r="1.45"/><circle cx="314.4" cy="338.2" r="1.45"/><circle cx="314.4" cy="339.4" r="1.45"/><circle cx="314.4" cy="340.6" r="1.45"/><circle cx="314.4" cy="341.8" r="1.45"/><circle cx="314.4" cy="343.0" r="1.45"/><circle cx="314.4" cy="344.2" r="1.45"/><circle cx="314.4" cy="308.4" r="1.45"/><circle cx="314.4" cy="317.7" r="1.45"/><circle cx="314.4" cy="320.2" r="1.45"/><circle cx="314.4" cy="327.8" r="1.45"/><circle cx="314.4" cy="328.4" r="1.45"/><circle cx="314.4" cy="332.6" r="1.45"/><circle cx="314.4" cy="332.9" r="1.45"/><circle cx="314.4" cy="336.0" r="1.45"/><circle cx="314.4" cy="340.2" r="1.45"/><circle cx="389.7" cy="229.4" r="1.45"/><circle cx="389.7" cy="238.6" r="1.45"/><circle cx="389.7" cy="240.6" r="1.45"/><circle cx="389.7" cy="241.9" r="1.45"/><circle cx="389.7" cy="249.7" r="1.45"/><circle cx="389.7" cy="251.0" r="1.45"/><circle cx="389.7" cy="256.0" r="1.45"/><circle cx="389.7" cy="257.1" r="1.45"/><circle cx="389.7" cy="258.2" r="1.45"/><circle cx="389.7" cy="259.3" r="1.45"/><circle cx="389.7" cy="260.4" r="1.45"/><circle cx="389.7" cy="261.5" r="1.45"/><circle cx="389.7" cy="262.6" r="1.45"/><circle cx="389.7" cy="263.7" r="1.45"/><circle cx="389.7" cy="264.8" r="1.45"/><circle cx="389.7" cy="265.9" r="1.45"/><circle cx="389.7" cy="267.0" r="1.45"/><circle cx="389.7" cy="268.1" r="1.45"/><circle cx="389.7" cy="269.2" r="1.45"/><circle cx="389.7" cy="270.3" r="1.45"/><circle cx="389.7" cy="271.4" r="1.45"/><circle cx="389.7" cy="272.5" r="1.45"/><circle cx="389.7" cy="274.0" r="1.45"/><circle cx="389.7" cy="274.6" r="1.45"/><circle cx="389.7" cy="275.2" r="1.45"/><circle cx="389.7" cy="275.8" r="1.45"/><circle cx="389.7" cy="276.4" r="1.45"/><circle cx="389.7" cy="277.0" r="1.45"/><circle cx="389.7" cy="277.6" r="1.45"/><circle cx="389.7" cy="278.2" r="1.45"/><circle cx="389.7" cy="278.8" r="1.45"/><circle cx="389.7" cy="279.4" r="1.45"/><circle cx="389.7" cy="280.0" r="1.45"/><circle cx="389.7" cy="280.6" r="1.45"/><circle cx="389.7" cy="281.2" r="1.45"/><circle cx="389.7" cy="281.8" r="1.45"/><circle cx="389.7" cy="282.4" r="1.45"/><circle cx="389.7" cy="283.0" r="1.45"/><circle cx="389.7" cy="283.6" r="1.45"/><circle cx="389.7" cy="284.2" r="1.45"/><circle cx="389.7" cy="284.8" r="1.45"/><circle cx="389.7" cy="285.4" r="1.45"/><circle cx="389.7" cy="286.0" r="1.45"/><circle cx="389.7" cy="286.6" r="1.45"/><circle cx="389.7" cy="287.2" r="1.45"/><circle cx="389.7" cy="287.8" r="1.45"/><circle cx="389.7" cy="288.4" r="1.45"/><circle cx="389.7" cy="289.0" r="1.45"/><circle cx="389.7" cy="289.6" r="1.45"/><circle cx="389.7" cy="290.2" r="1.45"/><circle cx="389.7" cy="290.8" r="1.45"/><circle cx="389.7" cy="291.4" r="1.45"/><circle cx="389.7" cy="292.0" r="1.45"/><circle cx="389.7" cy="292.6" r="1.45"/><circle cx="389.7" cy="293.2" r="1.45"/><circle cx="389.7" cy="293.8" r="1.45"/><circle cx="389.7" cy="294.4" r="1.45"/><circle cx="389.7" cy="295.0" r="1.45"/><circle cx="389.7" cy="295.6" r="1.45"/><circle cx="389.7" cy="296.2" r="1.45"/><circle cx="389.7" cy="296.8" r="1.45"/><circle cx="389.7" cy="297.4" r="1.45"/><circle cx="389.7" cy="298.0" r="1.45"/><circle cx="389.7" cy="298.6" r="1.45"/><circle cx="389.7" cy="299.2" r="1.45"/><circle cx="389.7" cy="299.8" r="1.45"/><circle cx="389.7" cy="301.0" r="1.45"/><circle cx="389.7" cy="302.0" r="1.45"/><circle cx="389.7" cy="303.0" r="1.45"/><circle cx="389.7" cy="304.0" r="1.45"/><circle cx="389.7" cy="305.0" r="1.45"/><circle cx="389.7" cy="306.0" r="1.45"/><circle cx="389.7" cy="307.0" r="1.45"/><circle cx="389.7" cy="308.0" r="1.45"/><circle cx="389.7" cy="309.0" r="1.45"/><circle cx="389.7" cy="310.0" r="1.45"/><circle cx="389.7" cy="311.0" r="1.45"/><circle cx="389.7" cy="312.0" r="1.45"/><circle cx="389.7" cy="313.0" r="1.45"/><circle cx="389.7" cy="314.0" r="1.45"/><circle cx="389.7" cy="315.0" r="1.45"/><circle cx="389.7" cy="316.0" r="1.45"/><circle cx="389.7" cy="317.0" r="1.45"/><circle cx="389.7" cy="318.0" r="1.45"/><circle cx="389.7" cy="319.0" r="1.45"/><circle cx="389.7" cy="320.0" r="1.45"/><circle cx="389.7" cy="321.0" r="1.45"/><circle cx="389.7" cy="322.0" r="1.45"/><circle cx="389.7" cy="323.0" r="1.45"/><circle cx="389.7" cy="324.0" r="1.45"/><circle cx="389.7" cy="325.0" r="1.45"/><circle cx="389.7" cy="330.5" r="1.45"/><circle cx="389.7" cy="334.5" r="1.45"/><circle cx="389.7" cy="338.1" r="1.45"/><circle cx="465.2" cy="217.6" r="1.45"/><circle cx="465.2" cy="223.2" r="1.45"/><circle cx="465.2" cy="226.7" r="1.45"/><circle cx="465.2" cy="231.1" r="1.45"/><circle cx="465.2" cy="232.7" r="1.45"/><circle cx="465.2" cy="234.8" r="1.45"/><circle cx="465.2" cy="237.5" r="1.45"/><circle cx="465.2" cy="240.0" r="1.45"/><circle cx="465.2" cy="240.5" r="1.45"/><circle cx="465.2" cy="241.0" r="1.45"/><circle cx="465.2" cy="241.5" r="1.45"/><circle cx="465.2" cy="242.0" r="1.45"/><circle cx="465.2" cy="242.5" r="1.45"/><circle cx="465.2" cy="243.0" r="1.45"/><circle cx="465.2" cy="243.5" r="1.45"/><circle cx="465.2" cy="244.0" r="1.45"/><circle cx="465.2" cy="244.5" r="1.45"/><circle cx="465.2" cy="245.0" r="1.45"/><circle cx="465.2" cy="245.5" r="1.45"/><circle cx="465.2" cy="246.0" r="1.45"/><circle cx="465.2" cy="246.5" r="1.45"/><circle cx="465.2" cy="247.0" r="1.45"/><circle cx="465.2" cy="247.5" r="1.45"/><circle cx="465.2" cy="248.0" r="1.45"/><circle cx="465.2" cy="248.5" r="1.45"/><circle cx="465.2" cy="249.0" r="1.45"/><circle cx="465.2" cy="249.5" r="1.45"/><circle cx="465.2" cy="250.0" r="1.45"/><circle cx="465.2" cy="250.5" r="1.45"/><circle cx="465.2" cy="251.0" r="1.45"/><circle cx="465.2" cy="251.5" r="1.45"/><circle cx="465.2" cy="252.0" r="1.45"/><circle cx="465.2" cy="252.5" r="1.45"/><circle cx="465.2" cy="253.0" r="1.45"/><circle cx="465.2" cy="253.5" r="1.45"/><circle cx="465.2" cy="254.0" r="1.45"/><circle cx="465.2" cy="254.5" r="1.45"/><circle cx="465.2" cy="255.0" r="1.45"/><circle cx="465.2" cy="255.5" r="1.45"/><circle cx="465.2" cy="256.0" r="1.45"/><circle cx="465.2" cy="256.5" r="1.45"/><circle cx="465.2" cy="257.0" r="1.45"/><circle cx="465.2" cy="257.5" r="1.45"/><circle cx="465.2" cy="258.0" r="1.45"/><circle cx="465.2" cy="258.5" r="1.45"/><circle cx="465.2" cy="259.0" r="1.45"/><circle cx="465.2" cy="259.5" r="1.45"/><circle cx="465.2" cy="260.0" r="1.45"/><circle cx="465.2" cy="260.5" r="1.45"/><circle cx="465.2" cy="261.0" r="1.45"/><circle cx="465.2" cy="261.5" r="1.45"/><circle cx="465.2" cy="262.0" r="1.45"/><circle cx="465.2" cy="262.5" r="1.45"/><circle cx="465.2" cy="263.0" r="1.45"/><circle cx="465.2" cy="263.5" r="1.45"/><circle cx="465.2" cy="264.0" r="1.45"/><circle cx="465.2" cy="264.5" r="1.45"/><circle cx="465.2" cy="265.0" r="1.45"/><circle cx="465.2" cy="265.5" r="1.45"/><circle cx="465.2" cy="266.0" r="1.45"/><circle cx="465.2" cy="266.5" r="1.45"/><circle cx="465.2" cy="267.0" r="1.45"/><circle cx="465.2" cy="267.5" r="1.45"/><circle cx="465.2" cy="268.0" r="1.45"/><circle cx="465.2" cy="268.5" r="1.45"/><circle cx="465.2" cy="269.0" r="1.45"/><circle cx="465.2" cy="269.5" r="1.45"/><circle cx="465.2" cy="270.0" r="1.45"/><circle cx="465.2" cy="270.5" r="1.45"/><circle cx="465.2" cy="271.0" r="1.45"/><circle cx="465.2" cy="271.5" r="1.45"/><circle cx="465.2" cy="272.0" r="1.45"/><circle cx="465.2" cy="272.5" r="1.45"/><circle cx="465.2" cy="273.0" r="1.45"/><circle cx="465.2" cy="273.5" r="1.45"/><circle cx="465.2" cy="274.0" r="1.45"/><circle cx="465.2" cy="274.5" r="1.45"/><circle cx="465.2" cy="275.0" r="1.45"/><circle cx="465.2" cy="275.5" r="1.45"/><circle cx="465.2" cy="276.0" r="1.45"/><circle cx="465.2" cy="276.5" r="1.45"/><circle cx="465.2" cy="277.0" r="1.45"/><circle cx="465.2" cy="277.5" r="1.45"/><circle cx="465.2" cy="278.0" r="1.45"/><circle cx="465.2" cy="278.5" r="1.45"/><circle cx="465.2" cy="279.0" r="1.45"/><circle cx="465.2" cy="279.5" r="1.45"/><circle cx="465.2" cy="280.0" r="1.45"/><circle cx="465.2" cy="280.5" r="1.45"/><circle cx="465.2" cy="281.0" r="1.45"/><circle cx="465.2" cy="281.5" r="1.45"/><circle cx="465.2" cy="282.0" r="1.45"/><circle cx="465.2" cy="282.5" r="1.45"/><circle cx="465.2" cy="283.0" r="1.45"/><circle cx="465.2" cy="283.5" r="1.45"/><circle cx="465.2" cy="284.0" r="1.45"/><circle cx="465.2" cy="284.5" r="1.45"/><circle cx="465.2" cy="285.0" r="1.45"/><circle cx="465.2" cy="285.5" r="1.45"/><circle cx="465.2" cy="286.0" r="1.45"/><circle cx="465.2" cy="286.5" r="1.45"/><circle cx="465.2" cy="287.0" r="1.45"/><circle cx="465.2" cy="287.5" r="1.45"/><circle cx="465.2" cy="288.0" r="1.45"/><circle cx="465.2" cy="288.5" r="1.45"/><circle cx="465.2" cy="289.0" r="1.45"/><circle cx="465.2" cy="289.5" r="1.45"/><circle cx="465.2" cy="290.0" r="1.45"/><circle cx="465.2" cy="290.5" r="1.45"/><circle cx="465.2" cy="291.0" r="1.45"/><circle cx="465.2" cy="291.5" r="1.45"/><circle cx="465.2" cy="292.0" r="1.45"/><circle cx="465.2" cy="292.5" r="1.45"/><circle cx="465.2" cy="293.0" r="1.45"/><circle cx="465.2" cy="293.5" r="1.45"/><circle cx="465.2" cy="294.0" r="1.45"/><circle cx="465.2" cy="294.5" r="1.45"/><circle cx="465.2" cy="295.0" r="1.45"/><circle cx="465.2" cy="295.5" r="1.45"/><circle cx="465.2" cy="296.0" r="1.45"/><circle cx="465.2" cy="296.5" r="1.45"/><circle cx="465.2" cy="297.0" r="1.45"/><circle cx="465.2" cy="297.5" r="1.45"/><circle cx="465.2" cy="298.0" r="1.45"/><circle cx="465.2" cy="300.0" r="1.45"/><circle cx="465.2" cy="302.0" r="1.45"/><circle cx="465.2" cy="305.0" r="1.45"/><circle cx="465.2" cy="308.0" r="1.45"/><circle cx="465.2" cy="319.9" r="1.45"/><circle cx="465.2" cy="323.0" r="1.45"/><circle cx="465.2" cy="326.4" r="1.45"/></g><polyline points="310.8,311.6 386.4,290.4 462.0,279.4" fill="none" stroke="#ff0000" stroke-width="1.05"/><circle cx="310.8" cy="311.6" r="1.7" fill="#ff0000"/><circle cx="386.4" cy="290.4" r="1.7" fill="#ff0000"/><circle cx="462.0" cy="279.4" r="1.7" fill="#ff0000"/><polyline points="310.8,318.1 386.4,296.3 462.0,270.4" fill="none" stroke="#0000ff" stroke-width="1.05"/><circle cx="310.8" cy="318.1" r="1.7" fill="#0000ff"/><circle cx="386.4" cy="296.3" r="1.7" fill="#0000ff"/><circle cx="462.0" cy="270.4" r="1.7" fill="#0000ff"/><rect x="305.5" y="214.1" width="40.1" height="23.1" rx="1.2" fill="#fff" fill-opacity="0.8" stroke="#d8d8d8" stroke-width="0.8"/><line x1="308" y1="219.6" x2="323.9" y2="219.6" stroke="#ff0000" stroke-width="1.05"/><circle cx="316" cy="219.6" r="2.3" fill="#ff0000"/><text x="327.4" y="222.9" font-size="7.7" fill="#1a1a1a">AFR</text><line x1="308" y1="231.2" x2="323.9" y2="231.2" stroke="#0000ff" stroke-width="1.05"/><circle cx="316" cy="231.2" r="2.3" fill="#0000ff"/><text x="326.79999999999995" y="232.8" font-size="7.7" fill="#1a1a1a">EUR</text><line x1="300.00" y1="211.10" x2="300.00" y2="354.25" stroke="#4a4a4a" stroke-width="1.5" /><line x1="299.25" y1="353.50" x2="474.00" y2="353.50" stroke="#4a4a4a" stroke-width="1.5" /><line x1="297.80" y1="214.01" x2="300.00" y2="214.01" stroke="#222" stroke-width="1" /><text transform="translate(296.40,216.81) scale(0.91,1)" font-size="8.7" text-anchor="end" fill="#1a1a1a">3</text><line x1="297.80" y1="238.34" x2="300.00" y2="238.34" stroke="#222" stroke-width="1" /><text transform="translate(296.40,241.14) scale(0.91,1)" font-size="8.7" text-anchor="end" fill="#1a1a1a">2</text><line x1="297.80" y1="262.67" x2="300.00" y2="262.67" stroke="#222" stroke-width="1" /><text transform="translate(296.40,265.47) scale(0.91,1)" font-size="8.7" text-anchor="end" fill="#1a1a1a">1</text><line x1="297.80" y1="287.00" x2="300.00" y2="287.00" stroke="#222" stroke-width="1" /><text transform="translate(296.40,289.80) scale(0.91,1)" font-size="8.7" text-anchor="end" fill="#1a1a1a">0</text><line x1="297.80" y1="311.33" x2="300.00" y2="311.33" stroke="#222" stroke-width="1" /><text transform="translate(296.40,314.13) scale(0.91,1)" font-size="8.7" text-anchor="end" fill="#1a1a1a">−1</text><line x1="297.80" y1="335.66" x2="300.00" y2="335.66" stroke="#222" stroke-width="1" /><text transform="translate(296.40,338.46) scale(0.91,1)" font-size="8.7" text-anchor="end" fill="#1a1a1a">−2</text><line x1="304.50" y1="353.50" x2="304.50" y2="355.70" stroke="#222" stroke-width="1" /><text transform="translate(304.50,364.60) scale(0.91,1)" font-size="8.7" text-anchor="middle" fill="#1a1a1a">−25</text><line x1="336.00" y1="353.50" x2="336.00" y2="355.70" stroke="#222" stroke-width="1" /><text transform="translate(336.00,364.60) scale(0.91,1)" font-size="8.7" text-anchor="middle" fill="#1a1a1a">−20</text><line x1="367.50" y1="353.50" x2="367.50" y2="355.70" stroke="#222" stroke-width="1" /><text transform="translate(367.50,364.60) scale(0.91,1)" font-size="8.7" text-anchor="middle" fill="#1a1a1a">−15</text><line x1="399.00" y1="353.50" x2="399.00" y2="355.70" stroke="#222" stroke-width="1" /><text transform="translate(399.00,364.60) scale(0.91,1)" font-size="8.7" text-anchor="middle" fill="#1a1a1a">−10</text><line x1="430.50" y1="353.50" x2="430.50" y2="355.70" stroke="#222" stroke-width="1" /><text transform="translate(430.50,364.60) scale(0.91,1)" font-size="8.7" text-anchor="middle" fill="#1a1a1a">−5</text><line x1="462.00" y1="353.50" x2="462.00" y2="355.70" stroke="#222" stroke-width="1" /><text transform="translate(462.00,364.60) scale(0.91,1)" font-size="8.7" text-anchor="middle" fill="#1a1a1a">0</text><text x="319.30" y="207.80" font-size="10.4" text-anchor="start" fill="#1a1a1a" textLength="125.4" lengthAdjust="spacing">CSTB (CCCCGCCCCGCG</text><text x="444.50" y="209.60" font-size="7.6" text-anchor="start" fill="#1a1a1a" >n</text><text x="449.90" y="207.80" font-size="10.4" text-anchor="start" fill="#1a1a1a" >)</text><text x="346.00" y="374.40" font-size="9.5" text-anchor="start" fill="#1a1a1a" >bp diff from hg38</text><text transform="translate(282.4,332.4) rotate(-90)" font-size="9.5" fill="#1a1a1a">Normalized expression</text><g fill="#ff0000" fill-opacity="0.25"><circle cx="524.4" cy="294.4" r="1.45"/><circle cx="524.4" cy="298.0" r="1.45"/><circle cx="524.4" cy="301.3" r="1.45"/><circle cx="524.4" cy="305.6" r="1.45"/><circle cx="524.4" cy="308.2" r="1.45"/><circle cx="524.4" cy="311.0" r="1.45"/><circle cx="524.4" cy="315.9" r="1.45"/><circle cx="524.4" cy="319.3" r="1.45"/><circle cx="538.3" cy="254.2" r="1.45"/><circle cx="538.3" cy="260.2" r="1.45"/><circle cx="538.3" cy="268.8" r="1.45"/><circle cx="538.3" cy="275.6" r="1.45"/><circle cx="538.3" cy="281.7" r="1.45"/><circle cx="538.3" cy="284.2" r="1.45"/><circle cx="538.3" cy="286.8" r="1.45"/><circle cx="538.3" cy="288.0" r="1.45"/><circle cx="538.3" cy="290.0" r="1.45"/><circle cx="538.3" cy="295.3" r="1.45"/><circle cx="538.3" cy="300.5" r="1.45"/><circle cx="538.3" cy="303.0" r="1.45"/><circle cx="538.3" cy="305.5" r="1.45"/><circle cx="538.3" cy="308.0" r="1.45"/><circle cx="538.3" cy="309.0" r="1.45"/><circle cx="538.3" cy="317.6" r="1.45"/><circle cx="538.3" cy="321.9" r="1.45"/><circle cx="538.3" cy="334.8" r="1.45"/><circle cx="538.3" cy="339.1" r="1.45"/><circle cx="538.3" cy="286.0" r="1.45"/><circle cx="538.3" cy="288.2" r="1.45"/><circle cx="538.3" cy="290.4" r="1.45"/><circle cx="538.3" cy="292.6" r="1.45"/><circle cx="538.3" cy="294.8" r="1.45"/><circle cx="538.3" cy="297.0" r="1.45"/><circle cx="538.3" cy="299.2" r="1.45"/><circle cx="538.3" cy="301.4" r="1.45"/><circle cx="538.3" cy="303.6" r="1.45"/><circle cx="538.3" cy="305.8" r="1.45"/><circle cx="538.3" cy="308.0" r="1.45"/><circle cx="538.3" cy="310.2" r="1.45"/><circle cx="538.3" cy="312.4" r="1.45"/><circle cx="538.3" cy="314.6" r="1.45"/><circle cx="538.3" cy="316.8" r="1.45"/><circle cx="538.3" cy="319.0" r="1.45"/><circle cx="538.3" cy="321.2" r="1.45"/><circle cx="552.2" cy="262.8" r="1.45"/><circle cx="552.2" cy="268.8" r="1.45"/><circle cx="552.2" cy="274.8" r="1.45"/><circle cx="552.2" cy="279.9" r="1.45"/><circle cx="552.2" cy="284.2" r="1.45"/><circle cx="552.2" cy="286.0" r="1.45"/><circle cx="552.2" cy="287.7" r="1.45"/><circle cx="552.2" cy="291.9" r="1.45"/><circle cx="552.2" cy="296.2" r="1.45"/><circle cx="552.2" cy="301.3" r="1.45"/><circle cx="552.2" cy="303.0" r="1.45"/><circle cx="552.2" cy="304.7" r="1.45"/><circle cx="552.2" cy="311.6" r="1.45"/><circle cx="552.2" cy="314.2" r="1.45"/><circle cx="552.2" cy="319.3" r="1.45"/><circle cx="552.2" cy="272.0" r="1.45"/><circle cx="552.2" cy="275.0" r="1.45"/><circle cx="552.2" cy="278.0" r="1.45"/><circle cx="552.2" cy="281.0" r="1.45"/><circle cx="552.2" cy="284.0" r="1.45"/><circle cx="552.2" cy="287.0" r="1.45"/><circle cx="552.2" cy="290.0" r="1.45"/><circle cx="552.2" cy="293.0" r="1.45"/><circle cx="552.2" cy="296.0" r="1.45"/><circle cx="552.2" cy="299.0" r="1.45"/><circle cx="552.2" cy="302.0" r="1.45"/><circle cx="552.2" cy="305.0" r="1.45"/><circle cx="552.2" cy="308.0" r="1.45"/><circle cx="566.1" cy="255.0" r="1.45"/><circle cx="566.1" cy="266.2" r="1.45"/><circle cx="566.1" cy="269.6" r="1.45"/><circle cx="566.1" cy="272.2" r="1.45"/><circle cx="566.1" cy="276.5" r="1.45"/><circle cx="566.1" cy="284.2" r="1.45"/><circle cx="566.1" cy="285.0" r="1.45"/><circle cx="566.1" cy="291.0" r="1.45"/><circle cx="566.1" cy="298.4" r="1.45"/><circle cx="594.2" cy="257.0" r="1.45"/><circle cx="594.2" cy="266.9" r="1.45"/><circle cx="594.2" cy="274.3" r="1.45"/><circle cx="594.2" cy="279.6" r="1.45"/><circle cx="594.2" cy="312.4" r="1.45"/><circle cx="621.7" cy="252.1" r="1.45"/><circle cx="621.7" cy="271.1" r="1.45"/></g><g fill="#0000ff" fill-opacity="0.25"><circle cx="517.4" cy="281.7" r="1.45"/><circle cx="517.4" cy="284.2" r="1.45"/><circle cx="517.4" cy="285.0" r="1.45"/><circle cx="517.4" cy="291.9" r="1.45"/><circle cx="517.4" cy="297.9" r="1.45"/><circle cx="517.4" cy="323.6" r="1.45"/><circle cx="531.1" cy="268.0" r="1.45"/><circle cx="531.1" cy="269.5" r="1.45"/><circle cx="531.1" cy="271.0" r="1.45"/><circle cx="531.1" cy="272.5" r="1.45"/><circle cx="531.1" cy="274.0" r="1.45"/><circle cx="531.1" cy="275.5" r="1.45"/><circle cx="531.1" cy="277.0" r="1.45"/><circle cx="531.1" cy="278.5" r="1.45"/><circle cx="531.1" cy="280.0" r="1.45"/><circle cx="531.1" cy="281.5" r="1.45"/><circle cx="531.1" cy="283.0" r="1.45"/><circle cx="531.1" cy="284.5" r="1.45"/><circle cx="531.1" cy="286.0" r="1.45"/><circle cx="531.1" cy="287.5" r="1.45"/><circle cx="531.1" cy="289.0" r="1.45"/><circle cx="531.1" cy="290.5" r="1.45"/><circle cx="531.1" cy="292.0" r="1.45"/><circle cx="531.1" cy="293.5" r="1.45"/><circle cx="531.1" cy="295.0" r="1.45"/><circle cx="531.1" cy="296.5" r="1.45"/><circle cx="531.1" cy="298.0" r="1.45"/><circle cx="531.1" cy="299.5" r="1.45"/><circle cx="531.1" cy="301.0" r="1.45"/><circle cx="531.1" cy="302.5" r="1.45"/><circle cx="531.1" cy="304.0" r="1.45"/><circle cx="531.1" cy="305.5" r="1.45"/><circle cx="531.1" cy="307.0" r="1.45"/><circle cx="531.1" cy="308.5" r="1.45"/><circle cx="531.1" cy="310.0" r="1.45"/><circle cx="531.1" cy="311.5" r="1.45"/><circle cx="531.1" cy="313.0" r="1.45"/><circle cx="531.1" cy="314.5" r="1.45"/><circle cx="531.1" cy="316.0" r="1.45"/><circle cx="531.1" cy="317.5" r="1.45"/><circle cx="531.1" cy="319.0" r="1.45"/><circle cx="531.1" cy="320.5" r="1.45"/><circle cx="531.1" cy="322.0" r="1.45"/><circle cx="531.1" cy="267.9" r="1.45"/><circle cx="531.1" cy="270.5" r="1.45"/><circle cx="531.1" cy="273.1" r="1.45"/><circle cx="531.1" cy="279.9" r="1.45"/><circle cx="531.1" cy="282.5" r="1.45"/><circle cx="531.1" cy="285.0" r="1.45"/><circle cx="531.1" cy="286.8" r="1.45"/><circle cx="531.1" cy="287.6" r="1.45"/><circle cx="531.1" cy="289.3" r="1.45"/><circle cx="531.1" cy="291.9" r="1.45"/><circle cx="531.1" cy="294.4" r="1.45"/><circle cx="531.1" cy="297.9" r="1.45"/><circle cx="531.1" cy="300.5" r="1.45"/><circle cx="531.1" cy="303.9" r="1.45"/><circle cx="531.1" cy="307.3" r="1.45"/><circle cx="531.1" cy="310.8" r="1.45"/><circle cx="531.1" cy="314.2" r="1.45"/><circle cx="531.1" cy="316.8" r="1.45"/><circle cx="531.1" cy="319.3" r="1.45"/><circle cx="531.1" cy="321.9" r="1.45"/><circle cx="531.1" cy="327.9" r="1.45"/><circle cx="531.1" cy="341.7" r="1.45"/><circle cx="531.1" cy="346.8" r="1.45"/><circle cx="545.3" cy="246.0" r="1.45"/><circle cx="545.3" cy="247.2" r="1.45"/><circle cx="545.3" cy="248.4" r="1.45"/><circle cx="545.3" cy="249.6" r="1.45"/><circle cx="545.3" cy="250.8" r="1.45"/><circle cx="545.3" cy="252.0" r="1.45"/><circle cx="545.3" cy="253.2" r="1.45"/><circle cx="545.3" cy="254.4" r="1.45"/><circle cx="545.3" cy="255.6" r="1.45"/><circle cx="545.3" cy="256.8" r="1.45"/><circle cx="545.3" cy="258.0" r="1.45"/><circle cx="545.3" cy="259.2" r="1.45"/><circle cx="545.3" cy="260.4" r="1.45"/><circle cx="545.3" cy="261.6" r="1.45"/><circle cx="545.3" cy="262.8" r="1.45"/><circle cx="545.3" cy="264.0" r="1.45"/><circle cx="545.3" cy="265.2" r="1.45"/><circle cx="545.3" cy="266.4" r="1.45"/><circle cx="545.3" cy="267.6" r="1.45"/><circle cx="545.3" cy="268.8" r="1.45"/><circle cx="545.3" cy="270.0" r="1.45"/><circle cx="545.3" cy="271.2" r="1.45"/><circle cx="545.3" cy="272.4" r="1.45"/><circle cx="545.3" cy="273.6" r="1.45"/><circle cx="545.3" cy="274.8" r="1.45"/><circle cx="545.3" cy="276.0" r="1.45"/><circle cx="545.3" cy="277.2" r="1.45"/><circle cx="545.3" cy="278.4" r="1.45"/><circle cx="545.3" cy="279.6" r="1.45"/><circle cx="545.3" cy="280.8" r="1.45"/><circle cx="545.3" cy="282.0" r="1.45"/><circle cx="545.3" cy="283.2" r="1.45"/><circle cx="545.3" cy="284.4" r="1.45"/><circle cx="545.3" cy="285.6" r="1.45"/><circle cx="545.3" cy="286.8" r="1.45"/><circle cx="545.3" cy="288.0" r="1.45"/><circle cx="545.3" cy="289.2" r="1.45"/><circle cx="545.3" cy="290.4" r="1.45"/><circle cx="545.3" cy="291.6" r="1.45"/><circle cx="545.3" cy="292.8" r="1.45"/><circle cx="545.3" cy="294.0" r="1.45"/><circle cx="545.3" cy="295.2" r="1.45"/><circle cx="545.3" cy="296.4" r="1.45"/><circle cx="545.3" cy="297.6" r="1.45"/><circle cx="545.3" cy="298.8" r="1.45"/><circle cx="545.3" cy="300.0" r="1.45"/><circle cx="545.3" cy="301.2" r="1.45"/><circle cx="545.3" cy="302.4" r="1.45"/><circle cx="545.3" cy="303.6" r="1.45"/><circle cx="545.3" cy="304.8" r="1.45"/><circle cx="545.3" cy="306.0" r="1.45"/><circle cx="545.3" cy="307.2" r="1.45"/><circle cx="545.3" cy="308.4" r="1.45"/><circle cx="545.3" cy="309.6" r="1.45"/><circle cx="545.3" cy="310.8" r="1.45"/><circle cx="545.3" cy="312.0" r="1.45"/><circle cx="545.3" cy="313.2" r="1.45"/><circle cx="545.3" cy="314.4" r="1.45"/><circle cx="545.3" cy="315.6" r="1.45"/><circle cx="545.3" cy="316.8" r="1.45"/><circle cx="545.3" cy="318.0" r="1.45"/><circle cx="545.3" cy="319.2" r="1.45"/><circle cx="545.3" cy="320.4" r="1.45"/><circle cx="545.3" cy="321.6" r="1.45"/><circle cx="545.3" cy="322.8" r="1.45"/><circle cx="545.3" cy="324.0" r="1.45"/><circle cx="545.3" cy="325.2" r="1.45"/><circle cx="545.3" cy="326.4" r="1.45"/><circle cx="545.3" cy="327.6" r="1.45"/><circle cx="545.3" cy="328.8" r="1.45"/><circle cx="545.3" cy="330.0" r="1.45"/><circle cx="545.3" cy="331.2" r="1.45"/><circle cx="545.3" cy="332.4" r="1.45"/><circle cx="545.3" cy="333.6" r="1.45"/><circle cx="545.3" cy="245.6" r="1.45"/><circle cx="545.3" cy="246.5" r="1.45"/><circle cx="545.3" cy="249.0" r="1.45"/><circle cx="545.3" cy="256.8" r="1.45"/><circle cx="545.3" cy="261.0" r="1.45"/><circle cx="545.3" cy="263.6" r="1.45"/><circle cx="545.3" cy="266.2" r="1.45"/><circle cx="545.3" cy="268.8" r="1.45"/><circle cx="545.3" cy="272.2" r="1.45"/><circle cx="545.3" cy="274.8" r="1.45"/><circle cx="545.3" cy="276.5" r="1.45"/><circle cx="545.3" cy="279.9" r="1.45"/><circle cx="545.3" cy="284.2" r="1.45"/><circle cx="545.3" cy="287.7" r="1.45"/><circle cx="545.3" cy="285.0" r="1.45"/><circle cx="545.3" cy="286.3" r="1.45"/><circle cx="545.3" cy="287.6" r="1.45"/><circle cx="545.3" cy="288.9" r="1.45"/><circle cx="545.3" cy="290.2" r="1.45"/><circle cx="545.3" cy="291.5" r="1.45"/><circle cx="545.3" cy="292.8" r="1.45"/><circle cx="545.3" cy="294.1" r="1.45"/><circle cx="545.3" cy="295.4" r="1.45"/><circle cx="545.3" cy="296.7" r="1.45"/><circle cx="545.3" cy="298.0" r="1.45"/><circle cx="545.3" cy="299.3" r="1.45"/><circle cx="545.3" cy="300.6" r="1.45"/><circle cx="545.3" cy="301.9" r="1.45"/><circle cx="545.3" cy="303.2" r="1.45"/><circle cx="545.3" cy="304.5" r="1.45"/><circle cx="545.3" cy="305.8" r="1.45"/><circle cx="545.3" cy="307.1" r="1.45"/><circle cx="545.3" cy="308.4" r="1.45"/><circle cx="545.3" cy="309.7" r="1.45"/><circle cx="545.3" cy="311.0" r="1.45"/><circle cx="545.3" cy="312.3" r="1.45"/><circle cx="545.3" cy="313.6" r="1.45"/><circle cx="545.3" cy="314.9" r="1.45"/><circle cx="545.3" cy="316.2" r="1.45"/><circle cx="545.3" cy="317.5" r="1.45"/><circle cx="545.3" cy="318.8" r="1.45"/><circle cx="545.3" cy="320.1" r="1.45"/><circle cx="545.3" cy="321.4" r="1.45"/><circle cx="545.3" cy="322.7" r="1.45"/><circle cx="545.3" cy="324.0" r="1.45"/><circle cx="545.3" cy="325.3" r="1.45"/><circle cx="545.3" cy="326.6" r="1.45"/><circle cx="545.3" cy="327.9" r="1.45"/><circle cx="545.3" cy="329.2" r="1.45"/><circle cx="545.3" cy="330.5" r="1.45"/><circle cx="545.3" cy="331.8" r="1.45"/><circle cx="545.3" cy="336.5" r="1.45"/><circle cx="559.4" cy="258.0" r="1.45"/><circle cx="559.4" cy="260.2" r="1.45"/><circle cx="559.4" cy="262.4" r="1.45"/><circle cx="559.4" cy="264.6" r="1.45"/><circle cx="559.4" cy="266.8" r="1.45"/><circle cx="559.4" cy="269.0" r="1.45"/><circle cx="559.4" cy="271.2" r="1.45"/><circle cx="559.4" cy="273.4" r="1.45"/><circle cx="559.4" cy="275.6" r="1.45"/><circle cx="559.4" cy="277.8" r="1.45"/><circle cx="559.4" cy="280.0" r="1.45"/><circle cx="559.4" cy="282.2" r="1.45"/><circle cx="559.4" cy="284.4" r="1.45"/><circle cx="559.4" cy="286.6" r="1.45"/><circle cx="559.4" cy="288.8" r="1.45"/><circle cx="559.4" cy="291.0" r="1.45"/><circle cx="559.4" cy="293.2" r="1.45"/><circle cx="559.4" cy="295.4" r="1.45"/><circle cx="559.4" cy="297.6" r="1.45"/><circle cx="559.4" cy="299.8" r="1.45"/><circle cx="559.4" cy="257.6" r="1.45"/><circle cx="559.4" cy="260.2" r="1.45"/><circle cx="559.4" cy="261.9" r="1.45"/><circle cx="559.4" cy="266.2" r="1.45"/><circle cx="559.4" cy="270.5" r="1.45"/><circle cx="559.4" cy="273.1" r="1.45"/><circle cx="559.4" cy="275.6" r="1.45"/><circle cx="559.4" cy="278.2" r="1.45"/><circle cx="559.4" cy="280.8" r="1.45"/><circle cx="559.4" cy="284.2" r="1.45"/><circle cx="559.4" cy="287.7" r="1.45"/><circle cx="559.4" cy="291.5" r="1.45"/><circle cx="559.4" cy="296.2" r="1.45"/><circle cx="559.4" cy="299.6" r="1.45"/><circle cx="559.4" cy="302.2" r="1.45"/><circle cx="573.3" cy="242.2" r="1.45"/><circle cx="573.3" cy="253.3" r="1.45"/><circle cx="573.3" cy="256.8" r="1.45"/><circle cx="573.3" cy="283.4" r="1.45"/><circle cx="573.3" cy="294.4" r="1.45"/><circle cx="587.0" cy="247.8" r="1.45"/><circle cx="587.0" cy="252.1" r="1.45"/><circle cx="587.0" cy="259.5" r="1.45"/><circle cx="587.0" cy="262.0" r="1.45"/><circle cx="587.0" cy="264.5" r="1.45"/><circle cx="587.0" cy="267.0" r="1.45"/><circle cx="587.0" cy="269.0" r="1.45"/><circle cx="587.0" cy="276.4" r="1.45"/><circle cx="587.0" cy="280.7" r="1.45"/><circle cx="587.0" cy="286.9" r="1.45"/><circle cx="587.0" cy="287.0" r="1.45"/><circle cx="587.0" cy="289.6" r="1.45"/><circle cx="587.0" cy="291.3" r="1.45"/><circle cx="587.0" cy="293.9" r="1.45"/><circle cx="587.0" cy="298.0" r="1.45"/><circle cx="587.0" cy="312.4" r="1.45"/><circle cx="600.9" cy="224.5" r="1.45"/><circle cx="600.9" cy="227.7" r="1.45"/><circle cx="600.9" cy="235.1" r="1.45"/><circle cx="600.9" cy="236.0" r="1.45"/><circle cx="600.9" cy="236.9" r="1.45"/><circle cx="600.9" cy="237.8" r="1.45"/><circle cx="600.9" cy="238.7" r="1.45"/><circle cx="600.9" cy="239.6" r="1.45"/><circle cx="600.9" cy="240.5" r="1.45"/><circle cx="600.9" cy="241.4" r="1.45"/><circle cx="600.9" cy="242.3" r="1.45"/><circle cx="600.9" cy="243.2" r="1.45"/><circle cx="600.9" cy="244.1" r="1.45"/><circle cx="600.9" cy="245.0" r="1.45"/><circle cx="600.9" cy="245.9" r="1.45"/><circle cx="600.9" cy="246.8" r="1.45"/><circle cx="600.9" cy="247.7" r="1.45"/><circle cx="600.9" cy="248.6" r="1.45"/><circle cx="600.9" cy="249.5" r="1.45"/><circle cx="600.9" cy="250.4" r="1.45"/><circle cx="600.9" cy="251.3" r="1.45"/><circle cx="600.9" cy="252.2" r="1.45"/><circle cx="600.9" cy="253.1" r="1.45"/><circle cx="600.9" cy="254.0" r="1.45"/><circle cx="600.9" cy="254.9" r="1.45"/><circle cx="600.9" cy="255.8" r="1.45"/><circle cx="600.9" cy="256.7" r="1.45"/><circle cx="600.9" cy="257.6" r="1.45"/><circle cx="600.9" cy="258.5" r="1.45"/><circle cx="600.9" cy="259.4" r="1.45"/><circle cx="600.9" cy="260.3" r="1.45"/><circle cx="600.9" cy="261.2" r="1.45"/><circle cx="600.9" cy="262.1" r="1.45"/><circle cx="600.9" cy="263.0" r="1.45"/><circle cx="600.9" cy="263.9" r="1.45"/><circle cx="600.9" cy="264.8" r="1.45"/><circle cx="600.9" cy="265.7" r="1.45"/><circle cx="600.9" cy="266.6" r="1.45"/><circle cx="600.9" cy="267.5" r="1.45"/><circle cx="600.9" cy="268.4" r="1.45"/><circle cx="600.9" cy="269.3" r="1.45"/><circle cx="600.9" cy="270.2" r="1.45"/><circle cx="600.9" cy="271.1" r="1.45"/><circle cx="600.9" cy="272.0" r="1.45"/><circle cx="600.9" cy="272.9" r="1.45"/><circle cx="600.9" cy="273.8" r="1.45"/><circle cx="600.9" cy="274.7" r="1.45"/><circle cx="600.9" cy="275.6" r="1.45"/><circle cx="600.9" cy="276.5" r="1.45"/><circle cx="600.9" cy="277.4" r="1.45"/><circle cx="600.9" cy="278.3" r="1.45"/><circle cx="600.9" cy="279.2" r="1.45"/><circle cx="600.9" cy="280.1" r="1.45"/><circle cx="600.9" cy="281.0" r="1.45"/><circle cx="600.9" cy="281.9" r="1.45"/><circle cx="600.9" cy="282.8" r="1.45"/><circle cx="600.9" cy="283.7" r="1.45"/><circle cx="600.9" cy="284.6" r="1.45"/><circle cx="600.9" cy="285.5" r="1.45"/><circle cx="600.9" cy="286.4" r="1.45"/><circle cx="600.9" cy="287.3" r="1.45"/><circle cx="600.9" cy="288.2" r="1.45"/><circle cx="600.9" cy="289.1" r="1.45"/><circle cx="600.9" cy="290.0" r="1.45"/><circle cx="600.9" cy="245.0" r="1.45"/><circle cx="600.9" cy="246.3" r="1.45"/><circle cx="600.9" cy="247.6" r="1.45"/><circle cx="600.9" cy="248.9" r="1.45"/><circle cx="600.9" cy="250.2" r="1.45"/><circle cx="600.9" cy="251.5" r="1.45"/><circle cx="600.9" cy="252.8" r="1.45"/><circle cx="600.9" cy="254.1" r="1.45"/><circle cx="600.9" cy="255.4" r="1.45"/><circle cx="600.9" cy="256.7" r="1.45"/><circle cx="600.9" cy="258.0" r="1.45"/><circle cx="600.9" cy="259.3" r="1.45"/><circle cx="600.9" cy="260.6" r="1.45"/><circle cx="600.9" cy="261.9" r="1.45"/><circle cx="600.9" cy="263.2" r="1.45"/><circle cx="600.9" cy="264.5" r="1.45"/><circle cx="600.9" cy="265.8" r="1.45"/><circle cx="600.9" cy="267.1" r="1.45"/><circle cx="600.9" cy="268.4" r="1.45"/><circle cx="600.9" cy="269.7" r="1.45"/><circle cx="600.9" cy="271.0" r="1.45"/><circle cx="600.9" cy="272.3" r="1.45"/><circle cx="600.9" cy="273.6" r="1.45"/><circle cx="600.9" cy="274.9" r="1.45"/><circle cx="600.9" cy="276.2" r="1.45"/><circle cx="600.9" cy="277.5" r="1.45"/><circle cx="600.9" cy="278.8" r="1.45"/><circle cx="600.9" cy="280.1" r="1.45"/><circle cx="600.9" cy="281.4" r="1.45"/><circle cx="600.9" cy="282.7" r="1.45"/><circle cx="600.9" cy="284.0" r="1.45"/><circle cx="600.9" cy="295.7" r="1.45"/><circle cx="600.9" cy="298.3" r="1.45"/><circle cx="600.9" cy="308.1" r="1.45"/><circle cx="614.8" cy="230.9" r="1.45"/><circle cx="614.8" cy="236.2" r="1.45"/><circle cx="614.8" cy="240.4" r="1.45"/><circle cx="614.8" cy="244.7" r="1.45"/><circle cx="614.8" cy="246.8" r="1.45"/><circle cx="614.8" cy="248.9" r="1.45"/><circle cx="614.8" cy="252.1" r="1.45"/><circle cx="614.8" cy="257.4" r="1.45"/><circle cx="614.8" cy="263.7" r="1.45"/><circle cx="614.8" cy="269.0" r="1.45"/><circle cx="614.8" cy="273.3" r="1.45"/><circle cx="614.8" cy="277.5" r="1.45"/><circle cx="614.8" cy="282.8" r="1.45"/><circle cx="614.8" cy="288.1" r="1.45"/><circle cx="628.8" cy="222.9" r="1.45"/><circle cx="628.8" cy="241.5" r="1.45"/><circle cx="628.8" cy="251.0" r="1.45"/><circle cx="628.8" cy="265.8" r="1.45"/><circle cx="628.8" cy="270.0" r="1.45"/><circle cx="628.8" cy="272.3" r="1.45"/><circle cx="628.8" cy="273.3" r="1.45"/><circle cx="656.7" cy="233.0" r="1.45"/><circle cx="656.7" cy="236.8" r="1.45"/><circle cx="656.7" cy="248.7" r="1.45"/><circle cx="656.7" cy="251.0" r="1.45"/><circle cx="656.7" cy="255.4" r="1.45"/><circle cx="656.7" cy="259.0" r="1.45"/><circle cx="656.7" cy="275.7" r="1.45"/><circle cx="671.1" cy="217.7" r="1.45"/><circle cx="671.1" cy="230.3" r="1.45"/><circle cx="671.1" cy="234.8" r="1.45"/><circle cx="671.1" cy="253.9" r="1.45"/><circle cx="671.1" cy="278.4" r="1.45"/></g><polyline points="527.5,305.6 541.5,293.2 555.3,290.8 569.3,274.8 597.2,274.0 624.9,261.3" fill="none" stroke="#ff0000" stroke-width="1.05"/><circle cx="527.5" cy="305.6" r="1.7" fill="#ff0000"/><circle cx="541.5" cy="293.2" r="1.7" fill="#ff0000"/><circle cx="555.3" cy="290.8" r="1.7" fill="#ff0000"/><circle cx="569.3" cy="274.8" r="1.7" fill="#ff0000"/><circle cx="597.2" cy="274.0" r="1.7" fill="#ff0000"/><circle cx="624.9" cy="261.3" r="1.7" fill="#ff0000"/><polyline points="513.5,291.5 527.5,297.4 541.4,292.8 555.3,278.2 569.4,257.4 583.3,274.3 597.1,266.6 611.3,259.6 624.9,257.4 653.1,250.7 666.9,234.6" fill="none" stroke="#0000ff" stroke-width="1.05"/><circle cx="513.5" cy="291.5" r="1.7" fill="#0000ff"/><circle cx="527.5" cy="297.4" r="1.7" fill="#0000ff"/><circle cx="541.4" cy="292.8" r="1.7" fill="#0000ff"/><circle cx="555.3" cy="278.2" r="1.7" fill="#0000ff"/><circle cx="569.4" cy="257.4" r="1.7" fill="#0000ff"/><circle cx="583.3" cy="274.3" r="1.7" fill="#0000ff"/><circle cx="597.1" cy="266.6" r="1.7" fill="#0000ff"/><circle cx="611.3" cy="259.6" r="1.7" fill="#0000ff"/><circle cx="624.9" cy="257.4" r="1.7" fill="#0000ff"/><circle cx="653.1" cy="250.7" r="1.7" fill="#0000ff"/><circle cx="666.9" cy="234.6" r="1.7" fill="#0000ff"/><rect x="511.8" y="211.2" width="40.8" height="24.1" rx="1.2" fill="#fff" fill-opacity="0.8" stroke="#d8d8d8" stroke-width="0.8"/><line x1="514" y1="217.4" x2="530.9" y2="217.4" stroke="#ff0000" stroke-width="1.05"/><circle cx="522.3" cy="217.4" r="2.3" fill="#ff0000"/><text x="534.0" y="220.2" font-size="7.7" fill="#1a1a1a">AFR</text><line x1="514" y1="228.6" x2="530.9" y2="228.6" stroke="#0000ff" stroke-width="1.05"/><circle cx="522.3" cy="228.6" r="2.3" fill="#0000ff"/><text x="533.4" y="230.5" font-size="7.7" fill="#1a1a1a">EUR</text><line x1="505.10" y1="211.20" x2="505.10" y2="354.05" stroke="#4a4a4a" stroke-width="1.5" /><line x1="504.35" y1="353.30" x2="678.30" y2="353.30" stroke="#4a4a4a" stroke-width="1.5" /><line x1="502.90" y1="214.49" x2="505.10" y2="214.49" stroke="#222" stroke-width="1" /><text transform="translate(501.50,217.29) scale(0.91,1)" font-size="8.7" text-anchor="end" fill="#1a1a1a">3</text><line x1="502.90" y1="237.16" x2="505.10" y2="237.16" stroke="#222" stroke-width="1" /><text transform="translate(501.50,239.96) scale(0.91,1)" font-size="8.7" text-anchor="end" fill="#1a1a1a">2</text><line x1="502.90" y1="259.83" x2="505.10" y2="259.83" stroke="#222" stroke-width="1" /><text transform="translate(501.50,262.63) scale(0.91,1)" font-size="8.7" text-anchor="end" fill="#1a1a1a">1</text><line x1="502.90" y1="282.50" x2="505.10" y2="282.50" stroke="#222" stroke-width="1" /><text transform="translate(501.50,285.30) scale(0.91,1)" font-size="8.7" text-anchor="end" fill="#1a1a1a">0</text><line x1="502.90" y1="305.17" x2="505.10" y2="305.17" stroke="#222" stroke-width="1" /><text transform="translate(501.50,307.97) scale(0.91,1)" font-size="8.7" text-anchor="end" fill="#1a1a1a">−1</text><line x1="502.90" y1="327.84" x2="505.10" y2="327.84" stroke="#222" stroke-width="1" /><text transform="translate(501.50,330.64) scale(0.91,1)" font-size="8.7" text-anchor="end" fill="#1a1a1a">−2</text><line x1="502.90" y1="350.51" x2="505.10" y2="350.51" stroke="#222" stroke-width="1" /><text transform="translate(501.50,353.31) scale(0.91,1)" font-size="8.7" text-anchor="end" fill="#1a1a1a">−3</text><line x1="513.50" y1="353.30" x2="513.50" y2="355.50" stroke="#222" stroke-width="1" /><text transform="translate(513.50,364.60) scale(0.91,1)" font-size="8.7" text-anchor="middle" fill="#1a1a1a">−20</text><line x1="548.50" y1="353.30" x2="548.50" y2="355.50" stroke="#222" stroke-width="1" /><text transform="translate(548.50,364.60) scale(0.91,1)" font-size="8.7" text-anchor="middle" fill="#1a1a1a">−15</text><line x1="583.50" y1="353.30" x2="583.50" y2="355.50" stroke="#222" stroke-width="1" /><text transform="translate(583.50,364.60) scale(0.91,1)" font-size="8.7" text-anchor="middle" fill="#1a1a1a">−10</text><line x1="618.50" y1="353.30" x2="618.50" y2="355.50" stroke="#222" stroke-width="1" /><text transform="translate(618.50,364.60) scale(0.91,1)" font-size="8.7" text-anchor="middle" fill="#1a1a1a">−5</text><line x1="653.50" y1="353.30" x2="653.50" y2="355.50" stroke="#222" stroke-width="1" /><text transform="translate(653.50,364.60) scale(0.91,1)" font-size="8.7" text-anchor="middle" fill="#1a1a1a">0</text><text x="557.20" y="207.70" font-size="10.4" text-anchor="start" fill="#1a1a1a" textLength="61.4" lengthAdjust="spacing">TIMM10 (AT</text><text x="618.40" y="209.60" font-size="7.6" text-anchor="start" fill="#1a1a1a" >n</text><text x="623.90" y="207.70" font-size="10.4" text-anchor="start" fill="#1a1a1a" >)</text><text x="551.80" y="374.40" font-size="9.5" text-anchor="start" fill="#1a1a1a" >bp diff from hg38</text><text transform="translate(488.4,332.4) rotate(-90)" font-size="9.5" fill="#1a1a1a">Normalized expression</text>
</svg></body></html>
